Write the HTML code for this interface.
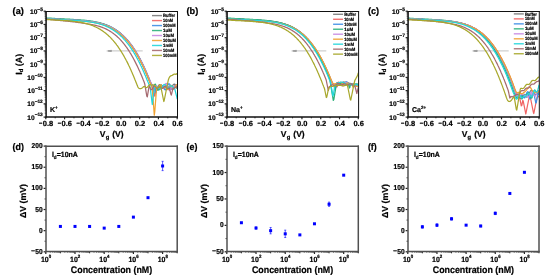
<!DOCTYPE html>
<html><head><meta charset="utf-8"><style>
html,body{margin:0;padding:0;background:#fff;}
svg{display:block;font-family:"Liberation Sans", sans-serif;will-change:transform;text-rendering:geometricPrecision;}
text{stroke:#000;stroke-width:0.2px;}
</style></head><body>
<svg width="550" height="279" viewBox="0 0 550 279" xmlns="http://www.w3.org/2000/svg">
<rect width="550" height="279" fill="#fff"/>
<defs><filter id="soft" x="0" y="0" width="550" height="279" filterUnits="userSpaceOnUse" color-interpolation-filters="sRGB"><feConvolveMatrix order="3" kernelMatrix="1 2 1 2 14 2 1 2 1" divisor="26" edgeMode="duplicate"/></filter><clipPath id="clip0"><rect x="45.8" y="11.2" width="131.40" height="105.90"/></clipPath><clipPath id="clip1"><rect x="226.8" y="11.2" width="131.50" height="105.90"/></clipPath><clipPath id="clip2"><rect x="407.8" y="11.2" width="131.20" height="105.90"/></clipPath></defs>
<g>
<line x1="108.9" y1="50.9" x2="142.7" y2="50.9" stroke="#cfcfcf" stroke-width="1.4" />
<path d="M105.9,50.9 L111.4,49.8 L111.4,52 Z" fill="#9a9a9a"/>
<line x1="107.9" y1="50.9" x2="111.9" y2="50.9" stroke="#a0a0a0" stroke-width="1.5" />
<g clip-path="url(#clip0)">
<path d="M45.8,18.5 L46.3,18.5 L46.8,18.5 L47.3,18.5 L47.8,18.6 L48.3,18.6 L48.8,18.6 L49.3,18.7 L49.8,18.7 L50.3,18.7 L50.8,18.8 L51.3,18.8 L51.8,18.8 L52.3,18.8 L52.8,18.9 L53.3,18.9 L53.8,18.9 L54.3,19.0 L54.8,19.0 L55.3,19.0 L55.8,19.0 L56.3,19.1 L56.8,19.1 L57.3,19.1 L57.8,19.2 L58.3,19.2 L58.8,19.2 L59.3,19.2 L59.8,19.3 L60.3,19.3 L60.8,19.3 L61.3,19.3 L61.8,19.4 L62.3,19.4 L62.8,19.4 L63.3,19.4 L63.8,19.5 L64.3,19.5 L64.8,19.5 L65.3,19.6 L65.8,19.6 L66.3,19.6 L66.8,19.6 L67.3,19.7 L67.8,19.7 L68.3,19.7 L68.8,19.7 L69.3,19.8 L69.8,19.8 L70.3,19.8 L70.8,19.8 L71.3,19.9 L71.8,19.9 L72.3,19.9 L72.8,20.0 L73.3,20.0 L73.8,20.0 L74.3,20.0 L74.8,20.1 L75.3,20.1 L75.8,20.1 L76.3,20.2 L76.8,20.2 L77.3,20.2 L77.8,20.3 L78.3,20.3 L78.8,20.3 L79.3,20.4 L79.8,20.4 L80.3,20.4 L80.8,20.5 L81.3,20.5 L81.8,20.5 L82.3,20.6 L82.8,20.6 L83.3,20.7 L83.8,20.7 L84.3,20.8 L84.8,20.8 L85.3,20.9 L85.8,20.9 L86.3,21.0 L86.8,21.0 L87.3,21.1 L87.8,21.1 L88.3,21.2 L88.8,21.2 L89.3,21.3 L89.8,21.4 L90.3,21.4 L90.8,21.5 L91.3,21.6 L91.8,21.6 L92.3,21.7 L92.8,21.8 L93.3,21.9 L93.8,21.9 L94.3,22.0 L94.8,22.1 L95.3,22.2 L95.8,22.3 L96.3,22.4 L96.8,22.5 L97.3,22.6 L97.8,22.7 L98.3,22.8 L98.8,22.9 L99.3,23.0 L99.8,23.1 L100.3,23.3 L100.8,23.4 L101.3,23.5 L101.8,23.7 L102.3,23.8 L102.8,24.0 L103.3,24.1 L103.8,24.3 L104.3,24.4 L104.8,24.6 L105.3,24.8 L105.8,24.9 L106.3,25.1 L106.8,25.3 L107.3,25.5 L107.8,25.7 L108.3,25.9 L108.8,26.1 L109.3,26.4 L109.8,26.6 L110.3,26.8 L110.8,27.1 L111.3,27.3 L111.8,27.6 L112.3,27.8 L112.8,28.1 L113.3,28.4 L113.8,28.6 L114.3,28.9 L114.8,29.2 L115.3,29.6 L115.8,29.9 L116.3,30.2 L116.8,30.5 L117.3,30.9 L117.8,31.2 L118.3,31.6 L118.8,32.0 L119.3,32.3 L119.8,32.7 L120.3,33.1 L120.8,33.6 L121.3,34.0 L121.8,34.4 L122.3,34.9 L122.8,35.3 L123.3,35.8 L123.8,36.2 L124.3,36.7 L124.8,37.2 L125.3,37.7 L125.8,38.3 L126.3,38.8 L126.8,39.4 L127.3,39.9 L127.8,40.5 L128.3,41.1 L128.8,41.7 L129.3,42.3 L129.8,42.9 L130.3,43.5 L130.8,44.2 L131.3,44.9 L131.8,45.5 L132.3,46.2 L132.8,46.9 L133.3,47.7 L133.8,48.4 L134.3,49.1 L134.8,49.9 L135.3,50.7 L135.8,51.5 L136.3,52.3 L136.8,53.1 L137.3,53.9 L137.8,54.8 L138.3,55.7 L138.8,56.6 L139.3,57.5 L139.8,58.4 L140.3,59.3 L140.8,60.3 L141.3,61.2 L141.8,62.2 L142.3,63.2 L142.8,64.2 L143.3,65.3 L143.8,66.3 L144.3,67.4 L144.8,68.5 L145.3,69.6 L145.8,70.7 L146.3,71.9 L146.8,73.0 L147.3,74.2 L147.8,75.4 L148.3,76.6 L148.8,77.8 L149.3,79.0 L149.8,80.2 L150.3,81.4 L150.8,82.5 L151.3,83.5 L151.8,84.4 L152.3,85.3 L152.8,86.1 L153.3,86.9 L153.8,87.7 L154.3,88.4 L154.8,88.9 L155.3,89.1 L155.8,89.1 L156.3,91.0 L156.8,90.5 L157.3,88.0 L157.8,86.7 L158.3,85.9 L158.8,85.3 L159.3,84.8 L159.8,84.6 L160.3,84.7 L160.8,85.0 L161.3,85.5 L161.8,86.1 L162.3,86.7 L162.8,87.3 L163.3,87.8 L163.8,88.0 L164.3,88.1 L164.8,88.0 L165.3,87.9 L165.8,87.6 L166.3,87.4 L166.8,87.3 L167.3,87.3 L167.8,87.4 L168.3,87.6 L168.8,87.8 L169.3,88.1 L169.8,88.2 L170.3,88.1 L170.8,87.9 L171.3,87.4 L171.8,86.8 L172.3,86.1 L172.8,85.3 L173.3,84.7 L173.8,84.3 L174.3,84.1 L174.8,84.3 L175.3,84.8 L175.8,85.5 L176.3,86.5 L176.8,87.5 L177.2,88.4" fill="none" stroke="#7a7a7a" stroke-width="1.25" stroke-linejoin="round" stroke-linecap="round" />
<path d="M45.8,18.5 L46.3,18.5 L46.8,18.6 L47.3,18.6 L47.8,18.6 L48.3,18.6 L48.8,18.7 L49.3,18.7 L49.8,18.7 L50.3,18.8 L50.8,18.8 L51.3,18.8 L51.8,18.9 L52.3,18.9 L52.8,18.9 L53.3,18.9 L53.8,19.0 L54.3,19.0 L54.8,19.0 L55.3,19.1 L55.8,19.1 L56.3,19.1 L56.8,19.1 L57.3,19.2 L57.8,19.2 L58.3,19.2 L58.8,19.2 L59.3,19.3 L59.8,19.3 L60.3,19.3 L60.8,19.3 L61.3,19.4 L61.8,19.4 L62.3,19.4 L62.8,19.5 L63.3,19.5 L63.8,19.5 L64.3,19.5 L64.8,19.6 L65.3,19.6 L65.8,19.6 L66.3,19.6 L66.8,19.7 L67.3,19.7 L67.8,19.7 L68.3,19.7 L68.8,19.8 L69.3,19.8 L69.8,19.8 L70.3,19.9 L70.8,19.9 L71.3,19.9 L71.8,19.9 L72.3,20.0 L72.8,20.0 L73.3,20.0 L73.8,20.0 L74.3,20.1 L74.8,20.1 L75.3,20.1 L75.8,20.2 L76.3,20.2 L76.8,20.2 L77.3,20.3 L77.8,20.3 L78.3,20.3 L78.8,20.4 L79.3,20.4 L79.8,20.4 L80.3,20.5 L80.8,20.5 L81.3,20.6 L81.8,20.6 L82.3,20.6 L82.8,20.7 L83.3,20.7 L83.8,20.8 L84.3,20.8 L84.8,20.9 L85.3,20.9 L85.8,21.0 L86.3,21.0 L86.8,21.1 L87.3,21.1 L87.8,21.2 L88.3,21.2 L88.8,21.3 L89.3,21.4 L89.8,21.4 L90.3,21.5 L90.8,21.6 L91.3,21.6 L91.8,21.7 L92.3,21.8 L92.8,21.9 L93.3,21.9 L93.8,22.0 L94.3,22.1 L94.8,22.2 L95.3,22.3 L95.8,22.4 L96.3,22.5 L96.8,22.6 L97.3,22.7 L97.8,22.8 L98.3,22.9 L98.8,23.1 L99.3,23.2 L99.8,23.3 L100.3,23.4 L100.8,23.6 L101.3,23.7 L101.8,23.8 L102.3,24.0 L102.8,24.1 L103.3,24.3 L103.8,24.5 L104.3,24.6 L104.8,24.8 L105.3,25.0 L105.8,25.2 L106.3,25.4 L106.8,25.6 L107.3,25.8 L107.8,26.0 L108.3,26.2 L108.8,26.4 L109.3,26.6 L109.8,26.9 L110.3,27.1 L110.8,27.4 L111.3,27.6 L111.8,27.9 L112.3,28.1 L112.8,28.4 L113.3,28.7 L113.8,29.0 L114.3,29.3 L114.8,29.6 L115.3,29.9 L115.8,30.3 L116.3,30.6 L116.8,30.9 L117.3,31.3 L117.8,31.7 L118.3,32.0 L118.8,32.4 L119.3,32.8 L119.8,33.2 L120.3,33.6 L120.8,34.1 L121.3,34.5 L121.8,34.9 L122.3,35.4 L122.8,35.9 L123.3,36.3 L123.8,36.8 L124.3,37.3 L124.8,37.9 L125.3,38.4 L125.8,38.9 L126.3,39.5 L126.8,40.0 L127.3,40.6 L127.8,41.2 L128.3,41.8 L128.8,42.4 L129.3,43.0 L129.8,43.7 L130.3,44.3 L130.8,45.0 L131.3,45.7 L131.8,46.4 L132.3,47.1 L132.8,47.8 L133.3,48.5 L133.8,49.3 L134.3,50.1 L134.8,50.8 L135.3,51.6 L135.8,52.4 L136.3,53.3 L136.8,54.1 L137.3,55.0 L137.8,55.9 L138.3,56.7 L138.8,57.6 L139.3,58.6 L139.8,59.5 L140.3,60.5 L140.8,61.4 L141.3,62.4 L141.8,63.4 L142.3,64.4 L142.8,65.5 L143.3,66.5 L143.8,67.6 L144.3,68.7 L144.8,69.8 L145.3,70.9 L145.8,72.1 L146.3,73.2 L146.8,74.4 L147.3,75.6 L147.8,76.8 L148.3,78.0 L148.8,79.2 L149.3,80.4 L149.8,81.6 L150.3,82.7 L150.8,83.7 L151.3,84.7 L151.8,85.6 L152.3,86.4 L152.8,87.0 L153.3,88.4 L153.8,91.9 L154.3,95.4 L154.8,96.1 L155.3,92.6 L155.8,89.1 L156.3,87.4 L156.8,87.1 L157.3,86.9 L157.8,86.7 L158.3,86.6 L158.8,86.6 L159.3,86.6 L159.8,86.8 L160.3,86.9 L160.8,87.1 L161.3,87.2 L161.8,87.3 L162.3,87.3 L162.8,87.2 L163.3,87.0 L163.8,86.8 L164.3,86.5 L164.8,86.2 L165.3,86.0 L165.8,85.8 L166.3,85.7 L166.8,85.8 L167.3,86.0 L167.8,86.4 L168.3,86.8 L168.8,87.3 L169.3,87.8 L169.8,88.3 L170.3,88.7 L170.8,89.0 L171.3,89.1 L171.8,89.1 L172.3,88.8 L172.8,88.4 L173.3,87.9 L173.8,87.2 L174.3,86.6 L174.8,86.0 L175.3,85.5 L175.8,85.1 L176.3,84.9 L176.8,84.8 L177.2,84.9" fill="none" stroke="#f06464" stroke-width="1.25" stroke-linejoin="round" stroke-linecap="round" />
<path d="M45.8,18.5 L46.3,18.5 L46.8,18.5 L47.3,18.6 L47.8,18.6 L48.3,18.6 L48.8,18.7 L49.3,18.7 L49.8,18.7 L50.3,18.7 L50.8,18.8 L51.3,18.8 L51.8,18.8 L52.3,18.9 L52.8,18.9 L53.3,18.9 L53.8,19.0 L54.3,19.0 L54.8,19.0 L55.3,19.0 L55.8,19.1 L56.3,19.1 L56.8,19.1 L57.3,19.1 L57.8,19.2 L58.3,19.2 L58.8,19.2 L59.3,19.3 L59.8,19.3 L60.3,19.3 L60.8,19.3 L61.3,19.4 L61.8,19.4 L62.3,19.4 L62.8,19.4 L63.3,19.5 L63.8,19.5 L64.3,19.5 L64.8,19.5 L65.3,19.6 L65.8,19.6 L66.3,19.6 L66.8,19.6 L67.3,19.7 L67.8,19.7 L68.3,19.7 L68.8,19.8 L69.3,19.8 L69.8,19.8 L70.3,19.8 L70.8,19.9 L71.3,19.9 L71.8,19.9 L72.3,19.9 L72.8,20.0 L73.3,20.0 L73.8,20.0 L74.3,20.1 L74.8,20.1 L75.3,20.1 L75.8,20.2 L76.3,20.2 L76.8,20.2 L77.3,20.2 L77.8,20.3 L78.3,20.3 L78.8,20.3 L79.3,20.4 L79.8,20.4 L80.3,20.5 L80.8,20.5 L81.3,20.5 L81.8,20.6 L82.3,20.6 L82.8,20.7 L83.3,20.7 L83.8,20.7 L84.3,20.8 L84.8,20.8 L85.3,20.9 L85.8,20.9 L86.3,21.0 L86.8,21.0 L87.3,21.1 L87.8,21.1 L88.3,21.2 L88.8,21.3 L89.3,21.3 L89.8,21.4 L90.3,21.5 L90.8,21.5 L91.3,21.6 L91.8,21.7 L92.3,21.7 L92.8,21.8 L93.3,21.9 L93.8,22.0 L94.3,22.1 L94.8,22.2 L95.3,22.2 L95.8,22.3 L96.3,22.4 L96.8,22.5 L97.3,22.6 L97.8,22.8 L98.3,22.9 L98.8,23.0 L99.3,23.1 L99.8,23.2 L100.3,23.4 L100.8,23.5 L101.3,23.6 L101.8,23.8 L102.3,23.9 L102.8,24.1 L103.3,24.2 L103.8,24.4 L104.3,24.5 L104.8,24.7 L105.3,24.9 L105.8,25.1 L106.3,25.2 L106.8,25.4 L107.3,25.6 L107.8,25.8 L108.3,26.0 L108.8,26.3 L109.3,26.5 L109.8,26.7 L110.3,27.0 L110.8,27.2 L111.3,27.5 L111.8,27.7 L112.3,28.0 L112.8,28.3 L113.3,28.5 L113.8,28.8 L114.3,29.1 L114.8,29.4 L115.3,29.7 L115.8,30.1 L116.3,30.4 L116.8,30.7 L117.3,31.1 L117.8,31.4 L118.3,31.8 L118.8,32.2 L119.3,32.6 L119.8,33.0 L120.3,33.4 L120.8,33.8 L121.3,34.2 L121.8,34.7 L122.3,35.1 L122.8,35.6 L123.3,36.1 L123.8,36.5 L124.3,37.0 L124.8,37.5 L125.3,38.1 L125.8,38.6 L126.3,39.1 L126.8,39.7 L127.3,40.3 L127.8,40.8 L128.3,41.4 L128.8,42.0 L129.3,42.7 L129.8,43.3 L130.3,43.9 L130.8,44.6 L131.3,45.3 L131.8,45.9 L132.3,46.6 L132.8,47.4 L133.3,48.1 L133.8,48.8 L134.3,49.6 L134.8,50.4 L135.3,51.2 L135.8,52.0 L136.3,52.8 L136.8,53.6 L137.3,54.5 L137.8,55.3 L138.3,56.2 L138.8,57.1 L139.3,58.0 L139.8,58.9 L140.3,59.9 L140.8,60.8 L141.3,61.8 L141.8,62.8 L142.3,63.8 L142.8,64.9 L143.3,65.9 L143.8,67.0 L144.3,68.1 L144.8,69.1 L145.3,70.3 L145.8,71.4 L146.3,72.5 L146.8,73.7 L147.3,74.9 L147.8,76.1 L148.3,77.3 L148.8,78.5 L149.3,79.7 L149.8,81.0 L150.3,82.2 L150.8,83.5 L151.3,84.7 L151.8,85.7 L152.3,86.5 L152.8,86.7 L153.3,86.4 L153.8,85.8 L154.3,86.2 L154.8,89.2 L155.3,92.2 L155.8,92.8 L156.3,89.8 L156.8,86.8 L157.3,87.6 L157.8,88.3 L158.3,88.6 L158.8,88.6 L159.3,88.2 L159.8,87.5 L160.3,86.7 L160.8,86.0 L161.3,85.4 L161.8,85.3 L162.3,85.6 L162.8,86.2 L163.3,87.1 L163.8,88.2 L164.3,89.1 L164.8,89.7 L165.3,89.9 L165.8,89.5 L166.3,88.8 L166.8,87.6 L167.3,86.4 L167.8,85.2 L168.3,84.3 L168.8,83.8 L169.3,83.8 L169.8,84.4 L170.3,85.4 L170.8,86.6 L171.3,87.8 L171.8,88.8 L172.3,89.4 L172.8,89.5 L173.3,89.2 L173.8,88.4 L174.3,87.5 L174.8,86.4 L175.3,85.5 L175.8,85.0 L176.3,84.8 L176.8,85.0 L177.2,85.5" fill="none" stroke="#3d8ee6" stroke-width="1.25" stroke-linejoin="round" stroke-linecap="round" />
<path d="M45.8,17.9 L46.3,17.9 L46.8,18.0 L47.3,18.0 L47.8,18.0 L48.3,18.1 L48.8,18.1 L49.3,18.1 L49.8,18.2 L50.3,18.2 L50.8,18.2 L51.3,18.2 L51.8,18.3 L52.3,18.3 L52.8,18.3 L53.3,18.4 L53.8,18.4 L54.3,18.4 L54.8,18.4 L55.3,18.5 L55.8,18.5 L56.3,18.5 L56.8,18.6 L57.3,18.6 L57.8,18.6 L58.3,18.6 L58.8,18.7 L59.3,18.7 L59.8,18.7 L60.3,18.7 L60.8,18.8 L61.3,18.8 L61.8,18.8 L62.3,18.8 L62.8,18.9 L63.3,18.9 L63.8,18.9 L64.3,18.9 L64.8,19.0 L65.3,19.0 L65.8,19.0 L66.3,19.1 L66.8,19.1 L67.3,19.1 L67.8,19.1 L68.3,19.2 L68.8,19.2 L69.3,19.2 L69.8,19.2 L70.3,19.3 L70.8,19.3 L71.3,19.3 L71.8,19.4 L72.3,19.4 L72.8,19.4 L73.3,19.4 L73.8,19.5 L74.3,19.5 L74.8,19.5 L75.3,19.6 L75.8,19.6 L76.3,19.6 L76.8,19.7 L77.3,19.7 L77.8,19.7 L78.3,19.8 L78.8,19.8 L79.3,19.8 L79.8,19.9 L80.3,19.9 L80.8,19.9 L81.3,20.0 L81.8,20.0 L82.3,20.1 L82.8,20.1 L83.3,20.2 L83.8,20.2 L84.3,20.2 L84.8,20.3 L85.3,20.3 L85.8,20.4 L86.3,20.4 L86.8,20.5 L87.3,20.6 L87.8,20.6 L88.3,20.7 L88.8,20.7 L89.3,20.8 L89.8,20.9 L90.3,20.9 L90.8,21.0 L91.3,21.1 L91.8,21.2 L92.3,21.2 L92.8,21.3 L93.3,21.4 L93.8,21.5 L94.3,21.6 L94.8,21.7 L95.3,21.8 L95.8,21.9 L96.3,22.0 L96.8,22.1 L97.3,22.2 L97.8,22.3 L98.3,22.4 L98.8,22.5 L99.3,22.6 L99.8,22.8 L100.3,22.9 L100.8,23.0 L101.3,23.2 L101.8,23.3 L102.3,23.5 L102.8,23.6 L103.3,23.8 L103.8,24.0 L104.3,24.1 L104.8,24.3 L105.3,24.5 L105.8,24.7 L106.3,24.9 L106.8,25.1 L107.3,25.3 L107.8,25.5 L108.3,25.7 L108.8,25.9 L109.3,26.2 L109.8,26.4 L110.3,26.7 L110.8,26.9 L111.3,27.2 L111.8,27.4 L112.3,27.7 L112.8,28.0 L113.3,28.3 L113.8,28.6 L114.3,28.9 L114.8,29.2 L115.3,29.5 L115.8,29.9 L116.3,30.2 L116.8,30.6 L117.3,30.9 L117.8,31.3 L118.3,31.7 L118.8,32.1 L119.3,32.5 L119.8,32.9 L120.3,33.3 L120.8,33.7 L121.3,34.2 L121.8,34.6 L122.3,35.1 L122.8,35.6 L123.3,36.0 L123.8,36.5 L124.3,37.0 L124.8,37.6 L125.3,38.1 L125.8,38.6 L126.3,39.2 L126.8,39.8 L127.3,40.4 L127.8,40.9 L128.3,41.6 L128.8,42.2 L129.3,42.8 L129.8,43.5 L130.3,44.1 L130.8,44.8 L131.3,45.5 L131.8,46.2 L132.3,46.9 L132.8,47.6 L133.3,48.4 L133.8,49.1 L134.3,49.9 L134.8,50.7 L135.3,51.5 L135.8,52.3 L136.3,53.2 L136.8,54.0 L137.3,54.9 L137.8,55.8 L138.3,56.7 L138.8,57.6 L139.3,58.5 L139.8,59.5 L140.3,60.4 L140.8,61.4 L141.3,62.4 L141.8,63.4 L142.3,64.5 L142.8,65.5 L143.3,66.6 L143.8,67.7 L144.3,68.8 L144.8,69.9 L145.3,71.0 L145.8,72.2 L146.3,73.3 L146.8,74.5 L147.3,75.7 L147.8,77.0 L148.3,78.2 L148.8,79.4 L149.3,80.6 L149.8,81.7 L150.3,82.7 L150.8,83.9 L151.3,85.1 L151.8,86.3 L152.3,87.4 L152.8,87.9 L153.3,87.6 L153.8,86.5 L154.3,85.2 L154.8,84.3 L155.3,84.2 L155.8,85.0 L156.3,86.4 L156.8,88.1 L157.3,89.5 L157.8,90.1 L158.3,89.8 L158.8,90.0 L159.3,89.5 L159.8,87.0 L160.3,84.8 L160.8,84.6 L161.3,85.1 L161.8,86.1 L162.3,87.2 L162.8,88.0 L163.3,88.3 L163.8,88.0 L164.3,87.4 L164.8,86.7 L165.3,86.3 L165.8,86.3 L166.3,86.7 L166.8,87.3 L167.3,87.9 L167.8,88.1 L168.3,88.0 L168.8,87.4 L169.3,86.7 L169.8,86.1 L170.3,85.8 L170.8,85.9 L171.3,86.3 L171.8,86.9 L172.3,87.4 L172.8,87.6 L173.3,87.5 L173.8,87.2 L174.3,86.8 L174.8,86.6 L175.3,86.7 L175.8,87.1 L176.3,87.7 L176.8,88.1 L177.2,88.2" fill="none" stroke="#2bb07a" stroke-width="1.25" stroke-linejoin="round" stroke-linecap="round" />
<path d="M45.8,18.5 L46.3,18.5 L46.8,18.5 L47.3,18.6 L47.8,18.6 L48.3,18.6 L48.8,18.7 L49.3,18.7 L49.8,18.7 L50.3,18.7 L50.8,18.8 L51.3,18.8 L51.8,18.8 L52.3,18.9 L52.8,18.9 L53.3,18.9 L53.8,18.9 L54.3,19.0 L54.8,19.0 L55.3,19.0 L55.8,19.1 L56.3,19.1 L56.8,19.1 L57.3,19.1 L57.8,19.2 L58.3,19.2 L58.8,19.2 L59.3,19.2 L59.8,19.3 L60.3,19.3 L60.8,19.3 L61.3,19.4 L61.8,19.4 L62.3,19.4 L62.8,19.4 L63.3,19.5 L63.8,19.5 L64.3,19.5 L64.8,19.5 L65.3,19.6 L65.8,19.6 L66.3,19.6 L66.8,19.6 L67.3,19.7 L67.8,19.7 L68.3,19.7 L68.8,19.7 L69.3,19.8 L69.8,19.8 L70.3,19.8 L70.8,19.9 L71.3,19.9 L71.8,19.9 L72.3,19.9 L72.8,20.0 L73.3,20.0 L73.8,20.0 L74.3,20.1 L74.8,20.1 L75.3,20.1 L75.8,20.1 L76.3,20.2 L76.8,20.2 L77.3,20.2 L77.8,20.3 L78.3,20.3 L78.8,20.3 L79.3,20.4 L79.8,20.4 L80.3,20.4 L80.8,20.5 L81.3,20.5 L81.8,20.6 L82.3,20.6 L82.8,20.6 L83.3,20.7 L83.8,20.7 L84.3,20.8 L84.8,20.8 L85.3,20.9 L85.8,20.9 L86.3,21.0 L86.8,21.0 L87.3,21.1 L87.8,21.1 L88.3,21.2 L88.8,21.3 L89.3,21.3 L89.8,21.4 L90.3,21.4 L90.8,21.5 L91.3,21.6 L91.8,21.7 L92.3,21.7 L92.8,21.8 L93.3,21.9 L93.8,22.0 L94.3,22.1 L94.8,22.1 L95.3,22.2 L95.8,22.3 L96.3,22.4 L96.8,22.5 L97.3,22.6 L97.8,22.7 L98.3,22.8 L98.8,23.0 L99.3,23.1 L99.8,23.2 L100.3,23.3 L100.8,23.5 L101.3,23.6 L101.8,23.7 L102.3,23.9 L102.8,24.0 L103.3,24.2 L103.8,24.3 L104.3,24.5 L104.8,24.7 L105.3,24.8 L105.8,25.0 L106.3,25.2 L106.8,25.4 L107.3,25.6 L107.8,25.8 L108.3,26.0 L108.8,26.2 L109.3,26.4 L109.8,26.7 L110.3,26.9 L110.8,27.2 L111.3,27.4 L111.8,27.7 L112.3,27.9 L112.8,28.2 L113.3,28.5 L113.8,28.8 L114.3,29.1 L114.8,29.4 L115.3,29.7 L115.8,30.0 L116.3,30.3 L116.8,30.7 L117.3,31.0 L117.8,31.4 L118.3,31.7 L118.8,32.1 L119.3,32.5 L119.8,32.9 L120.3,33.3 L120.8,33.7 L121.3,34.1 L121.8,34.6 L122.3,35.0 L122.8,35.5 L123.3,36.0 L123.8,36.4 L124.3,36.9 L124.8,37.4 L125.3,38.0 L125.8,38.5 L126.3,39.0 L126.8,39.6 L127.3,40.1 L127.8,40.7 L128.3,41.3 L128.8,41.9 L129.3,42.5 L129.8,43.2 L130.3,43.8 L130.8,44.5 L131.3,45.1 L131.8,45.8 L132.3,46.5 L132.8,47.2 L133.3,47.9 L133.8,48.7 L134.3,49.4 L134.8,50.2 L135.3,51.0 L135.8,51.8 L136.3,52.6 L136.8,53.4 L137.3,54.3 L137.8,55.1 L138.3,56.0 L138.8,56.9 L139.3,57.8 L139.8,58.8 L140.3,59.7 L140.8,60.7 L141.3,61.6 L141.8,62.6 L142.3,63.6 L142.8,64.7 L143.3,65.7 L143.8,66.8 L144.3,67.8 L144.8,68.9 L145.3,70.0 L145.8,71.2 L146.3,72.3 L146.8,73.5 L147.3,74.7 L147.8,75.8 L148.3,77.1 L148.8,78.2 L149.3,79.4 L149.8,80.5 L150.3,81.6 L150.8,82.7 L151.3,83.9 L151.8,85.0 L152.3,86.2 L152.8,87.1 L153.3,87.7 L153.8,87.8 L154.3,87.3 L154.8,86.7 L155.3,86.1 L155.8,85.8 L156.3,86.0 L156.8,86.6 L157.3,87.3 L157.8,88.0 L158.3,88.3 L158.8,88.3 L159.3,87.9 L159.8,87.3 L160.3,87.0 L160.8,89.5 L161.3,89.0 L161.8,87.1 L162.3,87.7 L162.8,88.2 L163.3,88.3 L163.8,87.9 L164.3,86.9 L164.8,85.7 L165.3,84.4 L165.8,83.6 L166.3,83.4 L166.8,84.0 L167.3,85.2 L167.8,86.8 L168.3,88.5 L168.8,89.7 L169.3,90.3 L169.8,90.3 L170.3,89.6 L170.8,88.7 L171.3,87.7 L171.8,87.0 L172.3,86.7 L172.8,86.7 L173.3,86.9 L173.8,87.1 L174.3,87.0 L174.8,86.7 L175.3,86.1 L175.8,85.4 L176.3,85.0 L176.8,84.8 L177.2,85.0" fill="none" stroke="#c88ae2" stroke-width="1.25" stroke-linejoin="round" stroke-linecap="round" />
<path d="M45.8,19.0 L46.3,19.0 L46.8,19.0 L47.3,19.1 L47.8,19.1 L48.3,19.1 L48.8,19.2 L49.3,19.2 L49.8,19.2 L50.3,19.3 L50.8,19.3 L51.3,19.3 L51.8,19.3 L52.3,19.4 L52.8,19.4 L53.3,19.4 L53.8,19.5 L54.3,19.5 L54.8,19.5 L55.3,19.5 L55.8,19.6 L56.3,19.6 L56.8,19.6 L57.3,19.7 L57.8,19.7 L58.3,19.7 L58.8,19.7 L59.3,19.8 L59.8,19.8 L60.3,19.8 L60.8,19.8 L61.3,19.9 L61.8,19.9 L62.3,19.9 L62.8,19.9 L63.3,20.0 L63.8,20.0 L64.3,20.0 L64.8,20.1 L65.3,20.1 L65.8,20.1 L66.3,20.1 L66.8,20.2 L67.3,20.2 L67.8,20.2 L68.3,20.2 L68.8,20.3 L69.3,20.3 L69.8,20.3 L70.3,20.3 L70.8,20.4 L71.3,20.4 L71.8,20.4 L72.3,20.5 L72.8,20.5 L73.3,20.5 L73.8,20.5 L74.3,20.6 L74.8,20.6 L75.3,20.6 L75.8,20.7 L76.3,20.7 L76.8,20.7 L77.3,20.8 L77.8,20.8 L78.3,20.8 L78.8,20.9 L79.3,20.9 L79.8,20.9 L80.3,21.0 L80.8,21.0 L81.3,21.0 L81.8,21.1 L82.3,21.1 L82.8,21.2 L83.3,21.2 L83.8,21.3 L84.3,21.3 L84.8,21.4 L85.3,21.4 L85.8,21.5 L86.3,21.5 L86.8,21.6 L87.3,21.6 L87.8,21.7 L88.3,21.7 L88.8,21.8 L89.3,21.9 L89.8,21.9 L90.3,22.0 L90.8,22.1 L91.3,22.1 L91.8,22.2 L92.3,22.3 L92.8,22.4 L93.3,22.4 L93.8,22.5 L94.3,22.6 L94.8,22.7 L95.3,22.8 L95.8,22.9 L96.3,23.0 L96.8,23.1 L97.3,23.2 L97.8,23.3 L98.3,23.4 L98.8,23.5 L99.3,23.6 L99.8,23.8 L100.3,23.9 L100.8,24.0 L101.3,24.2 L101.8,24.3 L102.3,24.5 L102.8,24.6 L103.3,24.8 L103.8,24.9 L104.3,25.1 L104.8,25.3 L105.3,25.4 L105.8,25.6 L106.3,25.8 L106.8,26.0 L107.3,26.2 L107.8,26.4 L108.3,26.6 L108.8,26.9 L109.3,27.1 L109.8,27.3 L110.3,27.6 L110.8,27.8 L111.3,28.1 L111.8,28.3 L112.3,28.6 L112.8,28.9 L113.3,29.1 L113.8,29.4 L114.3,29.7 L114.8,30.1 L115.3,30.4 L115.8,30.7 L116.3,31.0 L116.8,31.4 L117.3,31.7 L117.8,32.1 L118.3,32.5 L118.8,32.8 L119.3,33.2 L119.8,33.6 L120.3,34.1 L120.8,34.5 L121.3,34.9 L121.8,35.4 L122.3,35.8 L122.8,36.3 L123.3,36.7 L123.8,37.2 L124.3,37.7 L124.8,38.2 L125.3,38.8 L125.8,39.3 L126.3,39.9 L126.8,40.4 L127.3,41.0 L127.8,41.6 L128.3,42.2 L128.8,42.8 L129.3,43.4 L129.8,44.0 L130.3,44.7 L130.8,45.4 L131.3,46.0 L131.8,46.7 L132.3,47.4 L132.8,48.2 L133.3,48.9 L133.8,49.6 L134.3,50.4 L134.8,51.2 L135.3,52.0 L135.8,52.8 L136.3,53.6 L136.8,54.4 L137.3,55.3 L137.8,56.2 L138.3,57.1 L138.8,58.0 L139.3,58.9 L139.8,59.8 L140.3,60.8 L140.8,61.7 L141.3,62.7 L141.8,63.7 L142.3,64.7 L142.8,65.8 L143.3,66.8 L143.8,67.9 L144.3,69.0 L144.8,70.1 L145.3,71.2 L145.8,72.3 L146.3,73.5 L146.8,74.7 L147.3,75.9 L147.8,77.1 L148.3,78.3 L148.8,79.5 L149.3,80.8 L149.8,82.0 L150.3,83.2 L150.8,84.4 L151.3,85.5 L151.8,86.5 L152.3,89.2 L152.8,95.7 L153.3,102.2 L153.8,108.7 L154.3,115.2 L154.8,111.3 L155.3,104.8 L155.8,98.3 L156.3,91.8 L156.8,87.7 L157.3,88.1 L157.8,88.0 L158.3,87.5 L158.8,86.6 L159.3,85.7 L159.8,85.0 L160.3,84.7 L160.8,84.9 L161.3,85.5 L161.8,86.3 L162.3,87.0 L162.8,87.5 L163.3,87.6 L163.8,87.4 L164.3,87.0 L164.8,86.7 L165.3,86.8 L165.8,87.1 L166.3,87.8 L166.8,88.6 L167.3,89.3 L167.8,89.6 L168.3,89.4 L168.8,88.7 L169.3,87.7 L169.8,86.6 L170.3,85.7 L170.8,85.3 L171.3,85.5 L171.8,86.1 L172.3,87.1 L172.8,88.1 L173.3,88.7 L173.8,88.9 L174.3,88.5 L174.8,87.7 L175.3,86.7 L175.8,85.7 L176.3,85.0 L176.8,84.6 L177.2,84.6" fill="none" stroke="#f0a232" stroke-width="1.25" stroke-linejoin="round" stroke-linecap="round" />
<path d="M45.8,18.8 L46.3,18.8 L46.8,18.9 L47.3,18.9 L47.8,18.9 L48.3,19.0 L48.8,19.0 L49.3,19.0 L49.8,19.0 L50.3,19.1 L50.8,19.1 L51.3,19.1 L51.8,19.2 L52.3,19.2 L52.8,19.2 L53.3,19.2 L53.8,19.3 L54.3,19.3 L54.8,19.3 L55.3,19.4 L55.8,19.4 L56.3,19.4 L56.8,19.4 L57.3,19.5 L57.8,19.5 L58.3,19.5 L58.8,19.5 L59.3,19.6 L59.8,19.6 L60.3,19.6 L60.8,19.6 L61.3,19.7 L61.8,19.7 L62.3,19.7 L62.8,19.8 L63.3,19.8 L63.8,19.8 L64.3,19.8 L64.8,19.9 L65.3,19.9 L65.8,19.9 L66.3,19.9 L66.8,20.0 L67.3,20.0 L67.8,20.0 L68.3,20.0 L68.8,20.1 L69.3,20.1 L69.8,20.1 L70.3,20.2 L70.8,20.2 L71.3,20.2 L71.8,20.2 L72.3,20.3 L72.8,20.3 L73.3,20.3 L73.8,20.4 L74.3,20.4 L74.8,20.4 L75.3,20.5 L75.8,20.5 L76.3,20.5 L76.8,20.6 L77.3,20.6 L77.8,20.6 L78.3,20.7 L78.8,20.7 L79.3,20.7 L79.8,20.8 L80.3,20.8 L80.8,20.9 L81.3,20.9 L81.8,21.0 L82.3,21.0 L82.8,21.1 L83.3,21.1 L83.8,21.2 L84.3,21.2 L84.8,21.3 L85.3,21.3 L85.8,21.4 L86.3,21.4 L86.8,21.5 L87.3,21.6 L87.8,21.6 L88.3,21.7 L88.8,21.8 L89.3,21.8 L89.8,21.9 L90.3,22.0 L90.8,22.1 L91.3,22.1 L91.8,22.2 L92.3,22.3 L92.8,22.4 L93.3,22.5 L93.8,22.6 L94.3,22.7 L94.8,22.8 L95.3,22.9 L95.8,23.0 L96.3,23.1 L96.8,23.2 L97.3,23.3 L97.8,23.5 L98.3,23.6 L98.8,23.7 L99.3,23.9 L99.8,24.0 L100.3,24.2 L100.8,24.3 L101.3,24.5 L101.8,24.6 L102.3,24.8 L102.8,25.0 L103.3,25.1 L103.8,25.3 L104.3,25.5 L104.8,25.7 L105.3,25.9 L105.8,26.1 L106.3,26.3 L106.8,26.6 L107.3,26.8 L107.8,27.0 L108.3,27.3 L108.8,27.5 L109.3,27.8 L109.8,28.0 L110.3,28.3 L110.8,28.6 L111.3,28.8 L111.8,29.1 L112.3,29.4 L112.8,29.8 L113.3,30.1 L113.8,30.4 L114.3,30.7 L114.8,31.1 L115.3,31.4 L115.8,31.8 L116.3,32.2 L116.8,32.5 L117.3,32.9 L117.8,33.3 L118.3,33.8 L118.8,34.2 L119.3,34.6 L119.8,35.1 L120.3,35.5 L120.8,36.0 L121.3,36.4 L121.8,36.9 L122.3,37.4 L122.8,37.9 L123.3,38.5 L123.8,39.0 L124.3,39.6 L124.8,40.1 L125.3,40.7 L125.8,41.3 L126.3,41.9 L126.8,42.5 L127.3,43.1 L127.8,43.7 L128.3,44.4 L128.8,45.1 L129.3,45.7 L129.8,46.4 L130.3,47.1 L130.8,47.9 L131.3,48.6 L131.8,49.3 L132.3,50.1 L132.8,50.9 L133.3,51.7 L133.8,52.5 L134.3,53.3 L134.8,54.1 L135.3,55.0 L135.8,55.9 L136.3,56.8 L136.8,57.7 L137.3,58.6 L137.8,59.5 L138.3,60.5 L138.8,61.4 L139.3,62.4 L139.8,63.4 L140.3,64.4 L140.8,65.5 L141.3,66.5 L141.8,67.6 L142.3,68.7 L142.8,69.8 L143.3,70.9 L143.8,72.1 L144.3,73.2 L144.8,74.4 L145.3,75.6 L145.8,76.8 L146.3,78.0 L146.8,79.2 L147.3,80.4 L147.8,81.6 L148.3,82.8 L148.8,83.9 L149.3,84.9 L149.8,85.6 L150.3,88.5 L150.8,92.5 L151.3,96.5 L151.8,100.5 L152.3,104.5 L152.8,100.5 L153.3,96.5 L153.8,92.5 L154.3,88.5 L154.8,87.6 L155.3,87.7 L155.8,87.7 L156.3,87.5 L156.8,87.3 L157.3,87.2 L157.8,87.2 L158.3,87.4 L158.8,87.7 L159.3,88.2 L159.8,88.6 L160.3,88.9 L160.8,88.9 L161.3,88.6 L161.8,88.0 L162.3,87.1 L162.8,86.2 L163.3,85.3 L163.8,84.7 L164.3,84.4 L164.8,84.5 L165.3,85.0 L165.8,85.8 L166.3,86.7 L166.8,87.5 L167.3,88.1 L167.8,88.3 L168.3,88.2 L168.8,87.8 L169.3,87.2 L169.8,86.6 L170.3,86.0 L170.8,85.8 L171.3,85.7 L171.8,86.0 L172.3,86.4 L172.8,87.0 L173.3,87.5 L173.8,87.9 L174.3,88.2 L174.8,89.2 L175.3,91.2 L175.8,93.2 L176.3,95.2 L176.8,97.2 L177.2,98.8" fill="none" stroke="#22d6dc" stroke-width="1.25" stroke-linejoin="round" stroke-linecap="round" />
<path d="M45.8,19.0 L46.3,19.1 L46.8,19.1 L47.3,19.2 L47.8,19.2 L48.3,19.3 L48.8,19.3 L49.3,19.4 L49.8,19.4 L50.3,19.5 L50.8,19.5 L51.3,19.6 L51.8,19.6 L52.3,19.7 L52.8,19.7 L53.3,19.8 L53.8,19.8 L54.3,19.9 L54.8,19.9 L55.3,20.0 L55.8,20.0 L56.3,20.1 L56.8,20.1 L57.3,20.2 L57.8,20.2 L58.3,20.3 L58.8,20.3 L59.3,20.4 L59.8,20.4 L60.3,20.5 L60.8,20.5 L61.3,20.6 L61.8,20.6 L62.3,20.7 L62.8,20.7 L63.3,20.8 L63.8,20.8 L64.3,20.9 L64.8,20.9 L65.3,21.0 L65.8,21.0 L66.3,21.1 L66.8,21.1 L67.3,21.2 L67.8,21.2 L68.3,21.3 L68.8,21.3 L69.3,21.4 L69.8,21.4 L70.3,21.5 L70.8,21.5 L71.3,21.6 L71.8,21.7 L72.3,21.7 L72.8,21.8 L73.3,21.8 L73.8,21.9 L74.3,21.9 L74.8,22.0 L75.3,22.1 L75.8,22.1 L76.3,22.2 L76.8,22.3 L77.3,22.3 L77.8,22.4 L78.3,22.5 L78.8,22.5 L79.3,22.6 L79.8,22.7 L80.3,22.7 L80.8,22.8 L81.3,22.9 L81.8,23.0 L82.3,23.0 L82.8,23.1 L83.3,23.2 L83.8,23.3 L84.3,23.4 L84.8,23.5 L85.3,23.6 L85.8,23.7 L86.3,23.7 L86.8,23.8 L87.3,23.9 L87.8,23.9 L88.3,24.0 L88.8,24.1 L89.3,24.2 L89.8,24.2 L90.3,24.3 L90.8,24.4 L91.3,24.5 L91.8,24.6 L92.3,24.7 L92.8,24.8 L93.3,24.9 L93.8,25.0 L94.3,25.1 L94.8,25.2 L95.3,25.3 L95.8,25.4 L96.3,25.6 L96.8,25.7 L97.3,25.8 L97.8,26.0 L98.3,26.1 L98.8,26.2 L99.3,26.4 L99.8,26.6 L100.3,26.7 L100.8,26.9 L101.3,27.1 L101.8,27.2 L102.3,27.4 L102.8,27.6 L103.3,27.8 L103.8,28.0 L104.3,28.2 L104.8,28.5 L105.3,28.7 L105.8,28.9 L106.3,29.1 L106.8,29.4 L107.3,29.7 L107.8,29.9 L108.3,30.2 L108.8,30.5 L109.3,30.8 L109.8,31.1 L110.3,31.4 L110.8,31.7 L111.3,32.0 L111.8,32.3 L112.3,32.7 L112.8,33.0 L113.3,33.4 L113.8,33.8 L114.3,34.2 L114.8,34.5 L115.3,35.0 L115.8,35.4 L116.3,35.8 L116.8,36.2 L117.3,36.7 L117.8,37.2 L118.3,37.6 L118.8,38.1 L119.3,38.6 L119.8,39.1 L120.3,39.6 L120.8,40.2 L121.3,40.7 L121.8,41.3 L122.3,41.9 L122.8,42.5 L123.3,43.1 L123.8,43.7 L124.3,44.3 L124.8,45.0 L125.3,45.6 L125.8,46.3 L126.3,47.0 L126.8,47.7 L127.3,48.4 L127.8,49.2 L128.3,49.9 L128.8,50.7 L129.3,51.5 L129.8,52.2 L130.3,53.1 L130.8,53.9 L131.3,54.7 L131.8,55.6 L132.3,56.5 L132.8,57.4 L133.3,58.3 L133.8,59.2 L134.3,60.1 L134.8,61.1 L135.3,62.1 L135.8,63.1 L136.3,64.1 L136.8,65.1 L137.3,66.1 L137.8,67.2 L138.3,68.3 L138.8,69.4 L139.3,70.5 L139.8,71.6 L140.3,72.8 L140.8,73.9 L141.3,75.1 L141.8,76.3 L142.3,77.5 L142.8,78.7 L143.3,80.0 L143.8,81.2 L144.3,82.5 L144.8,84.2 L145.3,87.2 L145.8,90.2 L146.3,93.2 L146.8,96.2 L147.3,96.8 L147.8,93.8 L148.3,90.8 L148.8,87.8 L149.3,86.2 L149.8,87.2 L150.3,88.3 L150.8,89.2 L151.3,89.7 L151.8,89.6 L152.3,89.0 L152.8,88.1 L153.3,87.1 L153.8,86.3 L154.3,85.9 L154.8,85.9 L155.3,86.4 L155.8,87.1 L156.3,87.8 L156.8,88.2 L157.3,88.4 L157.8,88.2 L158.3,87.8 L158.8,87.3 L159.3,87.0 L159.8,86.9 L160.3,87.1 L160.8,87.4 L161.3,87.9 L161.8,88.3 L162.3,88.4 L162.8,88.2 L163.3,87.8 L163.8,87.2 L164.3,86.7 L164.8,86.3 L165.3,86.4 L165.8,86.7 L166.3,87.3 L166.8,87.9 L167.3,88.4 L167.8,88.7 L168.3,88.6 L168.8,88.2 L169.3,87.9 L169.8,89.9 L170.3,91.9 L170.8,93.9 L171.3,95.1 L171.8,93.1 L172.3,91.1 L172.8,89.1 L173.3,88.2 L173.8,88.3 L174.3,88.2 L174.8,87.9 L175.3,87.5 L175.8,87.2 L176.3,87.0 L176.8,87.0 L177.2,87.0" fill="none" stroke="#a66a70" stroke-width="1.25" stroke-linejoin="round" stroke-linecap="round" />
<path d="M45.8,19.5 L46.3,19.5 L46.8,19.5 L47.3,19.6 L47.8,19.6 L48.3,19.6 L48.8,19.6 L49.3,19.7 L49.8,19.7 L50.3,19.7 L50.8,19.8 L51.3,19.8 L51.8,19.8 L52.3,19.8 L52.8,19.9 L53.3,19.9 L53.8,19.9 L54.3,19.9 L54.8,20.0 L55.3,20.0 L55.8,20.0 L56.3,20.0 L56.8,20.1 L57.3,20.1 L57.8,20.1 L58.3,20.2 L58.8,20.2 L59.3,20.2 L59.8,20.2 L60.3,20.3 L60.8,20.3 L61.3,20.3 L61.8,20.4 L62.3,20.4 L62.8,20.4 L63.3,20.5 L63.8,20.5 L64.3,20.5 L64.8,20.6 L65.3,20.6 L65.8,20.6 L66.3,20.7 L66.8,20.7 L67.3,20.7 L67.8,20.8 L68.3,20.8 L68.8,20.9 L69.3,20.9 L69.8,21.0 L70.3,21.0 L70.8,21.1 L71.3,21.1 L71.8,21.2 L72.3,21.2 L72.8,21.3 L73.3,21.3 L73.8,21.4 L74.3,21.4 L74.8,21.5 L75.3,21.6 L75.8,21.6 L76.3,21.7 L76.8,21.8 L77.3,21.8 L77.8,21.9 L78.3,22.0 L78.8,22.1 L79.3,22.1 L79.8,22.2 L80.3,22.3 L80.8,22.4 L81.3,22.5 L81.8,22.6 L82.3,22.7 L82.8,22.8 L83.3,22.9 L83.8,23.0 L84.3,23.1 L84.8,23.2 L85.3,23.3 L85.8,23.5 L86.3,23.6 L86.8,23.7 L87.3,23.9 L87.8,24.0 L88.3,24.2 L88.8,24.3 L89.3,24.5 L89.8,24.6 L90.3,24.8 L90.8,25.0 L91.3,25.1 L91.8,25.3 L92.3,25.5 L92.8,25.7 L93.3,25.9 L93.8,26.1 L94.3,26.3 L94.8,26.6 L95.3,26.8 L95.8,27.0 L96.3,27.3 L96.8,27.5 L97.3,27.8 L97.8,28.0 L98.3,28.3 L98.8,28.6 L99.3,28.8 L99.8,29.1 L100.3,29.4 L100.8,29.8 L101.3,30.1 L101.8,30.4 L102.3,30.7 L102.8,31.1 L103.3,31.4 L103.8,31.8 L104.3,32.2 L104.8,32.5 L105.3,32.9 L105.8,33.3 L106.3,33.8 L106.8,34.2 L107.3,34.6 L107.8,35.1 L108.3,35.5 L108.8,36.0 L109.3,36.4 L109.8,36.9 L110.3,37.4 L110.8,37.9 L111.3,38.5 L111.8,39.0 L112.3,39.6 L112.8,40.1 L113.3,40.7 L113.8,41.3 L114.3,41.9 L114.8,42.5 L115.3,43.1 L115.8,43.7 L116.3,44.4 L116.8,45.1 L117.3,45.7 L117.8,46.4 L118.3,47.1 L118.8,47.9 L119.3,48.6 L119.8,49.3 L120.3,50.1 L120.8,50.9 L121.3,51.7 L121.8,52.5 L122.3,53.3 L122.8,54.1 L123.3,55.0 L123.8,55.9 L124.3,56.8 L124.8,57.7 L125.3,58.6 L125.8,59.5 L126.3,60.5 L126.8,61.4 L127.3,62.4 L127.8,63.4 L128.3,64.4 L128.8,65.5 L129.3,66.5 L129.8,67.6 L130.3,68.7 L130.8,69.8 L131.3,70.9 L131.8,72.1 L132.3,73.2 L132.8,74.4 L133.3,75.6 L133.8,76.8 L134.3,78.0 L134.8,79.3 L135.3,80.5 L135.8,81.8 L136.3,83.1 L136.8,84.3 L137.3,85.6 L137.8,86.7 L138.3,87.6 L138.8,88.2 L139.3,88.5 L139.8,88.6 L140.3,88.6 L140.8,88.6 L141.3,88.5 L141.8,88.2 L142.3,87.8 L142.8,87.4 L143.3,86.9 L143.8,86.6 L144.3,86.5 L144.8,86.7 L145.3,86.9 L145.8,87.3 L146.3,87.5 L146.8,87.5 L147.3,87.2 L147.8,86.7 L148.3,86.1 L148.8,85.5 L149.3,85.0 L149.8,84.7 L150.3,84.7 L150.8,84.8 L151.3,85.0 L151.8,85.0 L152.3,85.0 L152.8,84.9 L153.3,84.9 L153.8,85.0 L154.3,85.3 L154.8,85.8 L155.3,86.5 L155.8,87.1 L156.3,87.7 L156.8,87.9 L157.3,88.0 L157.8,87.7 L158.3,87.3 L158.8,86.9 L159.3,86.5 L159.8,86.3 L160.3,86.3 L160.8,86.5 L161.3,89.0 L161.8,91.5 L162.3,94.0 L162.8,96.5 L163.3,99.0 L163.8,101.5 L164.3,100.0 L164.8,97.5 L165.3,95.0 L165.8,92.5 L166.3,90.0 L166.8,87.5 L167.3,85.0 L167.8,82.5 L168.3,80.0 L168.8,78.6 L169.3,77.5 L169.8,76.7 L170.3,76.2 L170.8,75.9 L171.3,75.7 L171.8,75.5 L172.3,75.3 L172.8,74.9 L173.3,74.6 L173.8,74.3 L174.3,74.2 L174.8,74.2 L175.3,74.2 L175.8,74.3 L176.3,74.2 L176.8,73.9 L177.2,73.5" fill="none" stroke="#a8a82c" stroke-width="1.25" stroke-linejoin="round" stroke-linecap="round" />
</g>
<line x1="43.6" y1="11.2" x2="45.8" y2="11.2" stroke="#222" stroke-width="1.2" />
<text x="42.8" y="13.6" font-size="6.6" text-anchor="end" font-weight="bold">10<tspan font-size="4.8" dy="-3.1" stroke="#000" stroke-width="0.3">&#8722;</tspan><tspan font-size="4.8">5</tspan></text>
<line x1="44.7" y1="20.45" x2="45.8" y2="20.45" stroke="#222" stroke-width="0.7" />
<line x1="44.7" y1="18.12" x2="45.8" y2="18.12" stroke="#222" stroke-width="0.7" />
<line x1="44.7" y1="16.47" x2="45.8" y2="16.47" stroke="#222" stroke-width="0.7" />
<line x1="44.7" y1="15.18" x2="45.8" y2="15.18" stroke="#222" stroke-width="0.7" />
<line x1="44.7" y1="14.14" x2="45.8" y2="14.14" stroke="#222" stroke-width="0.7" />
<line x1="44.7" y1="13.25" x2="45.8" y2="13.25" stroke="#222" stroke-width="0.7" />
<line x1="44.7" y1="12.48" x2="45.8" y2="12.48" stroke="#222" stroke-width="0.7" />
<line x1="44.7" y1="11.81" x2="45.8" y2="11.81" stroke="#222" stroke-width="0.7" />
<line x1="43.6" y1="24.44" x2="45.8" y2="24.44" stroke="#222" stroke-width="1.2" />
<text x="42.8" y="26.84" font-size="6.6" text-anchor="end" font-weight="bold">10<tspan font-size="4.8" dy="-3.1" stroke="#000" stroke-width="0.3">&#8722;</tspan><tspan font-size="4.8">6</tspan></text>
<line x1="44.7" y1="33.69" x2="45.8" y2="33.69" stroke="#222" stroke-width="0.7" />
<line x1="44.7" y1="31.36" x2="45.8" y2="31.36" stroke="#222" stroke-width="0.7" />
<line x1="44.7" y1="29.71" x2="45.8" y2="29.71" stroke="#222" stroke-width="0.7" />
<line x1="44.7" y1="28.42" x2="45.8" y2="28.42" stroke="#222" stroke-width="0.7" />
<line x1="44.7" y1="27.37" x2="45.8" y2="27.37" stroke="#222" stroke-width="0.7" />
<line x1="44.7" y1="26.49" x2="45.8" y2="26.49" stroke="#222" stroke-width="0.7" />
<line x1="44.7" y1="25.72" x2="45.8" y2="25.72" stroke="#222" stroke-width="0.7" />
<line x1="44.7" y1="25.04" x2="45.8" y2="25.04" stroke="#222" stroke-width="0.7" />
<line x1="43.6" y1="37.67" x2="45.8" y2="37.67" stroke="#222" stroke-width="1.2" />
<text x="42.8" y="40.07" font-size="6.6" text-anchor="end" font-weight="bold">10<tspan font-size="4.8" dy="-3.1" stroke="#000" stroke-width="0.3">&#8722;</tspan><tspan font-size="4.8">7</tspan></text>
<line x1="44.7" y1="46.93" x2="45.8" y2="46.93" stroke="#222" stroke-width="0.7" />
<line x1="44.7" y1="44.6" x2="45.8" y2="44.6" stroke="#222" stroke-width="0.7" />
<line x1="44.7" y1="42.94" x2="45.8" y2="42.94" stroke="#222" stroke-width="0.7" />
<line x1="44.7" y1="41.66" x2="45.8" y2="41.66" stroke="#222" stroke-width="0.7" />
<line x1="44.7" y1="40.61" x2="45.8" y2="40.61" stroke="#222" stroke-width="0.7" />
<line x1="44.7" y1="39.73" x2="45.8" y2="39.73" stroke="#222" stroke-width="0.7" />
<line x1="44.7" y1="38.96" x2="45.8" y2="38.96" stroke="#222" stroke-width="0.7" />
<line x1="44.7" y1="38.28" x2="45.8" y2="38.28" stroke="#222" stroke-width="0.7" />
<line x1="43.6" y1="50.91" x2="45.8" y2="50.91" stroke="#222" stroke-width="1.2" />
<text x="42.8" y="53.31" font-size="6.6" text-anchor="end" font-weight="bold">10<tspan font-size="4.8" dy="-3.1" stroke="#000" stroke-width="0.3">&#8722;</tspan><tspan font-size="4.8">8</tspan></text>
<line x1="44.7" y1="60.17" x2="45.8" y2="60.17" stroke="#222" stroke-width="0.7" />
<line x1="44.7" y1="57.83" x2="45.8" y2="57.83" stroke="#222" stroke-width="0.7" />
<line x1="44.7" y1="56.18" x2="45.8" y2="56.18" stroke="#222" stroke-width="0.7" />
<line x1="44.7" y1="54.9" x2="45.8" y2="54.9" stroke="#222" stroke-width="0.7" />
<line x1="44.7" y1="53.85" x2="45.8" y2="53.85" stroke="#222" stroke-width="0.7" />
<line x1="44.7" y1="52.96" x2="45.8" y2="52.96" stroke="#222" stroke-width="0.7" />
<line x1="44.7" y1="52.2" x2="45.8" y2="52.2" stroke="#222" stroke-width="0.7" />
<line x1="44.7" y1="51.52" x2="45.8" y2="51.52" stroke="#222" stroke-width="0.7" />
<line x1="43.6" y1="64.15" x2="45.8" y2="64.15" stroke="#222" stroke-width="1.2" />
<text x="42.8" y="66.55" font-size="6.6" text-anchor="end" font-weight="bold">10<tspan font-size="4.8" dy="-3.1" stroke="#000" stroke-width="0.3">&#8722;</tspan><tspan font-size="4.8">9</tspan></text>
<line x1="44.7" y1="73.4" x2="45.8" y2="73.4" stroke="#222" stroke-width="0.7" />
<line x1="44.7" y1="71.07" x2="45.8" y2="71.07" stroke="#222" stroke-width="0.7" />
<line x1="44.7" y1="69.42" x2="45.8" y2="69.42" stroke="#222" stroke-width="0.7" />
<line x1="44.7" y1="68.13" x2="45.8" y2="68.13" stroke="#222" stroke-width="0.7" />
<line x1="44.7" y1="67.09" x2="45.8" y2="67.09" stroke="#222" stroke-width="0.7" />
<line x1="44.7" y1="66.2" x2="45.8" y2="66.2" stroke="#222" stroke-width="0.7" />
<line x1="44.7" y1="65.43" x2="45.8" y2="65.43" stroke="#222" stroke-width="0.7" />
<line x1="44.7" y1="64.76" x2="45.8" y2="64.76" stroke="#222" stroke-width="0.7" />
<line x1="43.6" y1="77.39" x2="45.8" y2="77.39" stroke="#222" stroke-width="1.2" />
<text x="42.8" y="79.79" font-size="6.6" text-anchor="end" font-weight="bold">10<tspan font-size="4.8" dy="-3.1" stroke="#000" stroke-width="0.3">&#8722;</tspan><tspan font-size="4.8">10</tspan></text>
<line x1="44.7" y1="86.64" x2="45.8" y2="86.64" stroke="#222" stroke-width="0.7" />
<line x1="44.7" y1="84.31" x2="45.8" y2="84.31" stroke="#222" stroke-width="0.7" />
<line x1="44.7" y1="82.66" x2="45.8" y2="82.66" stroke="#222" stroke-width="0.7" />
<line x1="44.7" y1="81.37" x2="45.8" y2="81.37" stroke="#222" stroke-width="0.7" />
<line x1="44.7" y1="80.32" x2="45.8" y2="80.32" stroke="#222" stroke-width="0.7" />
<line x1="44.7" y1="79.44" x2="45.8" y2="79.44" stroke="#222" stroke-width="0.7" />
<line x1="44.7" y1="78.67" x2="45.8" y2="78.67" stroke="#222" stroke-width="0.7" />
<line x1="44.7" y1="77.99" x2="45.8" y2="77.99" stroke="#222" stroke-width="0.7" />
<line x1="43.6" y1="90.62" x2="45.8" y2="90.62" stroke="#222" stroke-width="1.2" />
<text x="42.8" y="93.03" font-size="6.6" text-anchor="end" font-weight="bold">10<tspan font-size="4.8" dy="-3.1" stroke="#000" stroke-width="0.3">&#8722;</tspan><tspan font-size="4.8">11</tspan></text>
<line x1="44.7" y1="99.88" x2="45.8" y2="99.88" stroke="#222" stroke-width="0.7" />
<line x1="44.7" y1="97.55" x2="45.8" y2="97.55" stroke="#222" stroke-width="0.7" />
<line x1="44.7" y1="95.89" x2="45.8" y2="95.89" stroke="#222" stroke-width="0.7" />
<line x1="44.7" y1="94.61" x2="45.8" y2="94.61" stroke="#222" stroke-width="0.7" />
<line x1="44.7" y1="93.56" x2="45.8" y2="93.56" stroke="#222" stroke-width="0.7" />
<line x1="44.7" y1="92.68" x2="45.8" y2="92.68" stroke="#222" stroke-width="0.7" />
<line x1="44.7" y1="91.91" x2="45.8" y2="91.91" stroke="#222" stroke-width="0.7" />
<line x1="44.7" y1="91.23" x2="45.8" y2="91.23" stroke="#222" stroke-width="0.7" />
<line x1="43.6" y1="103.86" x2="45.8" y2="103.86" stroke="#222" stroke-width="1.2" />
<text x="42.8" y="106.26" font-size="6.6" text-anchor="end" font-weight="bold">10<tspan font-size="4.8" dy="-3.1" stroke="#000" stroke-width="0.3">&#8722;</tspan><tspan font-size="4.8">12</tspan></text>
<line x1="44.7" y1="113.12" x2="45.8" y2="113.12" stroke="#222" stroke-width="0.7" />
<line x1="44.7" y1="110.78" x2="45.8" y2="110.78" stroke="#222" stroke-width="0.7" />
<line x1="44.7" y1="109.13" x2="45.8" y2="109.13" stroke="#222" stroke-width="0.7" />
<line x1="44.7" y1="107.85" x2="45.8" y2="107.85" stroke="#222" stroke-width="0.7" />
<line x1="44.7" y1="106.8" x2="45.8" y2="106.8" stroke="#222" stroke-width="0.7" />
<line x1="44.7" y1="105.91" x2="45.8" y2="105.91" stroke="#222" stroke-width="0.7" />
<line x1="44.7" y1="105.15" x2="45.8" y2="105.15" stroke="#222" stroke-width="0.7" />
<line x1="44.7" y1="104.47" x2="45.8" y2="104.47" stroke="#222" stroke-width="0.7" />
<line x1="43.6" y1="117.1" x2="45.8" y2="117.1" stroke="#222" stroke-width="1.2" />
<text x="42.8" y="119.5" font-size="6.6" text-anchor="end" font-weight="bold">10<tspan font-size="4.8" dy="-3.1" stroke="#000" stroke-width="0.3">&#8722;</tspan><tspan font-size="4.8">13</tspan></text>
<line x1="45.8" y1="117.1" x2="45.8" y2="119.3" stroke="#222" stroke-width="1.2" />
<text x="46.1" y="126" font-size="7.5" text-anchor="middle" font-weight="bold" ><tspan font-size="5.6" dy="-0.7" stroke="#000" stroke-width="0.35">&#8722;</tspan><tspan dy="0.7" dx="0.4">0.8</tspan></text>
<line x1="55.19" y1="117.1" x2="55.19" y2="118.3" stroke="#222" stroke-width="1" />
<line x1="64.57" y1="117.1" x2="64.57" y2="119.3" stroke="#222" stroke-width="1.2" />
<text x="64.87" y="126" font-size="7.5" text-anchor="middle" font-weight="bold" ><tspan font-size="5.6" dy="-0.7" stroke="#000" stroke-width="0.35">&#8722;</tspan><tspan dy="0.7" dx="0.4">0.6</tspan></text>
<line x1="73.96" y1="117.1" x2="73.96" y2="118.3" stroke="#222" stroke-width="1" />
<line x1="83.34" y1="117.1" x2="83.34" y2="119.3" stroke="#222" stroke-width="1.2" />
<text x="83.64" y="126" font-size="7.5" text-anchor="middle" font-weight="bold" ><tspan font-size="5.6" dy="-0.7" stroke="#000" stroke-width="0.35">&#8722;</tspan><tspan dy="0.7" dx="0.4">0.4</tspan></text>
<line x1="92.73" y1="117.1" x2="92.73" y2="118.3" stroke="#222" stroke-width="1" />
<line x1="102.11" y1="117.1" x2="102.11" y2="119.3" stroke="#222" stroke-width="1.2" />
<text x="102.41" y="126" font-size="7.5" text-anchor="middle" font-weight="bold" ><tspan font-size="5.6" dy="-0.7" stroke="#000" stroke-width="0.35">&#8722;</tspan><tspan dy="0.7" dx="0.4">0.2</tspan></text>
<line x1="111.5" y1="117.1" x2="111.5" y2="118.3" stroke="#222" stroke-width="1" />
<line x1="120.89" y1="117.1" x2="120.89" y2="119.3" stroke="#222" stroke-width="1.2" />
<text x="121.19" y="126" font-size="7.5" text-anchor="middle" font-weight="bold" >0.0</text>
<line x1="130.27" y1="117.1" x2="130.27" y2="118.3" stroke="#222" stroke-width="1" />
<line x1="139.66" y1="117.1" x2="139.66" y2="119.3" stroke="#222" stroke-width="1.2" />
<text x="139.96" y="126" font-size="7.5" text-anchor="middle" font-weight="bold" >0.2</text>
<line x1="149.04" y1="117.1" x2="149.04" y2="118.3" stroke="#222" stroke-width="1" />
<line x1="158.43" y1="117.1" x2="158.43" y2="119.3" stroke="#222" stroke-width="1.2" />
<text x="158.73" y="126" font-size="7.5" text-anchor="middle" font-weight="bold" >0.4</text>
<line x1="167.81" y1="117.1" x2="167.81" y2="118.3" stroke="#222" stroke-width="1" />
<line x1="177.2" y1="117.1" x2="177.2" y2="119.3" stroke="#222" stroke-width="1.2" />
<text x="177.5" y="126" font-size="7.5" text-anchor="middle" font-weight="bold" >0.6</text>
<line x1="45.4" y1="11.5" x2="178" y2="11.5" stroke="#111" stroke-width="1.0" />
<line x1="45.4" y1="116.9" x2="178" y2="116.9" stroke="#111" stroke-width="1.5" />
<line x1="46.1" y1="11" x2="46.1" y2="117.6" stroke="#111" stroke-width="1.5" />
<line x1="177.5" y1="11" x2="177.5" y2="117.6" stroke="#111" stroke-width="1.0" />
<text x="111.7" y="137.1" font-size="8.5" text-anchor="middle" font-weight="bold">V<tspan font-size="5.8" dy="1.8" dx="0.2">g</tspan><tspan dy="-1.8" dx="0.7"> (V)</tspan></text>
<text transform="translate(21.6,64.3) rotate(-90)" font-size="9.0" text-anchor="middle" font-weight="bold">I<tspan font-size="5.8" dy="1.8">d</tspan><tspan dy="-1.8"> (A)</tspan></text>
<text x="12.6" y="14" font-size="9.2" text-anchor="start" font-weight="bold" >(a)</text>
<text x="50" y="111.6" font-size="7" font-weight="bold">K<tspan font-size="4.5" dy="-2.8">+</tspan></text>
<line x1="152" y1="15.6" x2="162" y2="15.6" stroke="#7a7a7a" stroke-width="1.4" stroke-opacity="0.9"/>
<text x="163.1" y="17.2" font-size="4.6" font-weight="bold" textLength="12.0" lengthAdjust="spacingAndGlyphs">Buffer</text>
<line x1="152" y1="20.58" x2="162" y2="20.58" stroke="#f06464" stroke-width="1.4" stroke-opacity="0.9"/>
<text x="163.1" y="22.18" font-size="4.6" font-weight="bold" textLength="9.9" lengthAdjust="spacingAndGlyphs">10nM</text>
<line x1="152" y1="25.56" x2="162" y2="25.56" stroke="#3d8ee6" stroke-width="1.4" stroke-opacity="0.9"/>
<text x="163.1" y="27.16" font-size="4.6" font-weight="bold" textLength="12.5" lengthAdjust="spacingAndGlyphs">100nM</text>
<line x1="152" y1="30.54" x2="162" y2="30.54" stroke="#2bb07a" stroke-width="1.4" stroke-opacity="0.9"/>
<text x="163.1" y="32.14" font-size="4.6" font-weight="bold" textLength="8.9" lengthAdjust="spacingAndGlyphs">1uM</text>
<line x1="152" y1="35.52" x2="162" y2="35.52" stroke="#c88ae2" stroke-width="1.4" stroke-opacity="0.9"/>
<text x="163.1" y="37.12" font-size="4.6" font-weight="bold" textLength="10.9" lengthAdjust="spacingAndGlyphs">10uM</text>
<line x1="152" y1="40.5" x2="162" y2="40.5" stroke="#f0a232" stroke-width="1.4" stroke-opacity="0.9"/>
<text x="163.1" y="42.1" font-size="4.6" font-weight="bold" textLength="12.7" lengthAdjust="spacingAndGlyphs">100uM</text>
<line x1="152" y1="45.48" x2="162" y2="45.48" stroke="#22d6dc" stroke-width="1.4" stroke-opacity="0.9"/>
<text x="163.1" y="47.08" font-size="4.6" font-weight="bold" textLength="9.9" lengthAdjust="spacingAndGlyphs">1mM</text>
<line x1="152" y1="50.46" x2="162" y2="50.46" stroke="#a66a70" stroke-width="1.4" stroke-opacity="0.9"/>
<text x="163.1" y="52.06" font-size="4.6" font-weight="bold" textLength="11.1" lengthAdjust="spacingAndGlyphs">10mM</text>
<line x1="152" y1="55.44" x2="162" y2="55.44" stroke="#a8a82c" stroke-width="1.4" stroke-opacity="0.9"/>
<text x="163.1" y="57.04" font-size="4.6" font-weight="bold" textLength="13.4" lengthAdjust="spacingAndGlyphs">100mM</text>
<line x1="293.8" y1="50.9" x2="326.3" y2="50.9" stroke="#cfcfcf" stroke-width="1.4" />
<path d="M290.8,50.9 L296.3,49.8 L296.3,52 Z" fill="#9a9a9a"/>
<line x1="292.8" y1="50.9" x2="296.8" y2="50.9" stroke="#a0a0a0" stroke-width="1.5" />
<g clip-path="url(#clip1)">
<path d="M226.8,18.4 L227.3,18.5 L227.8,18.5 L228.3,18.5 L228.8,18.6 L229.3,18.6 L229.8,18.6 L230.3,18.7 L230.8,18.7 L231.3,18.7 L231.8,18.7 L232.3,18.8 L232.8,18.8 L233.3,18.8 L233.8,18.9 L234.3,18.9 L234.8,18.9 L235.3,18.9 L235.8,19.0 L236.3,19.0 L236.8,19.0 L237.3,19.1 L237.8,19.1 L238.3,19.1 L238.8,19.1 L239.3,19.2 L239.8,19.2 L240.3,19.2 L240.8,19.2 L241.3,19.3 L241.8,19.3 L242.3,19.3 L242.8,19.4 L243.3,19.4 L243.8,19.4 L244.3,19.4 L244.8,19.5 L245.3,19.5 L245.8,19.5 L246.3,19.5 L246.8,19.6 L247.3,19.6 L247.8,19.6 L248.3,19.6 L248.8,19.7 L249.3,19.7 L249.8,19.7 L250.3,19.7 L250.8,19.8 L251.3,19.8 L251.8,19.8 L252.3,19.9 L252.8,19.9 L253.3,19.9 L253.8,19.9 L254.3,20.0 L254.8,20.0 L255.3,20.0 L255.8,20.1 L256.3,20.1 L256.8,20.1 L257.3,20.1 L257.8,20.2 L258.3,20.2 L258.8,20.2 L259.3,20.3 L259.8,20.3 L260.3,20.3 L260.8,20.4 L261.3,20.4 L261.8,20.4 L262.3,20.5 L262.8,20.5 L263.3,20.6 L263.8,20.6 L264.3,20.6 L264.8,20.7 L265.3,20.7 L265.8,20.8 L266.3,20.8 L266.8,20.9 L267.3,20.9 L267.8,21.0 L268.3,21.0 L268.8,21.1 L269.3,21.1 L269.8,21.2 L270.3,21.3 L270.8,21.3 L271.3,21.4 L271.8,21.4 L272.3,21.5 L272.8,21.6 L273.3,21.7 L273.8,21.7 L274.3,21.8 L274.8,21.9 L275.3,22.0 L275.8,22.1 L276.3,22.1 L276.8,22.2 L277.3,22.3 L277.8,22.4 L278.3,22.5 L278.8,22.6 L279.3,22.7 L279.8,22.8 L280.3,23.0 L280.8,23.1 L281.3,23.2 L281.8,23.3 L282.3,23.5 L282.8,23.6 L283.3,23.7 L283.8,23.9 L284.3,24.0 L284.8,24.2 L285.3,24.3 L285.8,24.5 L286.3,24.7 L286.8,24.8 L287.3,25.0 L287.8,25.2 L288.3,25.4 L288.8,25.6 L289.3,25.8 L289.8,26.0 L290.3,26.2 L290.8,26.4 L291.3,26.7 L291.8,26.9 L292.3,27.2 L292.8,27.4 L293.3,27.7 L293.8,27.9 L294.3,28.2 L294.8,28.5 L295.3,28.8 L295.8,29.1 L296.3,29.4 L296.8,29.7 L297.3,30.0 L297.8,30.3 L298.3,30.7 L298.8,31.0 L299.3,31.4 L299.8,31.7 L300.3,32.1 L300.8,32.5 L301.3,32.9 L301.8,33.3 L302.3,33.7 L302.8,34.1 L303.3,34.6 L303.8,35.0 L304.3,35.5 L304.8,36.0 L305.3,36.4 L305.8,36.9 L306.3,37.4 L306.8,38.0 L307.3,38.5 L307.8,39.0 L308.3,39.6 L308.8,40.1 L309.3,40.7 L309.8,41.3 L310.3,41.9 L310.8,42.5 L311.3,43.2 L311.8,43.8 L312.3,44.5 L312.8,45.1 L313.3,45.8 L313.8,46.5 L314.3,47.2 L314.8,47.9 L315.3,48.7 L315.8,49.4 L316.3,50.2 L316.8,51.0 L317.3,51.8 L317.8,52.6 L318.3,53.4 L318.8,54.3 L319.3,55.1 L319.8,56.0 L320.3,56.9 L320.8,57.8 L321.3,58.8 L321.8,59.7 L322.3,60.7 L322.8,61.6 L323.3,62.6 L323.8,63.6 L324.3,64.7 L324.8,65.7 L325.3,66.8 L325.8,67.8 L326.3,68.9 L326.8,70.0 L327.3,71.2 L327.8,72.3 L328.3,73.5 L328.8,74.7 L329.3,75.8 L329.8,77.1 L330.3,78.3 L330.8,79.5 L331.3,80.6 L331.8,81.7 L332.3,82.7 L332.8,83.5 L333.3,84.1 L333.8,84.6 L334.3,84.9 L334.8,85.1 L335.3,85.1 L335.8,85.0 L336.3,84.8 L336.8,84.4 L337.3,84.0 L337.8,83.7 L338.3,83.4 L338.8,83.3 L339.3,83.2 L339.8,83.3 L340.3,83.4 L340.8,83.6 L341.3,83.7 L341.8,83.7 L342.3,83.6 L342.8,83.4 L343.3,83.2 L343.8,83.0 L344.3,82.7 L344.8,82.4 L345.3,82.2 L345.8,82.2 L346.3,82.3 L346.8,82.4 L347.3,82.7 L347.8,82.9 L348.3,83.1 L348.8,83.2 L349.3,83.3 L349.8,83.3 L350.3,83.3 L350.8,83.5 L351.3,83.7 L351.8,84.2 L352.3,84.6 L352.8,84.9 L353.3,85.3 L353.8,85.6 L354.3,85.7 L354.8,85.7 L355.3,85.6 L355.8,85.6 L356.3,85.5 L356.8,85.5 L357.3,85.5 L357.8,85.7 L358.3,85.8" fill="none" stroke="#7a7a7a" stroke-width="1.25" stroke-linejoin="round" stroke-linecap="round" />
<path d="M226.8,18.5 L227.3,18.5 L227.8,18.5 L228.3,18.6 L228.8,18.6 L229.3,18.6 L229.8,18.6 L230.3,18.7 L230.8,18.7 L231.3,18.7 L231.8,18.8 L232.3,18.8 L232.8,18.8 L233.3,18.9 L233.8,18.9 L234.3,18.9 L234.8,18.9 L235.3,19.0 L235.8,19.0 L236.3,19.0 L236.8,19.1 L237.3,19.1 L237.8,19.1 L238.3,19.1 L238.8,19.2 L239.3,19.2 L239.8,19.2 L240.3,19.2 L240.8,19.3 L241.3,19.3 L241.8,19.3 L242.3,19.3 L242.8,19.4 L243.3,19.4 L243.8,19.4 L244.3,19.5 L244.8,19.5 L245.3,19.5 L245.8,19.5 L246.3,19.6 L246.8,19.6 L247.3,19.6 L247.8,19.6 L248.3,19.7 L248.8,19.7 L249.3,19.7 L249.8,19.7 L250.3,19.8 L250.8,19.8 L251.3,19.8 L251.8,19.9 L252.3,19.9 L252.8,19.9 L253.3,19.9 L253.8,20.0 L254.3,20.0 L254.8,20.0 L255.3,20.0 L255.8,20.1 L256.3,20.1 L256.8,20.1 L257.3,20.2 L257.8,20.2 L258.3,20.2 L258.8,20.3 L259.3,20.3 L259.8,20.3 L260.3,20.4 L260.8,20.4 L261.3,20.4 L261.8,20.5 L262.3,20.5 L262.8,20.6 L263.3,20.6 L263.8,20.6 L264.3,20.7 L264.8,20.7 L265.3,20.8 L265.8,20.8 L266.3,20.9 L266.8,20.9 L267.3,21.0 L267.8,21.0 L268.3,21.1 L268.8,21.1 L269.3,21.2 L269.8,21.2 L270.3,21.3 L270.8,21.4 L271.3,21.4 L271.8,21.5 L272.3,21.6 L272.8,21.6 L273.3,21.7 L273.8,21.8 L274.3,21.9 L274.8,21.9 L275.3,22.0 L275.8,22.1 L276.3,22.2 L276.8,22.3 L277.3,22.4 L277.8,22.5 L278.3,22.6 L278.8,22.7 L279.3,22.8 L279.8,22.9 L280.3,23.1 L280.8,23.2 L281.3,23.3 L281.8,23.4 L282.3,23.6 L282.8,23.7 L283.3,23.8 L283.8,24.0 L284.3,24.1 L284.8,24.3 L285.3,24.5 L285.8,24.6 L286.3,24.8 L286.8,25.0 L287.3,25.2 L287.8,25.4 L288.3,25.6 L288.8,25.8 L289.3,26.0 L289.8,26.2 L290.3,26.4 L290.8,26.6 L291.3,26.9 L291.8,27.1 L292.3,27.4 L292.8,27.6 L293.3,27.9 L293.8,28.1 L294.3,28.4 L294.8,28.7 L295.3,29.0 L295.8,29.3 L296.3,29.6 L296.8,29.9 L297.3,30.3 L297.8,30.6 L298.3,30.9 L298.8,31.3 L299.3,31.7 L299.8,32.0 L300.3,32.4 L300.8,32.8 L301.3,33.2 L301.8,33.6 L302.3,34.1 L302.8,34.5 L303.3,34.9 L303.8,35.4 L304.3,35.9 L304.8,36.3 L305.3,36.8 L305.8,37.3 L306.3,37.9 L306.8,38.4 L307.3,38.9 L307.8,39.5 L308.3,40.0 L308.8,40.6 L309.3,41.2 L309.8,41.8 L310.3,42.4 L310.8,43.0 L311.3,43.7 L311.8,44.3 L312.3,45.0 L312.8,45.7 L313.3,46.4 L313.8,47.1 L314.3,47.8 L314.8,48.5 L315.3,49.3 L315.8,50.1 L316.3,50.8 L316.8,51.6 L317.3,52.4 L317.8,53.3 L318.3,54.1 L318.8,55.0 L319.3,55.9 L319.8,56.7 L320.3,57.6 L320.8,58.6 L321.3,59.5 L321.8,60.5 L322.3,61.4 L322.8,62.4 L323.3,63.4 L323.8,64.4 L324.3,65.5 L324.8,66.5 L325.3,67.6 L325.8,68.7 L326.3,69.8 L326.8,70.9 L327.3,72.1 L327.8,73.2 L328.3,74.4 L328.8,75.6 L329.3,76.8 L329.8,78.0 L330.3,79.2 L330.8,80.4 L331.3,81.6 L331.8,82.6 L332.3,83.4 L332.8,84.0 L333.3,84.2 L333.8,84.4 L334.3,84.6 L334.8,84.8 L335.3,84.8 L335.8,84.5 L336.3,84.5 L336.8,87.0 L337.3,86.5 L337.8,84.0 L338.3,82.1 L338.8,82.5 L339.3,83.1 L339.8,83.9 L340.3,84.5 L340.8,84.9 L341.3,84.8 L341.8,84.3 L342.3,83.5 L342.8,82.7 L343.3,82.1 L343.8,81.9 L344.3,82.0 L344.8,82.4 L345.3,83.0 L345.8,83.5 L346.3,83.8 L346.8,83.9 L347.3,83.7 L347.8,83.5 L348.3,83.3 L348.8,83.3 L349.3,83.5 L349.8,83.8 L350.3,84.2 L350.8,84.5 L351.3,84.7 L351.8,84.7 L352.3,84.5 L352.8,84.0 L353.3,83.8 L353.8,83.7 L354.3,84.0 L354.8,84.4 L355.3,85.1 L355.8,85.7 L356.3,86.2 L356.8,86.2 L357.3,86.0 L357.8,85.5 L358.3,84.9" fill="none" stroke="#f06464" stroke-width="1.25" stroke-linejoin="round" stroke-linecap="round" />
<path d="M226.8,18.4 L227.3,18.5 L227.8,18.5 L228.3,18.5 L228.8,18.6 L229.3,18.6 L229.8,18.6 L230.3,18.7 L230.8,18.7 L231.3,18.7 L231.8,18.8 L232.3,18.8 L232.8,18.8 L233.3,18.8 L233.8,18.9 L234.3,18.9 L234.8,18.9 L235.3,19.0 L235.8,19.0 L236.3,19.0 L236.8,19.0 L237.3,19.1 L237.8,19.1 L238.3,19.1 L238.8,19.2 L239.3,19.2 L239.8,19.2 L240.3,19.2 L240.8,19.3 L241.3,19.3 L241.8,19.3 L242.3,19.3 L242.8,19.4 L243.3,19.4 L243.8,19.4 L244.3,19.4 L244.8,19.5 L245.3,19.5 L245.8,19.5 L246.3,19.5 L246.8,19.6 L247.3,19.6 L247.8,19.6 L248.3,19.7 L248.8,19.7 L249.3,19.7 L249.8,19.7 L250.3,19.8 L250.8,19.8 L251.3,19.8 L251.8,19.8 L252.3,19.9 L252.8,19.9 L253.3,19.9 L253.8,20.0 L254.3,20.0 L254.8,20.0 L255.3,20.0 L255.8,20.1 L256.3,20.1 L256.8,20.1 L257.3,20.2 L257.8,20.2 L258.3,20.2 L258.8,20.3 L259.3,20.3 L259.8,20.3 L260.3,20.4 L260.8,20.4 L261.3,20.4 L261.8,20.5 L262.3,20.5 L262.8,20.5 L263.3,20.6 L263.8,20.6 L264.3,20.7 L264.8,20.7 L265.3,20.8 L265.8,20.8 L266.3,20.8 L266.8,20.9 L267.3,20.9 L267.8,21.0 L268.3,21.0 L268.8,21.1 L269.3,21.2 L269.8,21.2 L270.3,21.3 L270.8,21.3 L271.3,21.4 L271.8,21.5 L272.3,21.5 L272.8,21.6 L273.3,21.7 L273.8,21.8 L274.3,21.8 L274.8,21.9 L275.3,22.0 L275.8,22.1 L276.3,22.2 L276.8,22.3 L277.3,22.4 L277.8,22.5 L278.3,22.6 L278.8,22.7 L279.3,22.8 L279.8,22.9 L280.3,23.0 L280.8,23.1 L281.3,23.2 L281.8,23.4 L282.3,23.5 L282.8,23.6 L283.3,23.8 L283.8,23.9 L284.3,24.1 L284.8,24.2 L285.3,24.4 L285.8,24.6 L286.3,24.7 L286.8,24.9 L287.3,25.1 L287.8,25.3 L288.3,25.5 L288.8,25.7 L289.3,25.9 L289.8,26.1 L290.3,26.3 L290.8,26.5 L291.3,26.8 L291.8,27.0 L292.3,27.3 L292.8,27.5 L293.3,27.8 L293.8,28.0 L294.3,28.3 L294.8,28.6 L295.3,28.9 L295.8,29.2 L296.3,29.5 L296.8,29.8 L297.3,30.1 L297.8,30.5 L298.3,30.8 L298.8,31.2 L299.3,31.5 L299.8,31.9 L300.3,32.3 L300.8,32.7 L301.3,33.1 L301.8,33.5 L302.3,33.9 L302.8,34.3 L303.3,34.8 L303.8,35.2 L304.3,35.7 L304.8,36.2 L305.3,36.6 L305.8,37.1 L306.3,37.6 L306.8,38.2 L307.3,38.7 L307.8,39.2 L308.3,39.8 L308.8,40.4 L309.3,41.0 L309.8,41.5 L310.3,42.2 L310.8,42.8 L311.3,43.4 L311.8,44.1 L312.3,44.7 L312.8,45.4 L313.3,46.1 L313.8,46.8 L314.3,47.5 L314.8,48.2 L315.3,49.0 L315.8,49.7 L316.3,50.5 L316.8,51.3 L317.3,52.1 L317.8,52.9 L318.3,53.8 L318.8,54.6 L319.3,55.5 L319.8,56.4 L320.3,57.3 L320.8,58.2 L321.3,59.1 L321.8,60.1 L322.3,61.0 L322.8,62.0 L323.3,63.0 L323.8,64.0 L324.3,65.1 L324.8,66.1 L325.3,67.2 L325.8,68.3 L326.3,69.4 L326.8,70.5 L327.3,71.6 L327.8,72.8 L328.3,73.9 L328.8,75.1 L329.3,76.3 L329.8,77.5 L330.3,78.6 L330.8,79.8 L331.3,80.9 L331.8,81.9 L332.3,83.0 L332.8,84.1 L333.3,84.9 L333.8,85.3 L334.3,86.8 L334.8,89.8 L335.3,89.2 L335.8,86.2 L336.3,83.4 L336.8,83.4 L337.3,83.7 L337.8,84.0 L338.3,84.4 L338.8,84.6 L339.3,84.4 L339.8,84.0 L340.3,83.4 L340.8,82.9 L341.3,82.7 L341.8,82.7 L342.3,82.9 L342.8,83.3 L343.3,83.7 L343.8,83.9 L344.3,83.8 L344.8,83.4 L345.3,82.8 L345.8,82.2 L346.3,81.9 L346.8,81.9 L347.3,82.2 L347.8,82.7 L348.3,83.5 L348.8,84.1 L349.3,84.6 L349.8,84.7 L350.3,84.6 L350.8,84.3 L351.3,84.1 L351.8,84.0 L352.3,83.9 L352.8,83.9 L353.3,84.2 L353.8,84.5 L354.3,84.8 L354.8,85.0 L355.3,85.2 L355.8,85.4 L356.3,85.5 L356.8,85.6 L357.3,85.6 L357.8,85.6 L358.3,85.4" fill="none" stroke="#3d8ee6" stroke-width="1.25" stroke-linejoin="round" stroke-linecap="round" />
<path d="M226.8,18.4 L227.3,18.5 L227.8,18.5 L228.3,18.5 L228.8,18.6 L229.3,18.6 L229.8,18.6 L230.3,18.7 L230.8,18.7 L231.3,18.7 L231.8,18.7 L232.3,18.8 L232.8,18.8 L233.3,18.8 L233.8,18.9 L234.3,18.9 L234.8,18.9 L235.3,19.0 L235.8,19.0 L236.3,19.0 L236.8,19.0 L237.3,19.1 L237.8,19.1 L238.3,19.1 L238.8,19.1 L239.3,19.2 L239.8,19.2 L240.3,19.2 L240.8,19.3 L241.3,19.3 L241.8,19.3 L242.3,19.3 L242.8,19.4 L243.3,19.4 L243.8,19.4 L244.3,19.4 L244.8,19.5 L245.3,19.5 L245.8,19.5 L246.3,19.5 L246.8,19.6 L247.3,19.6 L247.8,19.6 L248.3,19.6 L248.8,19.7 L249.3,19.7 L249.8,19.7 L250.3,19.8 L250.8,19.8 L251.3,19.8 L251.8,19.8 L252.3,19.9 L252.8,19.9 L253.3,19.9 L253.8,19.9 L254.3,20.0 L254.8,20.0 L255.3,20.0 L255.8,20.1 L256.3,20.1 L256.8,20.1 L257.3,20.2 L257.8,20.2 L258.3,20.2 L258.8,20.2 L259.3,20.3 L259.8,20.3 L260.3,20.3 L260.8,20.4 L261.3,20.4 L261.8,20.5 L262.3,20.5 L262.8,20.5 L263.3,20.6 L263.8,20.6 L264.3,20.7 L264.8,20.7 L265.3,20.7 L265.8,20.8 L266.3,20.8 L266.8,20.9 L267.3,20.9 L267.8,21.0 L268.3,21.0 L268.8,21.1 L269.3,21.1 L269.8,21.2 L270.3,21.3 L270.8,21.3 L271.3,21.4 L271.8,21.5 L272.3,21.5 L272.8,21.6 L273.3,21.7 L273.8,21.7 L274.3,21.8 L274.8,21.9 L275.3,22.0 L275.8,22.1 L276.3,22.2 L276.8,22.2 L277.3,22.3 L277.8,22.4 L278.3,22.5 L278.8,22.6 L279.3,22.8 L279.8,22.9 L280.3,23.0 L280.8,23.1 L281.3,23.2 L281.8,23.4 L282.3,23.5 L282.8,23.6 L283.3,23.8 L283.8,23.9 L284.3,24.1 L284.8,24.2 L285.3,24.4 L285.8,24.5 L286.3,24.7 L286.8,24.9 L287.3,25.1 L287.8,25.2 L288.3,25.4 L288.8,25.6 L289.3,25.8 L289.8,26.0 L290.3,26.3 L290.8,26.5 L291.3,26.7 L291.8,27.0 L292.3,27.2 L292.8,27.5 L293.3,27.7 L293.8,28.0 L294.3,28.3 L294.8,28.5 L295.3,28.8 L295.8,29.1 L296.3,29.4 L296.8,29.7 L297.3,30.1 L297.8,30.4 L298.3,30.7 L298.8,31.1 L299.3,31.4 L299.8,31.8 L300.3,32.2 L300.8,32.6 L301.3,33.0 L301.8,33.4 L302.3,33.8 L302.8,34.2 L303.3,34.7 L303.8,35.1 L304.3,35.6 L304.8,36.1 L305.3,36.5 L305.8,37.0 L306.3,37.5 L306.8,38.1 L307.3,38.6 L307.8,39.1 L308.3,39.7 L308.8,40.3 L309.3,40.8 L309.8,41.4 L310.3,42.0 L310.8,42.7 L311.3,43.3 L311.8,43.9 L312.3,44.6 L312.8,45.3 L313.3,45.9 L313.8,46.6 L314.3,47.4 L314.8,48.1 L315.3,48.8 L315.8,49.6 L316.3,50.4 L316.8,51.2 L317.3,52.0 L317.8,52.8 L318.3,53.6 L318.8,54.5 L319.3,55.3 L319.8,56.2 L320.3,57.1 L320.8,58.0 L321.3,58.9 L321.8,59.9 L322.3,60.8 L322.8,61.8 L323.3,62.8 L323.8,63.8 L324.3,64.9 L324.8,65.9 L325.3,67.0 L325.8,68.1 L326.3,69.1 L326.8,70.3 L327.3,71.4 L327.8,72.5 L328.3,73.7 L328.8,74.9 L329.3,76.1 L329.8,77.3 L330.3,78.5 L330.8,79.7 L331.3,80.9 L331.8,82.0 L332.3,83.0 L332.8,83.9 L333.3,84.6 L333.8,85.0 L334.3,85.3 L334.8,85.3 L335.3,85.0 L335.8,84.5 L336.3,84.0 L336.8,83.4 L337.3,82.9 L337.8,82.6 L338.3,82.5 L338.8,82.6 L339.3,82.9 L339.8,83.2 L340.3,83.5 L340.8,83.7 L341.3,83.8 L341.8,83.8 L342.3,83.7 L342.8,86.0 L343.3,85.5 L343.8,83.0 L344.3,82.7 L344.8,82.6 L345.3,82.5 L345.8,82.5 L346.3,82.6 L346.8,82.8 L347.3,83.1 L347.8,83.4 L348.3,83.8 L348.8,84.1 L349.3,84.4 L349.8,84.6 L350.3,84.6 L350.8,84.7 L351.3,84.7 L351.8,84.8 L352.3,84.8 L352.8,84.7 L353.3,84.7 L353.8,84.7 L354.3,84.6 L354.8,84.4 L355.3,84.3 L355.8,84.2 L356.3,84.1 L356.8,84.0 L357.3,84.1 L357.8,84.3 L358.3,84.7" fill="none" stroke="#c88ae2" stroke-width="1.25" stroke-linejoin="round" stroke-linecap="round" />
<path d="M226.8,18.0 L227.3,18.0 L227.8,18.1 L228.3,18.1 L228.8,18.1 L229.3,18.2 L229.8,18.2 L230.3,18.2 L230.8,18.2 L231.3,18.3 L231.8,18.3 L232.3,18.3 L232.8,18.4 L233.3,18.4 L233.8,18.4 L234.3,18.4 L234.8,18.5 L235.3,18.5 L235.8,18.5 L236.3,18.6 L236.8,18.6 L237.3,18.6 L237.8,18.6 L238.3,18.7 L238.8,18.7 L239.3,18.7 L239.8,18.7 L240.3,18.8 L240.8,18.8 L241.3,18.8 L241.8,18.9 L242.3,18.9 L242.8,18.9 L243.3,18.9 L243.8,19.0 L244.3,19.0 L244.8,19.0 L245.3,19.0 L245.8,19.1 L246.3,19.1 L246.8,19.1 L247.3,19.1 L247.8,19.2 L248.3,19.2 L248.8,19.2 L249.3,19.2 L249.8,19.3 L250.3,19.3 L250.8,19.3 L251.3,19.4 L251.8,19.4 L252.3,19.4 L252.8,19.4 L253.3,19.5 L253.8,19.5 L254.3,19.5 L254.8,19.6 L255.3,19.6 L255.8,19.6 L256.3,19.6 L256.8,19.7 L257.3,19.7 L257.8,19.7 L258.3,19.8 L258.8,19.8 L259.3,19.8 L259.8,19.9 L260.3,19.9 L260.8,19.9 L261.3,20.0 L261.8,20.0 L262.3,20.1 L262.8,20.1 L263.3,20.1 L263.8,20.2 L264.3,20.2 L264.8,20.3 L265.3,20.3 L265.8,20.4 L266.3,20.4 L266.8,20.5 L267.3,20.5 L267.8,20.6 L268.3,20.6 L268.8,20.7 L269.3,20.8 L269.8,20.8 L270.3,20.9 L270.8,20.9 L271.3,21.0 L271.8,21.1 L272.3,21.2 L272.8,21.2 L273.3,21.3 L273.8,21.4 L274.3,21.5 L274.8,21.6 L275.3,21.6 L275.8,21.7 L276.3,21.8 L276.8,21.9 L277.3,22.0 L277.8,22.1 L278.3,22.2 L278.8,22.3 L279.3,22.5 L279.8,22.6 L280.3,22.7 L280.8,22.8 L281.3,23.0 L281.8,23.1 L282.3,23.2 L282.8,23.4 L283.3,23.5 L283.8,23.7 L284.3,23.8 L284.8,24.0 L285.3,24.2 L285.8,24.3 L286.3,24.5 L286.8,24.7 L287.3,24.9 L287.8,25.1 L288.3,25.3 L288.8,25.5 L289.3,25.7 L289.8,25.9 L290.3,26.2 L290.8,26.4 L291.3,26.7 L291.8,26.9 L292.3,27.2 L292.8,27.4 L293.3,27.7 L293.8,28.0 L294.3,28.3 L294.8,28.6 L295.3,28.9 L295.8,29.2 L296.3,29.5 L296.8,29.8 L297.3,30.2 L297.8,30.5 L298.3,30.9 L298.8,31.2 L299.3,31.6 L299.8,32.0 L300.3,32.4 L300.8,32.8 L301.3,33.2 L301.8,33.6 L302.3,34.1 L302.8,34.5 L303.3,35.0 L303.8,35.5 L304.3,35.9 L304.8,36.4 L305.3,36.9 L305.8,37.5 L306.3,38.0 L306.8,38.5 L307.3,39.1 L307.8,39.6 L308.3,40.2 L308.8,40.8 L309.3,41.4 L309.8,42.0 L310.3,42.7 L310.8,43.3 L311.3,44.0 L311.8,44.6 L312.3,45.3 L312.8,46.0 L313.3,46.7 L313.8,47.4 L314.3,48.2 L314.8,48.9 L315.3,49.7 L315.8,50.5 L316.3,51.3 L316.8,52.1 L317.3,52.9 L317.8,53.8 L318.3,54.6 L318.8,55.5 L319.3,56.4 L319.8,57.3 L320.3,58.3 L320.8,59.2 L321.3,60.2 L321.8,61.1 L322.3,62.1 L322.8,63.1 L323.3,64.2 L323.8,65.2 L324.3,66.3 L324.8,67.3 L325.3,68.4 L325.8,69.5 L326.3,70.7 L326.8,71.8 L327.3,73.0 L327.8,74.2 L328.3,75.3 L328.8,76.6 L329.3,77.8 L329.8,79.3 L330.3,82.3 L330.8,85.3 L331.3,88.3 L331.8,91.3 L332.3,94.3 L332.8,97.3 L333.3,100.3 L333.8,99.7 L334.3,96.7 L334.8,93.7 L335.3,90.7 L335.8,87.7 L336.3,84.7 L336.8,82.9 L337.3,83.0 L337.8,83.0 L338.3,83.2 L338.8,83.3 L339.3,83.4 L339.8,83.4 L340.3,83.3 L340.8,83.3 L341.3,83.2 L341.8,83.2 L342.3,83.2 L342.8,83.3 L343.3,83.4 L343.8,83.7 L344.3,83.9 L344.8,84.1 L345.3,84.2 L345.8,84.3 L346.3,84.2 L346.8,84.1 L347.3,83.9 L347.8,83.6 L348.3,83.4 L348.8,85.5 L349.3,88.0 L349.8,87.5 L350.3,85.0 L350.8,83.9 L351.3,84.3 L351.8,84.7 L352.3,84.9 L352.8,84.9 L353.3,84.9 L353.8,84.8 L354.3,84.6 L354.8,84.3 L355.3,84.1 L355.8,84.0 L356.3,84.0 L356.8,83.9 L357.3,84.0 L357.8,84.2 L358.3,84.3" fill="none" stroke="#2bb07a" stroke-width="1.25" stroke-linejoin="round" stroke-linecap="round" />
<path d="M226.8,18.8 L227.3,18.8 L227.8,18.9 L228.3,18.9 L228.8,18.9 L229.3,19.0 L229.8,19.0 L230.3,19.0 L230.8,19.1 L231.3,19.1 L231.8,19.1 L232.3,19.1 L232.8,19.2 L233.3,19.2 L233.8,19.2 L234.3,19.3 L234.8,19.3 L235.3,19.3 L235.8,19.4 L236.3,19.4 L236.8,19.4 L237.3,19.4 L237.8,19.5 L238.3,19.5 L238.8,19.5 L239.3,19.5 L239.8,19.6 L240.3,19.6 L240.8,19.6 L241.3,19.7 L241.8,19.7 L242.3,19.7 L242.8,19.7 L243.3,19.8 L243.8,19.8 L244.3,19.8 L244.8,19.8 L245.3,19.9 L245.8,19.9 L246.3,19.9 L246.8,19.9 L247.3,20.0 L247.8,20.0 L248.3,20.0 L248.8,20.0 L249.3,20.1 L249.8,20.1 L250.3,20.1 L250.8,20.2 L251.3,20.2 L251.8,20.2 L252.3,20.2 L252.8,20.3 L253.3,20.3 L253.8,20.3 L254.3,20.3 L254.8,20.4 L255.3,20.4 L255.8,20.4 L256.3,20.5 L256.8,20.5 L257.3,20.5 L257.8,20.6 L258.3,20.6 L258.8,20.6 L259.3,20.6 L259.8,20.7 L260.3,20.7 L260.8,20.7 L261.3,20.8 L261.8,20.8 L262.3,20.9 L262.8,20.9 L263.3,20.9 L263.8,21.0 L264.3,21.0 L264.8,21.1 L265.3,21.1 L265.8,21.1 L266.3,21.2 L266.8,21.2 L267.3,21.3 L267.8,21.3 L268.3,21.4 L268.8,21.4 L269.3,21.5 L269.8,21.5 L270.3,21.6 L270.8,21.7 L271.3,21.7 L271.8,21.8 L272.3,21.9 L272.8,21.9 L273.3,22.0 L273.8,22.1 L274.3,22.1 L274.8,22.2 L275.3,22.3 L275.8,22.4 L276.3,22.5 L276.8,22.6 L277.3,22.6 L277.8,22.7 L278.3,22.8 L278.8,22.9 L279.3,23.0 L279.8,23.2 L280.3,23.3 L280.8,23.4 L281.3,23.5 L281.8,23.6 L282.3,23.8 L282.8,23.9 L283.3,24.0 L283.8,24.2 L284.3,24.3 L284.8,24.5 L285.3,24.6 L285.8,24.8 L286.3,24.9 L286.8,25.1 L287.3,25.3 L287.8,25.5 L288.3,25.6 L288.8,25.8 L289.3,26.0 L289.8,26.2 L290.3,26.4 L290.8,26.7 L291.3,26.9 L291.8,27.1 L292.3,27.4 L292.8,27.6 L293.3,27.9 L293.8,28.1 L294.3,28.4 L294.8,28.7 L295.3,28.9 L295.8,29.2 L296.3,29.5 L296.8,29.8 L297.3,30.1 L297.8,30.5 L298.3,30.8 L298.8,31.1 L299.3,31.5 L299.8,31.8 L300.3,32.2 L300.8,32.6 L301.3,33.0 L301.8,33.4 L302.3,33.8 L302.8,34.2 L303.3,34.6 L303.8,35.1 L304.3,35.5 L304.8,36.0 L305.3,36.5 L305.8,36.9 L306.3,37.4 L306.8,37.9 L307.3,38.5 L307.8,39.0 L308.3,39.5 L308.8,40.1 L309.3,40.7 L309.8,41.2 L310.3,41.8 L310.8,42.4 L311.3,43.1 L311.8,43.7 L312.3,44.3 L312.8,45.0 L313.3,45.7 L313.8,46.3 L314.3,47.0 L314.8,47.8 L315.3,48.5 L315.8,49.2 L316.3,50.0 L316.8,50.8 L317.3,51.6 L317.8,52.4 L318.3,53.2 L318.8,54.0 L319.3,54.9 L319.8,55.7 L320.3,56.6 L320.8,57.5 L321.3,58.4 L321.8,59.3 L322.3,60.3 L322.8,61.2 L323.3,62.2 L323.8,63.2 L324.3,64.2 L324.8,65.3 L325.3,66.3 L325.8,67.4 L326.3,68.5 L326.8,69.5 L327.3,70.7 L327.8,71.8 L328.3,72.9 L328.8,74.1 L329.3,75.3 L329.8,76.5 L330.3,77.7 L330.8,78.9 L331.3,80.1 L331.8,81.3 L332.3,82.4 L332.8,83.4 L333.3,84.1 L333.8,84.2 L334.3,84.0 L334.8,83.7 L335.3,83.5 L335.8,83.5 L336.3,83.7 L336.8,83.9 L337.3,84.0 L337.8,83.9 L338.3,83.7 L338.8,83.3 L339.3,82.9 L339.8,82.5 L340.3,82.3 L340.8,82.3 L341.3,82.5 L341.8,82.9 L342.3,83.4 L342.8,83.8 L343.3,84.1 L343.8,84.3 L344.3,84.3 L344.8,84.1 L345.3,83.9 L345.8,83.6 L346.3,83.4 L346.8,83.3 L347.3,83.2 L347.8,83.2 L348.3,83.3 L348.8,83.4 L349.3,83.6 L349.8,83.7 L350.3,83.9 L350.8,84.1 L351.3,84.2 L351.8,84.3 L352.3,84.5 L352.8,87.0 L353.3,86.5 L353.8,84.0 L354.3,83.6 L354.8,83.7 L355.3,84.2 L355.8,84.9 L356.3,85.5 L356.8,86.0 L357.3,86.3 L357.8,86.3 L358.3,86.0" fill="none" stroke="#f0a232" stroke-width="1.25" stroke-linejoin="round" stroke-linecap="round" />
<path d="M226.8,18.7 L227.3,18.8 L227.8,18.8 L228.3,18.8 L228.8,18.8 L229.3,18.9 L229.8,18.9 L230.3,18.9 L230.8,19.0 L231.3,19.0 L231.8,19.0 L232.3,19.1 L232.8,19.1 L233.3,19.1 L233.8,19.1 L234.3,19.2 L234.8,19.2 L235.3,19.2 L235.8,19.3 L236.3,19.3 L236.8,19.3 L237.3,19.3 L237.8,19.4 L238.3,19.4 L238.8,19.4 L239.3,19.4 L239.8,19.5 L240.3,19.5 L240.8,19.5 L241.3,19.5 L241.8,19.6 L242.3,19.6 L242.8,19.6 L243.3,19.7 L243.8,19.7 L244.3,19.7 L244.8,19.7 L245.3,19.8 L245.8,19.8 L246.3,19.8 L246.8,19.8 L247.3,19.9 L247.8,19.9 L248.3,19.9 L248.8,19.9 L249.3,20.0 L249.8,20.0 L250.3,20.0 L250.8,20.1 L251.3,20.1 L251.8,20.1 L252.3,20.1 L252.8,20.2 L253.3,20.2 L253.8,20.2 L254.3,20.2 L254.8,20.3 L255.3,20.3 L255.8,20.3 L256.3,20.4 L256.8,20.4 L257.3,20.4 L257.8,20.5 L258.3,20.5 L258.8,20.5 L259.3,20.6 L259.8,20.6 L260.3,20.6 L260.8,20.7 L261.3,20.7 L261.8,20.8 L262.3,20.8 L262.8,20.8 L263.3,20.9 L263.8,20.9 L264.3,21.0 L264.8,21.0 L265.3,21.1 L265.8,21.1 L266.3,21.2 L266.8,21.2 L267.3,21.3 L267.8,21.3 L268.3,21.4 L268.8,21.4 L269.3,21.5 L269.8,21.6 L270.3,21.6 L270.8,21.7 L271.3,21.8 L271.8,21.8 L272.3,21.9 L272.8,22.0 L273.3,22.1 L273.8,22.1 L274.3,22.2 L274.8,22.3 L275.3,22.4 L275.8,22.5 L276.3,22.6 L276.8,22.7 L277.3,22.8 L277.8,22.9 L278.3,23.0 L278.8,23.1 L279.3,23.3 L279.8,23.4 L280.3,23.5 L280.8,23.6 L281.3,23.8 L281.8,23.9 L282.3,24.0 L282.8,24.2 L283.3,24.3 L283.8,24.5 L284.3,24.7 L284.8,24.8 L285.3,25.0 L285.8,25.2 L286.3,25.4 L286.8,25.6 L287.3,25.8 L287.8,26.0 L288.3,26.2 L288.8,26.4 L289.3,26.6 L289.8,26.8 L290.3,27.1 L290.8,27.3 L291.3,27.6 L291.8,27.8 L292.3,28.1 L292.8,28.3 L293.3,28.6 L293.8,28.9 L294.3,29.2 L294.8,29.5 L295.3,29.8 L295.8,30.1 L296.3,30.5 L296.8,30.8 L297.3,31.1 L297.8,31.5 L298.3,31.9 L298.8,32.2 L299.3,32.6 L299.8,33.0 L300.3,33.4 L300.8,33.8 L301.3,34.3 L301.8,34.7 L302.3,35.1 L302.8,35.6 L303.3,36.1 L303.8,36.5 L304.3,37.0 L304.8,37.5 L305.3,38.1 L305.8,38.6 L306.3,39.1 L306.8,39.7 L307.3,40.2 L307.8,40.8 L308.3,41.4 L308.8,42.0 L309.3,42.6 L309.8,43.2 L310.3,43.9 L310.8,44.5 L311.3,45.2 L311.8,45.9 L312.3,46.6 L312.8,47.3 L313.3,48.0 L313.8,48.7 L314.3,49.5 L314.8,50.3 L315.3,51.0 L315.8,51.8 L316.3,52.6 L316.8,53.5 L317.3,54.3 L317.8,55.2 L318.3,56.1 L318.8,56.9 L319.3,57.8 L319.8,58.8 L320.3,59.7 L320.8,60.7 L321.3,61.6 L321.8,62.6 L322.3,63.6 L322.8,64.6 L323.3,65.7 L323.8,66.7 L324.3,67.8 L324.8,68.9 L325.3,70.0 L325.8,71.1 L326.3,72.3 L326.8,73.4 L327.3,74.6 L327.8,75.8 L328.3,77.0 L328.8,78.2 L329.3,79.4 L329.8,80.5 L330.3,81.7 L330.8,83.8 L331.3,86.8 L331.8,89.8 L332.3,92.8 L332.8,95.8 L333.3,95.2 L333.8,92.2 L334.3,89.2 L334.8,86.2 L335.3,85.1 L335.8,85.0 L336.3,84.8 L336.8,84.5 L337.3,84.1 L337.8,83.7 L338.3,83.3 L338.8,82.9 L339.3,82.6 L339.8,82.4 L340.3,82.2 L340.8,82.1 L341.3,82.1 L341.8,82.0 L342.3,82.0 L342.8,82.0 L343.3,82.1 L343.8,82.3 L344.3,82.6 L344.8,83.1 L345.3,83.5 L345.8,84.0 L346.3,84.4 L346.8,84.6 L347.3,84.7 L347.8,84.5 L348.3,84.3 L348.8,84.0 L349.3,83.8 L349.8,83.7 L350.3,83.8 L350.8,84.0 L351.3,84.4 L351.8,84.9 L352.3,85.1 L352.8,85.2 L353.3,85.1 L353.8,84.9 L354.3,84.6 L354.8,84.2 L355.3,84.1 L355.8,84.2 L356.3,84.4 L356.8,84.6 L357.3,84.9 L357.8,85.2 L358.3,85.2" fill="none" stroke="#22d6dc" stroke-width="1.25" stroke-linejoin="round" stroke-linecap="round" />
<path d="M226.8,19.1 L227.3,19.2 L227.8,19.2 L228.3,19.2 L228.8,19.3 L229.3,19.3 L229.8,19.4 L230.3,19.4 L230.8,19.5 L231.3,19.5 L231.8,19.5 L232.3,19.6 L232.8,19.6 L233.3,19.7 L233.8,19.7 L234.3,19.7 L234.8,19.8 L235.3,19.8 L235.8,19.9 L236.3,19.9 L236.8,19.9 L237.3,20.0 L237.8,20.0 L238.3,20.0 L238.8,20.1 L239.3,20.1 L239.8,20.2 L240.3,20.2 L240.8,20.2 L241.3,20.3 L241.8,20.3 L242.3,20.4 L242.8,20.4 L243.3,20.4 L243.8,20.5 L244.3,20.5 L244.8,20.6 L245.3,20.6 L245.8,20.6 L246.3,20.7 L246.8,20.7 L247.3,20.7 L247.8,20.8 L248.3,20.8 L248.8,20.9 L249.3,20.9 L249.8,20.9 L250.3,21.0 L250.8,21.0 L251.3,21.1 L251.8,21.1 L252.3,21.2 L252.8,21.2 L253.3,21.2 L253.8,21.3 L254.3,21.3 L254.8,21.4 L255.3,21.4 L255.8,21.5 L256.3,21.5 L256.8,21.6 L257.3,21.6 L257.8,21.7 L258.3,21.7 L258.8,21.8 L259.3,21.8 L259.8,21.9 L260.3,21.9 L260.8,22.0 L261.3,22.1 L261.8,22.1 L262.3,22.2 L262.8,22.2 L263.3,22.3 L263.8,22.4 L264.3,22.4 L264.8,22.5 L265.3,22.6 L265.8,22.6 L266.3,22.7 L266.8,22.8 L267.3,22.9 L267.8,22.9 L268.3,23.0 L268.8,23.1 L269.3,23.1 L269.8,23.2 L270.3,23.3 L270.8,23.3 L271.3,23.4 L271.8,23.5 L272.3,23.6 L272.8,23.7 L273.3,23.8 L273.8,23.9 L274.3,23.9 L274.8,24.0 L275.3,24.1 L275.8,24.3 L276.3,24.4 L276.8,24.5 L277.3,24.6 L277.8,24.7 L278.3,24.8 L278.8,25.0 L279.3,25.1 L279.8,25.2 L280.3,25.4 L280.8,25.5 L281.3,25.7 L281.8,25.8 L282.3,26.0 L282.8,26.2 L283.3,26.3 L283.8,26.5 L284.3,26.7 L284.8,26.9 L285.3,27.1 L285.8,27.3 L286.3,27.5 L286.8,27.7 L287.3,27.9 L287.8,28.2 L288.3,28.4 L288.8,28.7 L289.3,28.9 L289.8,29.2 L290.3,29.4 L290.8,29.7 L291.3,30.0 L291.8,30.3 L292.3,30.6 L292.8,30.9 L293.3,31.2 L293.8,31.5 L294.3,31.9 L294.8,32.2 L295.3,32.6 L295.8,32.9 L296.3,33.3 L296.8,33.7 L297.3,34.1 L297.8,34.5 L298.3,34.9 L298.8,35.3 L299.3,35.8 L299.8,36.2 L300.3,36.7 L300.8,37.2 L301.3,37.6 L301.8,38.1 L302.3,38.7 L302.8,39.2 L303.3,39.7 L303.8,40.3 L304.3,40.8 L304.8,41.4 L305.3,42.0 L305.8,42.6 L306.3,43.2 L306.8,43.8 L307.3,44.4 L307.8,45.1 L308.3,45.8 L308.8,46.4 L309.3,47.1 L309.8,47.8 L310.3,48.6 L310.8,49.3 L311.3,50.1 L311.8,50.8 L312.3,51.6 L312.8,52.4 L313.3,53.2 L313.8,54.1 L314.3,54.9 L314.8,55.8 L315.3,56.6 L315.8,57.5 L316.3,58.4 L316.8,59.4 L317.3,60.3 L317.8,61.3 L318.3,62.2 L318.8,63.2 L319.3,64.2 L319.8,65.3 L320.3,66.3 L320.8,67.4 L321.3,68.5 L321.8,69.6 L322.3,70.7 L322.8,71.8 L323.3,73.0 L323.8,74.1 L324.3,75.3 L324.8,76.5 L325.3,77.7 L325.8,78.9 L326.3,80.5 L326.8,83.0 L327.3,85.5 L327.8,88.0 L328.3,90.5 L328.8,89.0 L329.3,86.5 L329.8,86.4 L330.3,86.1 L330.8,85.7 L331.3,85.2 L331.8,84.8 L332.3,84.8 L332.8,85.0 L333.3,85.2 L333.8,85.5 L334.3,85.6 L334.8,85.6 L335.3,85.4 L335.8,85.1 L336.3,84.7 L336.8,84.3 L337.3,83.9 L337.8,83.7 L338.3,83.6 L338.8,83.7 L339.3,83.9 L339.8,84.2 L340.3,84.5 L340.8,84.8 L341.3,84.9 L341.8,84.9 L342.3,84.7 L342.8,84.5 L343.3,84.2 L343.8,84.0 L344.3,83.9 L344.8,83.9 L345.3,84.0 L345.8,84.2 L346.3,84.4 L346.8,84.6 L347.3,84.7 L347.8,84.7 L348.3,84.6 L348.8,84.3 L349.3,84.1 L349.8,83.9 L350.3,83.9 L350.8,83.9 L351.3,84.1 L351.8,84.4 L352.3,84.8 L352.8,85.2 L353.3,85.7 L353.8,86.0 L354.3,86.2 L354.8,86.3 L355.3,87.5 L355.8,89.5 L356.3,91.5 L356.8,93.5 L357.3,91.5 L357.8,89.5 L358.3,87.5" fill="none" stroke="#a66a70" stroke-width="1.25" stroke-linejoin="round" stroke-linecap="round" />
<path d="M226.8,20.0 L227.3,20.0 L227.8,20.1 L228.3,20.1 L228.8,20.1 L229.3,20.1 L229.8,20.2 L230.3,20.2 L230.8,20.2 L231.3,20.2 L231.8,20.3 L232.3,20.3 L232.8,20.3 L233.3,20.4 L233.8,20.4 L234.3,20.4 L234.8,20.4 L235.3,20.5 L235.8,20.5 L236.3,20.5 L236.8,20.5 L237.3,20.6 L237.8,20.6 L238.3,20.6 L238.8,20.6 L239.3,20.7 L239.8,20.7 L240.3,20.7 L240.8,20.7 L241.3,20.8 L241.8,20.8 L242.3,20.8 L242.8,20.9 L243.3,20.9 L243.8,20.9 L244.3,20.9 L244.8,21.0 L245.3,21.0 L245.8,21.0 L246.3,21.1 L246.8,21.1 L247.3,21.1 L247.8,21.1 L248.3,21.2 L248.8,21.2 L249.3,21.2 L249.8,21.3 L250.3,21.3 L250.8,21.3 L251.3,21.4 L251.8,21.4 L252.3,21.4 L252.8,21.5 L253.3,21.5 L253.8,21.6 L254.3,21.6 L254.8,21.6 L255.3,21.7 L255.8,21.7 L256.3,21.8 L256.8,21.8 L257.3,21.9 L257.8,21.9 L258.3,22.0 L258.8,22.0 L259.3,22.1 L259.8,22.1 L260.3,22.2 L260.8,22.3 L261.3,22.3 L261.8,22.4 L262.3,22.4 L262.8,22.5 L263.3,22.6 L263.8,22.7 L264.3,22.7 L264.8,22.8 L265.3,22.9 L265.8,23.0 L266.3,23.1 L266.8,23.1 L267.3,23.2 L267.8,23.3 L268.3,23.4 L268.8,23.5 L269.3,23.6 L269.8,23.7 L270.3,23.8 L270.8,24.0 L271.3,24.1 L271.8,24.2 L272.3,24.3 L272.8,24.5 L273.3,24.6 L273.8,24.7 L274.3,24.9 L274.8,25.0 L275.3,25.2 L275.8,25.3 L276.3,25.5 L276.8,25.7 L277.3,25.8 L277.8,26.0 L278.3,26.2 L278.8,26.4 L279.3,26.6 L279.8,26.8 L280.3,27.0 L280.8,27.2 L281.3,27.4 L281.8,27.7 L282.3,27.9 L282.8,28.2 L283.3,28.4 L283.8,28.7 L284.3,28.9 L284.8,29.2 L285.3,29.5 L285.8,29.8 L286.3,30.1 L286.8,30.4 L287.3,30.7 L287.8,31.0 L288.3,31.3 L288.8,31.7 L289.3,32.0 L289.8,32.4 L290.3,32.7 L290.8,33.1 L291.3,33.5 L291.8,33.9 L292.3,34.3 L292.8,34.7 L293.3,35.1 L293.8,35.6 L294.3,36.0 L294.8,36.5 L295.3,37.0 L295.8,37.4 L296.3,37.9 L296.8,38.4 L297.3,39.0 L297.8,39.5 L298.3,40.0 L298.8,40.6 L299.3,41.1 L299.8,41.7 L300.3,42.3 L300.8,42.9 L301.3,43.5 L301.8,44.2 L302.3,44.8 L302.8,45.5 L303.3,46.1 L303.8,46.8 L304.3,47.5 L304.8,48.2 L305.3,48.9 L305.8,49.7 L306.3,50.4 L306.8,51.2 L307.3,52.0 L307.8,52.8 L308.3,53.6 L308.8,54.4 L309.3,55.3 L309.8,56.1 L310.3,57.0 L310.8,57.9 L311.3,58.8 L311.8,59.8 L312.3,60.7 L312.8,61.7 L313.3,62.6 L313.8,63.6 L314.3,64.6 L314.8,65.7 L315.3,66.7 L315.8,67.8 L316.3,68.8 L316.8,69.9 L317.3,71.0 L317.8,72.2 L318.3,73.3 L318.8,74.5 L319.3,75.7 L319.8,76.9 L320.3,78.1 L320.8,79.3 L321.3,80.6 L321.8,81.8 L322.3,83.1 L322.8,84.4 L323.3,85.6 L323.8,86.9 L324.3,88.0 L324.8,90.0 L325.3,92.5 L325.8,95.0 L326.3,97.5 L326.8,97.0 L327.3,94.5 L327.8,92.0 L328.3,89.5 L328.8,88.0 L329.3,87.4 L329.8,86.8 L330.3,86.5 L330.8,86.4 L331.3,86.3 L331.8,86.3 L332.3,86.3 L332.8,86.3 L333.3,86.2 L333.8,86.1 L334.3,86.0 L334.8,85.8 L335.3,85.7 L335.8,85.5 L336.3,85.5 L336.8,85.4 L337.3,85.4 L337.8,85.4 L338.3,85.4 L338.8,85.4 L339.3,85.4 L339.8,85.4 L340.3,85.4 L340.8,85.5 L341.3,85.6 L341.8,85.7 L342.3,85.7 L342.8,85.8 L343.3,85.8 L343.8,85.8 L344.3,85.7 L344.8,85.6 L345.3,85.5 L345.8,85.3 L346.3,85.1 L346.8,85.0 L347.3,85.0 L347.8,87.0 L348.3,89.5 L348.8,92.0 L349.3,94.5 L349.8,97.0 L350.3,99.5 L350.8,100.0 L351.3,97.5 L351.8,95.0 L352.3,92.5 L352.8,90.0 L353.3,87.5 L353.8,85.0 L354.3,82.5 L354.8,80.5 L355.3,79.6 L355.8,78.7 L356.3,77.8 L356.8,76.9 L357.3,75.7 L357.8,74.4 L358.3,72.9" fill="none" stroke="#a8a82c" stroke-width="1.25" stroke-linejoin="round" stroke-linecap="round" />
</g>
<line x1="224.6" y1="11.2" x2="226.8" y2="11.2" stroke="#222" stroke-width="1.2" />
<text x="223.8" y="13.6" font-size="6.6" text-anchor="end" font-weight="bold">10<tspan font-size="4.8" dy="-3.1" stroke="#000" stroke-width="0.3">&#8722;</tspan><tspan font-size="4.8">5</tspan></text>
<line x1="225.7" y1="20.45" x2="226.8" y2="20.45" stroke="#222" stroke-width="0.7" />
<line x1="225.7" y1="18.12" x2="226.8" y2="18.12" stroke="#222" stroke-width="0.7" />
<line x1="225.7" y1="16.47" x2="226.8" y2="16.47" stroke="#222" stroke-width="0.7" />
<line x1="225.7" y1="15.18" x2="226.8" y2="15.18" stroke="#222" stroke-width="0.7" />
<line x1="225.7" y1="14.14" x2="226.8" y2="14.14" stroke="#222" stroke-width="0.7" />
<line x1="225.7" y1="13.25" x2="226.8" y2="13.25" stroke="#222" stroke-width="0.7" />
<line x1="225.7" y1="12.48" x2="226.8" y2="12.48" stroke="#222" stroke-width="0.7" />
<line x1="225.7" y1="11.81" x2="226.8" y2="11.81" stroke="#222" stroke-width="0.7" />
<line x1="224.6" y1="24.44" x2="226.8" y2="24.44" stroke="#222" stroke-width="1.2" />
<text x="223.8" y="26.84" font-size="6.6" text-anchor="end" font-weight="bold">10<tspan font-size="4.8" dy="-3.1" stroke="#000" stroke-width="0.3">&#8722;</tspan><tspan font-size="4.8">6</tspan></text>
<line x1="225.7" y1="33.69" x2="226.8" y2="33.69" stroke="#222" stroke-width="0.7" />
<line x1="225.7" y1="31.36" x2="226.8" y2="31.36" stroke="#222" stroke-width="0.7" />
<line x1="225.7" y1="29.71" x2="226.8" y2="29.71" stroke="#222" stroke-width="0.7" />
<line x1="225.7" y1="28.42" x2="226.8" y2="28.42" stroke="#222" stroke-width="0.7" />
<line x1="225.7" y1="27.37" x2="226.8" y2="27.37" stroke="#222" stroke-width="0.7" />
<line x1="225.7" y1="26.49" x2="226.8" y2="26.49" stroke="#222" stroke-width="0.7" />
<line x1="225.7" y1="25.72" x2="226.8" y2="25.72" stroke="#222" stroke-width="0.7" />
<line x1="225.7" y1="25.04" x2="226.8" y2="25.04" stroke="#222" stroke-width="0.7" />
<line x1="224.6" y1="37.67" x2="226.8" y2="37.67" stroke="#222" stroke-width="1.2" />
<text x="223.8" y="40.07" font-size="6.6" text-anchor="end" font-weight="bold">10<tspan font-size="4.8" dy="-3.1" stroke="#000" stroke-width="0.3">&#8722;</tspan><tspan font-size="4.8">7</tspan></text>
<line x1="225.7" y1="46.93" x2="226.8" y2="46.93" stroke="#222" stroke-width="0.7" />
<line x1="225.7" y1="44.6" x2="226.8" y2="44.6" stroke="#222" stroke-width="0.7" />
<line x1="225.7" y1="42.94" x2="226.8" y2="42.94" stroke="#222" stroke-width="0.7" />
<line x1="225.7" y1="41.66" x2="226.8" y2="41.66" stroke="#222" stroke-width="0.7" />
<line x1="225.7" y1="40.61" x2="226.8" y2="40.61" stroke="#222" stroke-width="0.7" />
<line x1="225.7" y1="39.73" x2="226.8" y2="39.73" stroke="#222" stroke-width="0.7" />
<line x1="225.7" y1="38.96" x2="226.8" y2="38.96" stroke="#222" stroke-width="0.7" />
<line x1="225.7" y1="38.28" x2="226.8" y2="38.28" stroke="#222" stroke-width="0.7" />
<line x1="224.6" y1="50.91" x2="226.8" y2="50.91" stroke="#222" stroke-width="1.2" />
<text x="223.8" y="53.31" font-size="6.6" text-anchor="end" font-weight="bold">10<tspan font-size="4.8" dy="-3.1" stroke="#000" stroke-width="0.3">&#8722;</tspan><tspan font-size="4.8">8</tspan></text>
<line x1="225.7" y1="60.17" x2="226.8" y2="60.17" stroke="#222" stroke-width="0.7" />
<line x1="225.7" y1="57.83" x2="226.8" y2="57.83" stroke="#222" stroke-width="0.7" />
<line x1="225.7" y1="56.18" x2="226.8" y2="56.18" stroke="#222" stroke-width="0.7" />
<line x1="225.7" y1="54.9" x2="226.8" y2="54.9" stroke="#222" stroke-width="0.7" />
<line x1="225.7" y1="53.85" x2="226.8" y2="53.85" stroke="#222" stroke-width="0.7" />
<line x1="225.7" y1="52.96" x2="226.8" y2="52.96" stroke="#222" stroke-width="0.7" />
<line x1="225.7" y1="52.2" x2="226.8" y2="52.2" stroke="#222" stroke-width="0.7" />
<line x1="225.7" y1="51.52" x2="226.8" y2="51.52" stroke="#222" stroke-width="0.7" />
<line x1="224.6" y1="64.15" x2="226.8" y2="64.15" stroke="#222" stroke-width="1.2" />
<text x="223.8" y="66.55" font-size="6.6" text-anchor="end" font-weight="bold">10<tspan font-size="4.8" dy="-3.1" stroke="#000" stroke-width="0.3">&#8722;</tspan><tspan font-size="4.8">9</tspan></text>
<line x1="225.7" y1="73.4" x2="226.8" y2="73.4" stroke="#222" stroke-width="0.7" />
<line x1="225.7" y1="71.07" x2="226.8" y2="71.07" stroke="#222" stroke-width="0.7" />
<line x1="225.7" y1="69.42" x2="226.8" y2="69.42" stroke="#222" stroke-width="0.7" />
<line x1="225.7" y1="68.13" x2="226.8" y2="68.13" stroke="#222" stroke-width="0.7" />
<line x1="225.7" y1="67.09" x2="226.8" y2="67.09" stroke="#222" stroke-width="0.7" />
<line x1="225.7" y1="66.2" x2="226.8" y2="66.2" stroke="#222" stroke-width="0.7" />
<line x1="225.7" y1="65.43" x2="226.8" y2="65.43" stroke="#222" stroke-width="0.7" />
<line x1="225.7" y1="64.76" x2="226.8" y2="64.76" stroke="#222" stroke-width="0.7" />
<line x1="224.6" y1="77.39" x2="226.8" y2="77.39" stroke="#222" stroke-width="1.2" />
<text x="223.8" y="79.79" font-size="6.6" text-anchor="end" font-weight="bold">10<tspan font-size="4.8" dy="-3.1" stroke="#000" stroke-width="0.3">&#8722;</tspan><tspan font-size="4.8">10</tspan></text>
<line x1="225.7" y1="86.64" x2="226.8" y2="86.64" stroke="#222" stroke-width="0.7" />
<line x1="225.7" y1="84.31" x2="226.8" y2="84.31" stroke="#222" stroke-width="0.7" />
<line x1="225.7" y1="82.66" x2="226.8" y2="82.66" stroke="#222" stroke-width="0.7" />
<line x1="225.7" y1="81.37" x2="226.8" y2="81.37" stroke="#222" stroke-width="0.7" />
<line x1="225.7" y1="80.32" x2="226.8" y2="80.32" stroke="#222" stroke-width="0.7" />
<line x1="225.7" y1="79.44" x2="226.8" y2="79.44" stroke="#222" stroke-width="0.7" />
<line x1="225.7" y1="78.67" x2="226.8" y2="78.67" stroke="#222" stroke-width="0.7" />
<line x1="225.7" y1="77.99" x2="226.8" y2="77.99" stroke="#222" stroke-width="0.7" />
<line x1="224.6" y1="90.62" x2="226.8" y2="90.62" stroke="#222" stroke-width="1.2" />
<text x="223.8" y="93.03" font-size="6.6" text-anchor="end" font-weight="bold">10<tspan font-size="4.8" dy="-3.1" stroke="#000" stroke-width="0.3">&#8722;</tspan><tspan font-size="4.8">11</tspan></text>
<line x1="225.7" y1="99.88" x2="226.8" y2="99.88" stroke="#222" stroke-width="0.7" />
<line x1="225.7" y1="97.55" x2="226.8" y2="97.55" stroke="#222" stroke-width="0.7" />
<line x1="225.7" y1="95.89" x2="226.8" y2="95.89" stroke="#222" stroke-width="0.7" />
<line x1="225.7" y1="94.61" x2="226.8" y2="94.61" stroke="#222" stroke-width="0.7" />
<line x1="225.7" y1="93.56" x2="226.8" y2="93.56" stroke="#222" stroke-width="0.7" />
<line x1="225.7" y1="92.68" x2="226.8" y2="92.68" stroke="#222" stroke-width="0.7" />
<line x1="225.7" y1="91.91" x2="226.8" y2="91.91" stroke="#222" stroke-width="0.7" />
<line x1="225.7" y1="91.23" x2="226.8" y2="91.23" stroke="#222" stroke-width="0.7" />
<line x1="224.6" y1="103.86" x2="226.8" y2="103.86" stroke="#222" stroke-width="1.2" />
<text x="223.8" y="106.26" font-size="6.6" text-anchor="end" font-weight="bold">10<tspan font-size="4.8" dy="-3.1" stroke="#000" stroke-width="0.3">&#8722;</tspan><tspan font-size="4.8">12</tspan></text>
<line x1="225.7" y1="113.12" x2="226.8" y2="113.12" stroke="#222" stroke-width="0.7" />
<line x1="225.7" y1="110.78" x2="226.8" y2="110.78" stroke="#222" stroke-width="0.7" />
<line x1="225.7" y1="109.13" x2="226.8" y2="109.13" stroke="#222" stroke-width="0.7" />
<line x1="225.7" y1="107.85" x2="226.8" y2="107.85" stroke="#222" stroke-width="0.7" />
<line x1="225.7" y1="106.8" x2="226.8" y2="106.8" stroke="#222" stroke-width="0.7" />
<line x1="225.7" y1="105.91" x2="226.8" y2="105.91" stroke="#222" stroke-width="0.7" />
<line x1="225.7" y1="105.15" x2="226.8" y2="105.15" stroke="#222" stroke-width="0.7" />
<line x1="225.7" y1="104.47" x2="226.8" y2="104.47" stroke="#222" stroke-width="0.7" />
<line x1="224.6" y1="117.1" x2="226.8" y2="117.1" stroke="#222" stroke-width="1.2" />
<text x="223.8" y="119.5" font-size="6.6" text-anchor="end" font-weight="bold">10<tspan font-size="4.8" dy="-3.1" stroke="#000" stroke-width="0.3">&#8722;</tspan><tspan font-size="4.8">13</tspan></text>
<line x1="226.8" y1="117.1" x2="226.8" y2="119.3" stroke="#222" stroke-width="1.2" />
<text x="227.1" y="126" font-size="7.5" text-anchor="middle" font-weight="bold" ><tspan font-size="5.6" dy="-0.7" stroke="#000" stroke-width="0.35">&#8722;</tspan><tspan dy="0.7" dx="0.4">0.8</tspan></text>
<line x1="236.19" y1="117.1" x2="236.19" y2="118.3" stroke="#222" stroke-width="1" />
<line x1="245.59" y1="117.1" x2="245.59" y2="119.3" stroke="#222" stroke-width="1.2" />
<text x="245.89" y="126" font-size="7.5" text-anchor="middle" font-weight="bold" ><tspan font-size="5.6" dy="-0.7" stroke="#000" stroke-width="0.35">&#8722;</tspan><tspan dy="0.7" dx="0.4">0.6</tspan></text>
<line x1="254.98" y1="117.1" x2="254.98" y2="118.3" stroke="#222" stroke-width="1" />
<line x1="264.37" y1="117.1" x2="264.37" y2="119.3" stroke="#222" stroke-width="1.2" />
<text x="264.67" y="126" font-size="7.5" text-anchor="middle" font-weight="bold" ><tspan font-size="5.6" dy="-0.7" stroke="#000" stroke-width="0.35">&#8722;</tspan><tspan dy="0.7" dx="0.4">0.4</tspan></text>
<line x1="273.76" y1="117.1" x2="273.76" y2="118.3" stroke="#222" stroke-width="1" />
<line x1="283.16" y1="117.1" x2="283.16" y2="119.3" stroke="#222" stroke-width="1.2" />
<text x="283.46" y="126" font-size="7.5" text-anchor="middle" font-weight="bold" ><tspan font-size="5.6" dy="-0.7" stroke="#000" stroke-width="0.35">&#8722;</tspan><tspan dy="0.7" dx="0.4">0.2</tspan></text>
<line x1="292.55" y1="117.1" x2="292.55" y2="118.3" stroke="#222" stroke-width="1" />
<line x1="301.94" y1="117.1" x2="301.94" y2="119.3" stroke="#222" stroke-width="1.2" />
<text x="302.24" y="126" font-size="7.5" text-anchor="middle" font-weight="bold" >0.0</text>
<line x1="311.34" y1="117.1" x2="311.34" y2="118.3" stroke="#222" stroke-width="1" />
<line x1="320.73" y1="117.1" x2="320.73" y2="119.3" stroke="#222" stroke-width="1.2" />
<text x="321.03" y="126" font-size="7.5" text-anchor="middle" font-weight="bold" >0.2</text>
<line x1="330.12" y1="117.1" x2="330.12" y2="118.3" stroke="#222" stroke-width="1" />
<line x1="339.51" y1="117.1" x2="339.51" y2="119.3" stroke="#222" stroke-width="1.2" />
<text x="339.81" y="126" font-size="7.5" text-anchor="middle" font-weight="bold" >0.4</text>
<line x1="348.91" y1="117.1" x2="348.91" y2="118.3" stroke="#222" stroke-width="1" />
<line x1="358.3" y1="117.1" x2="358.3" y2="119.3" stroke="#222" stroke-width="1.2" />
<text x="358.6" y="126" font-size="7.5" text-anchor="middle" font-weight="bold" >0.6</text>
<line x1="226.4" y1="11.5" x2="359.1" y2="11.5" stroke="#111" stroke-width="1.0" />
<line x1="226.4" y1="116.9" x2="359.1" y2="116.9" stroke="#111" stroke-width="1.5" />
<line x1="227.1" y1="11" x2="227.1" y2="117.6" stroke="#111" stroke-width="1.5" />
<line x1="358.6" y1="11" x2="358.6" y2="117.6" stroke="#111" stroke-width="1.0" />
<text x="292.75" y="137.1" font-size="8.5" text-anchor="middle" font-weight="bold">V<tspan font-size="5.8" dy="1.8" dx="0.2">g</tspan><tspan dy="-1.8" dx="0.7"> (V)</tspan></text>
<text transform="translate(203.5,64.3) rotate(-90)" font-size="9.0" text-anchor="middle" font-weight="bold">I<tspan font-size="5.8" dy="1.8">d</tspan><tspan dy="-1.8"> (A)</tspan></text>
<text x="186.5" y="14" font-size="9.2" text-anchor="start" font-weight="bold" >(b)</text>
<text x="231" y="111.6" font-size="7" font-weight="bold">Na<tspan font-size="4.5" dy="-2.8">+</tspan></text>
<line x1="333.1" y1="14.3" x2="343.1" y2="14.3" stroke="#7a7a7a" stroke-width="1.4" stroke-opacity="0.9"/>
<text x="344.2" y="15.9" font-size="4.6" font-weight="bold" textLength="12.0" lengthAdjust="spacingAndGlyphs">Buffer</text>
<line x1="333.1" y1="19.28" x2="343.1" y2="19.28" stroke="#f06464" stroke-width="1.4" stroke-opacity="0.9"/>
<text x="344.2" y="20.88" font-size="4.6" font-weight="bold" textLength="9.9" lengthAdjust="spacingAndGlyphs">10nM</text>
<line x1="333.1" y1="24.26" x2="343.1" y2="24.26" stroke="#3d8ee6" stroke-width="1.4" stroke-opacity="0.9"/>
<text x="344.2" y="25.86" font-size="4.6" font-weight="bold" textLength="12.5" lengthAdjust="spacingAndGlyphs">100nM</text>
<line x1="333.1" y1="29.24" x2="343.1" y2="29.24" stroke="#2bb07a" stroke-width="1.4" stroke-opacity="0.9"/>
<text x="344.2" y="30.84" font-size="4.6" font-weight="bold" textLength="8.9" lengthAdjust="spacingAndGlyphs">1uM</text>
<line x1="333.1" y1="34.22" x2="343.1" y2="34.22" stroke="#c88ae2" stroke-width="1.4" stroke-opacity="0.9"/>
<text x="344.2" y="35.82" font-size="4.6" font-weight="bold" textLength="10.9" lengthAdjust="spacingAndGlyphs">10uM</text>
<line x1="333.1" y1="39.2" x2="343.1" y2="39.2" stroke="#f0a232" stroke-width="1.4" stroke-opacity="0.9"/>
<text x="344.2" y="40.8" font-size="4.6" font-weight="bold" textLength="12.7" lengthAdjust="spacingAndGlyphs">100uM</text>
<line x1="333.1" y1="44.18" x2="343.1" y2="44.18" stroke="#22d6dc" stroke-width="1.4" stroke-opacity="0.9"/>
<text x="344.2" y="45.78" font-size="4.6" font-weight="bold" textLength="9.9" lengthAdjust="spacingAndGlyphs">1mM</text>
<line x1="333.1" y1="49.16" x2="343.1" y2="49.16" stroke="#a66a70" stroke-width="1.4" stroke-opacity="0.9"/>
<text x="344.2" y="50.76" font-size="4.6" font-weight="bold" textLength="11.1" lengthAdjust="spacingAndGlyphs">10mM</text>
<line x1="333.1" y1="54.14" x2="343.1" y2="54.14" stroke="#a8a82c" stroke-width="1.4" stroke-opacity="0.9"/>
<text x="344.2" y="55.74" font-size="4.6" font-weight="bold" textLength="13.4" lengthAdjust="spacingAndGlyphs">100mM</text>
<line x1="474.6" y1="50.9" x2="508.7" y2="50.9" stroke="#cfcfcf" stroke-width="1.4" />
<path d="M471.6,50.9 L477.1,49.8 L477.1,52 Z" fill="#9a9a9a"/>
<line x1="473.6" y1="50.9" x2="477.6" y2="50.9" stroke="#a0a0a0" stroke-width="1.5" />
<g clip-path="url(#clip2)">
<path d="M407.8,18.5 L408.3,18.5 L408.8,18.6 L409.3,18.6 L409.8,18.6 L410.3,18.6 L410.8,18.7 L411.3,18.7 L411.8,18.7 L412.3,18.8 L412.8,18.8 L413.3,18.8 L413.8,18.9 L414.3,18.9 L414.8,18.9 L415.3,18.9 L415.8,19.0 L416.3,19.0 L416.8,19.0 L417.3,19.1 L417.8,19.1 L418.3,19.1 L418.8,19.1 L419.3,19.2 L419.8,19.2 L420.3,19.2 L420.8,19.2 L421.3,19.3 L421.8,19.3 L422.3,19.3 L422.8,19.3 L423.3,19.4 L423.8,19.4 L424.3,19.4 L424.8,19.5 L425.3,19.5 L425.8,19.5 L426.3,19.5 L426.8,19.6 L427.3,19.6 L427.8,19.6 L428.3,19.6 L428.8,19.7 L429.3,19.7 L429.8,19.7 L430.3,19.7 L430.8,19.8 L431.3,19.8 L431.8,19.8 L432.3,19.9 L432.8,19.9 L433.3,19.9 L433.8,19.9 L434.3,20.0 L434.8,20.0 L435.3,20.0 L435.8,20.0 L436.3,20.1 L436.8,20.1 L437.3,20.1 L437.8,20.2 L438.3,20.2 L438.8,20.2 L439.3,20.3 L439.8,20.3 L440.3,20.3 L440.8,20.4 L441.3,20.4 L441.8,20.4 L442.3,20.5 L442.8,20.5 L443.3,20.6 L443.8,20.6 L444.3,20.6 L444.8,20.7 L445.3,20.7 L445.8,20.8 L446.3,20.8 L446.8,20.9 L447.3,20.9 L447.8,21.0 L448.3,21.0 L448.8,21.1 L449.3,21.1 L449.8,21.2 L450.3,21.2 L450.8,21.3 L451.3,21.4 L451.8,21.4 L452.3,21.5 L452.8,21.6 L453.3,21.6 L453.8,21.7 L454.3,21.8 L454.8,21.9 L455.3,21.9 L455.8,22.0 L456.3,22.1 L456.8,22.2 L457.3,22.3 L457.8,22.4 L458.3,22.5 L458.8,22.6 L459.3,22.7 L459.8,22.8 L460.3,22.9 L460.8,23.1 L461.3,23.2 L461.8,23.3 L462.3,23.4 L462.8,23.6 L463.3,23.7 L463.8,23.8 L464.3,24.0 L464.8,24.1 L465.3,24.3 L465.8,24.5 L466.3,24.6 L466.8,24.8 L467.3,25.0 L467.8,25.2 L468.3,25.4 L468.8,25.6 L469.3,25.8 L469.8,26.0 L470.3,26.2 L470.8,26.4 L471.3,26.6 L471.8,26.9 L472.3,27.1 L472.8,27.4 L473.3,27.6 L473.8,27.9 L474.3,28.1 L474.8,28.4 L475.3,28.7 L475.8,29.0 L476.3,29.3 L476.8,29.6 L477.3,29.9 L477.8,30.3 L478.3,30.6 L478.8,30.9 L479.3,31.3 L479.8,31.7 L480.3,32.0 L480.8,32.4 L481.3,32.8 L481.8,33.2 L482.3,33.6 L482.8,34.1 L483.3,34.5 L483.8,34.9 L484.3,35.4 L484.8,35.9 L485.3,36.3 L485.8,36.8 L486.3,37.3 L486.8,37.9 L487.3,38.4 L487.8,38.9 L488.3,39.5 L488.8,40.0 L489.3,40.6 L489.8,41.2 L490.3,41.8 L490.8,42.4 L491.3,43.0 L491.8,43.7 L492.3,44.3 L492.8,45.0 L493.3,45.7 L493.8,46.4 L494.3,47.1 L494.8,47.8 L495.3,48.5 L495.8,49.3 L496.3,50.1 L496.8,50.8 L497.3,51.6 L497.8,52.4 L498.3,53.3 L498.8,54.1 L499.3,55.0 L499.8,55.9 L500.3,56.7 L500.8,57.6 L501.3,58.6 L501.8,59.5 L502.3,60.5 L502.8,61.4 L503.3,62.4 L503.8,63.4 L504.3,64.4 L504.8,65.5 L505.3,66.5 L505.8,67.6 L506.3,68.7 L506.8,69.8 L507.3,70.9 L507.8,72.1 L508.3,73.2 L508.8,74.4 L509.3,75.6 L509.8,76.8 L510.3,78.1 L510.8,79.3 L511.3,80.6 L511.8,81.9 L512.3,83.2 L512.8,84.5 L513.3,85.8 L513.8,87.2 L514.3,88.5 L514.8,89.9 L515.3,91.1 L515.8,92.2 L516.3,93.1 L516.8,93.8 L517.3,94.6 L517.8,95.4 L518.3,96.2 L518.8,97.0 L519.3,97.7 L519.8,98.2 L520.3,98.4 L520.8,98.4 L521.3,98.0 L521.8,97.5 L522.3,96.9 L522.8,96.3 L523.3,95.8 L523.8,95.6 L524.3,95.6 L524.8,95.8 L525.3,96.2 L525.8,96.6 L526.3,96.9 L526.8,97.1 L527.3,96.9 L527.8,96.4 L528.3,95.6 L528.8,94.6 L529.3,93.5 L529.8,92.3 L530.3,91.4 L530.8,90.7 L531.3,90.3 L531.8,90.4 L532.3,90.8 L532.8,91.4 L533.3,92.2 L533.8,92.9 L534.3,93.6 L534.8,94.1 L535.3,94.3 L535.8,94.4 L536.3,94.2 L536.8,94.0 L537.3,93.8 L537.8,93.6 L538.3,93.6 L538.8,93.6 L539.0,93.7" fill="none" stroke="#7a7a7a" stroke-width="1.25" stroke-linejoin="round" stroke-linecap="round" />
<path d="M407.8,18.7 L408.3,18.7 L408.8,18.7 L409.3,18.8 L409.8,18.8 L410.3,18.8 L410.8,18.9 L411.3,18.9 L411.8,18.9 L412.3,19.0 L412.8,19.0 L413.3,19.0 L413.8,19.0 L414.3,19.1 L414.8,19.1 L415.3,19.1 L415.8,19.2 L416.3,19.2 L416.8,19.2 L417.3,19.2 L417.8,19.3 L418.3,19.3 L418.8,19.3 L419.3,19.4 L419.8,19.4 L420.3,19.4 L420.8,19.4 L421.3,19.5 L421.8,19.5 L422.3,19.5 L422.8,19.5 L423.3,19.6 L423.8,19.6 L424.3,19.6 L424.8,19.6 L425.3,19.7 L425.8,19.7 L426.3,19.7 L426.8,19.7 L427.3,19.8 L427.8,19.8 L428.3,19.8 L428.8,19.9 L429.3,19.9 L429.8,19.9 L430.3,19.9 L430.8,20.0 L431.3,20.0 L431.8,20.0 L432.3,20.0 L432.8,20.1 L433.3,20.1 L433.8,20.1 L434.3,20.2 L434.8,20.2 L435.3,20.2 L435.8,20.2 L436.3,20.3 L436.8,20.3 L437.3,20.3 L437.8,20.4 L438.3,20.4 L438.8,20.4 L439.3,20.5 L439.8,20.5 L440.3,20.5 L440.8,20.6 L441.3,20.6 L441.8,20.6 L442.3,20.7 L442.8,20.7 L443.3,20.7 L443.8,20.8 L444.3,20.8 L444.8,20.9 L445.3,20.9 L445.8,21.0 L446.3,21.0 L446.8,21.0 L447.3,21.1 L447.8,21.1 L448.3,21.2 L448.8,21.2 L449.3,21.3 L449.8,21.4 L450.3,21.4 L450.8,21.5 L451.3,21.5 L451.8,21.6 L452.3,21.7 L452.8,21.7 L453.3,21.8 L453.8,21.9 L454.3,22.0 L454.8,22.0 L455.3,22.1 L455.8,22.2 L456.3,22.3 L456.8,22.4 L457.3,22.5 L457.8,22.6 L458.3,22.7 L458.8,22.8 L459.3,22.9 L459.8,23.0 L460.3,23.1 L460.8,23.2 L461.3,23.3 L461.8,23.4 L462.3,23.6 L462.8,23.7 L463.3,23.8 L463.8,24.0 L464.3,24.1 L464.8,24.3 L465.3,24.4 L465.8,24.6 L466.3,24.8 L466.8,24.9 L467.3,25.1 L467.8,25.3 L468.3,25.5 L468.8,25.7 L469.3,25.9 L469.8,26.1 L470.3,26.3 L470.8,26.5 L471.3,26.7 L471.8,27.0 L472.3,27.2 L472.8,27.5 L473.3,27.7 L473.8,28.0 L474.3,28.2 L474.8,28.5 L475.3,28.8 L475.8,29.1 L476.3,29.4 L476.8,29.7 L477.3,30.0 L477.8,30.3 L478.3,30.7 L478.8,31.0 L479.3,31.4 L479.8,31.7 L480.3,32.1 L480.8,32.5 L481.3,32.9 L481.8,33.3 L482.3,33.7 L482.8,34.1 L483.3,34.5 L483.8,35.0 L484.3,35.4 L484.8,35.9 L485.3,36.4 L485.8,36.8 L486.3,37.3 L486.8,37.8 L487.3,38.4 L487.8,38.9 L488.3,39.4 L488.8,40.0 L489.3,40.6 L489.8,41.2 L490.3,41.7 L490.8,42.4 L491.3,43.0 L491.8,43.6 L492.3,44.3 L492.8,44.9 L493.3,45.6 L493.8,46.3 L494.3,47.0 L494.8,47.7 L495.3,48.4 L495.8,49.2 L496.3,49.9 L496.8,50.7 L497.3,51.5 L497.8,52.3 L498.3,53.1 L498.8,54.0 L499.3,54.8 L499.8,55.7 L500.3,56.6 L500.8,57.5 L501.3,58.4 L501.8,59.3 L502.3,60.3 L502.8,61.2 L503.3,62.2 L503.8,63.2 L504.3,64.2 L504.8,65.3 L505.3,66.3 L505.8,67.4 L506.3,68.5 L506.8,69.6 L507.3,70.7 L507.8,71.8 L508.3,73.0 L508.8,74.2 L509.3,75.3 L509.8,76.5 L510.3,77.8 L510.8,79.0 L511.3,80.3 L511.8,81.6 L512.3,82.9 L512.8,84.2 L513.3,85.5 L513.8,86.9 L514.3,88.2 L514.8,89.6 L515.3,91.0 L515.8,92.5 L516.3,93.9 L516.8,95.1 L517.3,95.8 L517.8,95.6 L518.3,95.1 L518.8,95.2 L519.3,95.9 L519.8,98.3 L520.3,100.8 L520.8,103.3 L521.3,105.8 L521.8,105.3 L522.3,102.8 L522.8,100.3 L523.3,101.5 L523.8,104.0 L524.3,106.5 L524.8,109.0 L525.3,111.5 L525.8,114.0 L526.3,111.5 L526.8,109.0 L527.3,106.5 L527.8,104.0 L528.3,101.5 L528.8,99.0 L529.3,96.5 L529.8,94.5 L530.3,97.0 L530.8,99.5 L531.3,102.0 L531.8,104.5 L532.3,107.0 L532.8,109.5 L533.3,112.0 L533.8,113.5 L534.3,111.0 L534.8,108.5 L535.3,106.0 L535.8,103.5 L536.3,101.0 L536.8,98.5 L537.3,96.6 L537.8,97.0 L538.3,96.9 L538.8,96.2 L539.0,95.8" fill="none" stroke="#f06464" stroke-width="1.25" stroke-linejoin="round" stroke-linecap="round" />
<path d="M407.8,18.5 L408.3,18.5 L408.8,18.6 L409.3,18.6 L409.8,18.6 L410.3,18.7 L410.8,18.7 L411.3,18.7 L411.8,18.8 L412.3,18.8 L412.8,18.8 L413.3,18.8 L413.8,18.9 L414.3,18.9 L414.8,18.9 L415.3,19.0 L415.8,19.0 L416.3,19.0 L416.8,19.0 L417.3,19.1 L417.8,19.1 L418.3,19.1 L418.8,19.2 L419.3,19.2 L419.8,19.2 L420.3,19.2 L420.8,19.3 L421.3,19.3 L421.8,19.3 L422.3,19.3 L422.8,19.4 L423.3,19.4 L423.8,19.4 L424.3,19.4 L424.8,19.5 L425.3,19.5 L425.8,19.5 L426.3,19.5 L426.8,19.6 L427.3,19.6 L427.8,19.6 L428.3,19.7 L428.8,19.7 L429.3,19.7 L429.8,19.7 L430.3,19.8 L430.8,19.8 L431.3,19.8 L431.8,19.8 L432.3,19.9 L432.8,19.9 L433.3,19.9 L433.8,20.0 L434.3,20.0 L434.8,20.0 L435.3,20.0 L435.8,20.1 L436.3,20.1 L436.8,20.1 L437.3,20.2 L437.8,20.2 L438.3,20.2 L438.8,20.3 L439.3,20.3 L439.8,20.3 L440.3,20.4 L440.8,20.4 L441.3,20.4 L441.8,20.5 L442.3,20.5 L442.8,20.5 L443.3,20.6 L443.8,20.6 L444.3,20.7 L444.8,20.7 L445.3,20.8 L445.8,20.8 L446.3,20.8 L446.8,20.9 L447.3,20.9 L447.8,21.0 L448.3,21.0 L448.8,21.1 L449.3,21.2 L449.8,21.2 L450.3,21.3 L450.8,21.3 L451.3,21.4 L451.8,21.5 L452.3,21.5 L452.8,21.6 L453.3,21.7 L453.8,21.8 L454.3,21.8 L454.8,21.9 L455.3,22.0 L455.8,22.1 L456.3,22.2 L456.8,22.3 L457.3,22.4 L457.8,22.5 L458.3,22.6 L458.8,22.7 L459.3,22.8 L459.8,22.9 L460.3,23.0 L460.8,23.1 L461.3,23.2 L461.8,23.4 L462.3,23.5 L462.8,23.6 L463.3,23.8 L463.8,23.9 L464.3,24.1 L464.8,24.2 L465.3,24.4 L465.8,24.6 L466.3,24.7 L466.8,24.9 L467.3,25.1 L467.8,25.3 L468.3,25.5 L468.8,25.7 L469.3,25.9 L469.8,26.1 L470.3,26.3 L470.8,26.5 L471.3,26.8 L471.8,27.0 L472.3,27.3 L472.8,27.5 L473.3,27.8 L473.8,28.0 L474.3,28.3 L474.8,28.6 L475.3,28.9 L475.8,29.2 L476.3,29.5 L476.8,29.8 L477.3,30.1 L477.8,30.5 L478.3,30.8 L478.8,31.2 L479.3,31.5 L479.8,31.9 L480.3,32.3 L480.8,32.7 L481.3,33.1 L481.8,33.5 L482.3,33.9 L482.8,34.3 L483.3,34.8 L483.8,35.2 L484.3,35.7 L484.8,36.2 L485.3,36.6 L485.8,37.1 L486.3,37.6 L486.8,38.2 L487.3,38.7 L487.8,39.2 L488.3,39.8 L488.8,40.4 L489.3,41.0 L489.8,41.5 L490.3,42.2 L490.8,42.8 L491.3,43.4 L491.8,44.1 L492.3,44.7 L492.8,45.4 L493.3,46.1 L493.8,46.8 L494.3,47.5 L494.8,48.2 L495.3,49.0 L495.8,49.7 L496.3,50.5 L496.8,51.3 L497.3,52.1 L497.8,52.9 L498.3,53.8 L498.8,54.6 L499.3,55.5 L499.8,56.4 L500.3,57.3 L500.8,58.2 L501.3,59.1 L501.8,60.1 L502.3,61.0 L502.8,62.0 L503.3,63.0 L503.8,64.0 L504.3,65.1 L504.8,66.1 L505.3,67.2 L505.8,68.3 L506.3,69.4 L506.8,70.5 L507.3,71.6 L507.8,72.8 L508.3,74.0 L508.8,75.1 L509.3,76.3 L509.8,77.6 L510.3,78.8 L510.8,80.1 L511.3,81.4 L511.8,82.7 L512.3,84.0 L512.8,85.3 L513.3,86.7 L513.8,88.0 L514.3,89.4 L514.8,90.7 L515.3,92.1 L515.8,93.2 L516.3,94.2 L516.8,95.1 L517.3,95.8 L517.8,96.6 L518.3,97.2 L518.8,97.5 L519.3,97.5 L519.8,97.2 L520.3,96.6 L520.8,95.9 L521.3,95.4 L521.8,95.2 L522.3,95.5 L522.8,96.2 L523.3,97.0 L523.8,97.6 L524.3,97.9 L524.8,97.7 L525.3,96.8 L525.8,95.5 L526.3,94.1 L526.8,92.8 L527.3,92.0 L527.8,91.7 L528.3,92.0 L528.8,94.0 L529.3,96.5 L529.8,99.0 L530.3,98.5 L530.8,96.0 L531.3,95.3 L531.8,94.9 L532.3,94.5 L532.8,94.2 L533.3,93.9 L533.8,93.7 L534.3,95.5 L534.8,98.0 L535.3,100.5 L535.8,103.0 L536.3,102.5 L536.8,100.0 L537.3,97.5 L537.8,95.0 L538.3,92.7 L538.8,94.0 L539.0,94.6" fill="none" stroke="#3d8ee6" stroke-width="1.25" stroke-linejoin="round" stroke-linecap="round" />
<path d="M407.8,18.1 L408.3,18.1 L408.8,18.2 L409.3,18.2 L409.8,18.2 L410.3,18.3 L410.8,18.3 L411.3,18.3 L411.8,18.3 L412.3,18.4 L412.8,18.4 L413.3,18.4 L413.8,18.5 L414.3,18.5 L414.8,18.5 L415.3,18.5 L415.8,18.6 L416.3,18.6 L416.8,18.6 L417.3,18.7 L417.8,18.7 L418.3,18.7 L418.8,18.7 L419.3,18.8 L419.8,18.8 L420.3,18.8 L420.8,18.8 L421.3,18.9 L421.8,18.9 L422.3,18.9 L422.8,18.9 L423.3,19.0 L423.8,19.0 L424.3,19.0 L424.8,19.1 L425.3,19.1 L425.8,19.1 L426.3,19.1 L426.8,19.2 L427.3,19.2 L427.8,19.2 L428.3,19.2 L428.8,19.3 L429.3,19.3 L429.8,19.3 L430.3,19.3 L430.8,19.4 L431.3,19.4 L431.8,19.4 L432.3,19.5 L432.8,19.5 L433.3,19.5 L433.8,19.5 L434.3,19.6 L434.8,19.6 L435.3,19.6 L435.8,19.7 L436.3,19.7 L436.8,19.7 L437.3,19.8 L437.8,19.8 L438.3,19.8 L438.8,19.9 L439.3,19.9 L439.8,19.9 L440.3,20.0 L440.8,20.0 L441.3,20.0 L441.8,20.1 L442.3,20.1 L442.8,20.2 L443.3,20.2 L443.8,20.3 L444.3,20.3 L444.8,20.4 L445.3,20.4 L445.8,20.5 L446.3,20.5 L446.8,20.6 L447.3,20.6 L447.8,20.7 L448.3,20.7 L448.8,20.8 L449.3,20.9 L449.8,20.9 L450.3,21.0 L450.8,21.1 L451.3,21.1 L451.8,21.2 L452.3,21.3 L452.8,21.4 L453.3,21.4 L453.8,21.5 L454.3,21.6 L454.8,21.7 L455.3,21.8 L455.8,21.9 L456.3,22.0 L456.8,22.1 L457.3,22.2 L457.8,22.3 L458.3,22.4 L458.8,22.5 L459.3,22.6 L459.8,22.8 L460.3,22.9 L460.8,23.0 L461.3,23.2 L461.8,23.3 L462.3,23.5 L462.8,23.6 L463.3,23.8 L463.8,23.9 L464.3,24.1 L464.8,24.3 L465.3,24.4 L465.8,24.6 L466.3,24.8 L466.8,25.0 L467.3,25.2 L467.8,25.4 L468.3,25.6 L468.8,25.9 L469.3,26.1 L469.8,26.3 L470.3,26.6 L470.8,26.8 L471.3,27.1 L471.8,27.3 L472.3,27.6 L472.8,27.9 L473.3,28.1 L473.8,28.4 L474.3,28.7 L474.8,29.1 L475.3,29.4 L475.8,29.7 L476.3,30.0 L476.8,30.4 L477.3,30.7 L477.8,31.1 L478.3,31.5 L478.8,31.8 L479.3,32.2 L479.8,32.6 L480.3,33.1 L480.8,33.5 L481.3,33.9 L481.8,34.4 L482.3,34.8 L482.8,35.3 L483.3,35.7 L483.8,36.2 L484.3,36.7 L484.8,37.2 L485.3,37.8 L485.8,38.3 L486.3,38.9 L486.8,39.4 L487.3,40.0 L487.8,40.6 L488.3,41.2 L488.8,41.8 L489.3,42.4 L489.8,43.0 L490.3,43.7 L490.8,44.4 L491.3,45.0 L491.8,45.7 L492.3,46.4 L492.8,47.2 L493.3,47.9 L493.8,48.6 L494.3,49.4 L494.8,50.2 L495.3,51.0 L495.8,51.8 L496.3,52.6 L496.8,53.4 L497.3,54.3 L497.8,55.2 L498.3,56.1 L498.8,57.0 L499.3,57.9 L499.8,58.8 L500.3,59.8 L500.8,60.7 L501.3,61.7 L501.8,62.7 L502.3,63.7 L502.8,64.8 L503.3,65.8 L503.8,66.9 L504.3,68.0 L504.8,69.1 L505.3,70.2 L505.8,71.4 L506.3,72.5 L506.8,73.7 L507.3,74.9 L507.8,76.1 L508.3,77.3 L508.8,78.6 L509.3,79.8 L509.8,81.1 L510.3,82.4 L510.8,83.7 L511.3,85.1 L511.8,86.4 L512.3,87.8 L512.8,89.2 L513.3,90.6 L513.8,91.9 L514.3,93.1 L514.8,94.1 L515.3,95.1 L515.8,96.1 L516.3,97.1 L516.8,97.9 L517.3,98.2 L517.8,98.2 L518.3,97.8 L518.8,97.2 L519.3,96.7 L519.8,96.5 L520.3,96.4 L520.8,96.5 L521.3,96.5 L521.8,99.0 L522.3,98.5 L522.8,96.0 L523.3,94.9 L523.8,94.5 L524.3,94.3 L524.8,94.5 L525.3,94.8 L525.8,95.0 L526.3,95.1 L526.8,94.7 L527.3,94.1 L527.8,93.4 L528.3,92.8 L528.8,92.8 L529.3,93.4 L529.8,94.6 L530.3,96.1 L530.8,97.4 L531.3,98.2 L531.8,98.0 L532.3,96.8 L532.8,95.0 L533.3,93.0 L533.8,91.3 L534.3,90.3 L534.8,90.1 L535.3,90.8 L535.8,91.8 L536.3,92.8 L536.8,93.2 L537.3,93.1 L537.8,92.4 L538.3,91.4 L538.8,90.7 L539.0,90.6" fill="none" stroke="#2bb07a" stroke-width="1.25" stroke-linejoin="round" stroke-linecap="round" />
<path d="M407.8,18.5 L408.3,18.5 L408.8,18.6 L409.3,18.6 L409.8,18.6 L410.3,18.6 L410.8,18.7 L411.3,18.7 L411.8,18.7 L412.3,18.8 L412.8,18.8 L413.3,18.8 L413.8,18.9 L414.3,18.9 L414.8,18.9 L415.3,18.9 L415.8,19.0 L416.3,19.0 L416.8,19.0 L417.3,19.1 L417.8,19.1 L418.3,19.1 L418.8,19.1 L419.3,19.2 L419.8,19.2 L420.3,19.2 L420.8,19.2 L421.3,19.3 L421.8,19.3 L422.3,19.3 L422.8,19.3 L423.3,19.4 L423.8,19.4 L424.3,19.4 L424.8,19.5 L425.3,19.5 L425.8,19.5 L426.3,19.5 L426.8,19.6 L427.3,19.6 L427.8,19.6 L428.3,19.6 L428.8,19.7 L429.3,19.7 L429.8,19.7 L430.3,19.7 L430.8,19.8 L431.3,19.8 L431.8,19.8 L432.3,19.9 L432.8,19.9 L433.3,19.9 L433.8,19.9 L434.3,20.0 L434.8,20.0 L435.3,20.0 L435.8,20.0 L436.3,20.1 L436.8,20.1 L437.3,20.1 L437.8,20.2 L438.3,20.2 L438.8,20.2 L439.3,20.3 L439.8,20.3 L440.3,20.3 L440.8,20.4 L441.3,20.4 L441.8,20.4 L442.3,20.5 L442.8,20.5 L443.3,20.6 L443.8,20.6 L444.3,20.6 L444.8,20.7 L445.3,20.7 L445.8,20.8 L446.3,20.8 L446.8,20.9 L447.3,20.9 L447.8,21.0 L448.3,21.0 L448.8,21.1 L449.3,21.1 L449.8,21.2 L450.3,21.2 L450.8,21.3 L451.3,21.4 L451.8,21.4 L452.3,21.5 L452.8,21.6 L453.3,21.6 L453.8,21.7 L454.3,21.8 L454.8,21.9 L455.3,21.9 L455.8,22.0 L456.3,22.1 L456.8,22.2 L457.3,22.3 L457.8,22.4 L458.3,22.5 L458.8,22.6 L459.3,22.7 L459.8,22.8 L460.3,22.9 L460.8,23.1 L461.3,23.2 L461.8,23.3 L462.3,23.4 L462.8,23.6 L463.3,23.7 L463.8,23.8 L464.3,24.0 L464.8,24.1 L465.3,24.3 L465.8,24.5 L466.3,24.6 L466.8,24.8 L467.3,25.0 L467.8,25.2 L468.3,25.4 L468.8,25.6 L469.3,25.8 L469.8,26.0 L470.3,26.2 L470.8,26.4 L471.3,26.6 L471.8,26.9 L472.3,27.1 L472.8,27.4 L473.3,27.6 L473.8,27.9 L474.3,28.1 L474.8,28.4 L475.3,28.7 L475.8,29.0 L476.3,29.3 L476.8,29.6 L477.3,29.9 L477.8,30.3 L478.3,30.6 L478.8,30.9 L479.3,31.3 L479.8,31.7 L480.3,32.0 L480.8,32.4 L481.3,32.8 L481.8,33.2 L482.3,33.6 L482.8,34.1 L483.3,34.5 L483.8,34.9 L484.3,35.4 L484.8,35.9 L485.3,36.3 L485.8,36.8 L486.3,37.3 L486.8,37.9 L487.3,38.4 L487.8,38.9 L488.3,39.5 L488.8,40.0 L489.3,40.6 L489.8,41.2 L490.3,41.8 L490.8,42.4 L491.3,43.0 L491.8,43.7 L492.3,44.3 L492.8,45.0 L493.3,45.7 L493.8,46.4 L494.3,47.1 L494.8,47.8 L495.3,48.5 L495.8,49.3 L496.3,50.1 L496.8,50.8 L497.3,51.6 L497.8,52.4 L498.3,53.3 L498.8,54.1 L499.3,55.0 L499.8,55.9 L500.3,56.7 L500.8,57.6 L501.3,58.6 L501.8,59.5 L502.3,60.5 L502.8,61.4 L503.3,62.4 L503.8,63.4 L504.3,64.4 L504.8,65.5 L505.3,66.5 L505.8,67.6 L506.3,68.7 L506.8,69.8 L507.3,70.9 L507.8,72.1 L508.3,73.2 L508.8,74.4 L509.3,75.6 L509.8,76.8 L510.3,78.1 L510.8,79.3 L511.3,80.6 L511.8,81.9 L512.3,83.2 L512.8,84.5 L513.3,85.8 L513.8,87.2 L514.3,88.6 L514.8,89.9 L515.3,91.3 L515.8,92.7 L516.3,93.9 L516.8,94.9 L517.3,95.7 L517.8,96.2 L518.3,96.4 L518.8,96.4 L519.3,96.1 L519.8,95.7 L520.3,95.2 L520.8,94.7 L521.3,94.3 L521.8,94.1 L522.3,94.1 L522.8,94.2 L523.3,94.5 L523.8,94.8 L524.3,95.1 L524.8,95.3 L525.3,95.5 L525.8,95.7 L526.3,95.9 L526.8,96.2 L527.3,96.5 L527.8,96.8 L528.3,96.8 L528.8,96.6 L529.3,95.9 L529.8,94.9 L530.3,93.7 L530.8,92.5 L531.3,91.6 L531.8,93.5 L532.3,96.0 L532.8,93.5 L533.3,93.1 L533.8,94.4 L534.3,95.5 L534.8,96.1 L535.3,96.1 L535.8,95.4 L536.3,94.3 L536.8,93.0 L537.3,91.9 L537.8,91.1 L538.3,90.9 L538.8,91.3 L539.0,91.6" fill="none" stroke="#c88ae2" stroke-width="1.25" stroke-linejoin="round" stroke-linecap="round" />
<path d="M407.8,18.9 L408.3,18.9 L408.8,18.9 L409.3,18.9 L409.8,19.0 L410.3,19.0 L410.8,19.0 L411.3,19.1 L411.8,19.1 L412.3,19.1 L412.8,19.2 L413.3,19.2 L413.8,19.2 L414.3,19.2 L414.8,19.3 L415.3,19.3 L415.8,19.3 L416.3,19.4 L416.8,19.4 L417.3,19.4 L417.8,19.4 L418.3,19.5 L418.8,19.5 L419.3,19.5 L419.8,19.6 L420.3,19.6 L420.8,19.6 L421.3,19.6 L421.8,19.7 L422.3,19.7 L422.8,19.7 L423.3,19.7 L423.8,19.8 L424.3,19.8 L424.8,19.8 L425.3,19.8 L425.8,19.9 L426.3,19.9 L426.8,19.9 L427.3,20.0 L427.8,20.0 L428.3,20.0 L428.8,20.0 L429.3,20.1 L429.8,20.1 L430.3,20.1 L430.8,20.1 L431.3,20.2 L431.8,20.2 L432.3,20.2 L432.8,20.2 L433.3,20.3 L433.8,20.3 L434.3,20.3 L434.8,20.4 L435.3,20.4 L435.8,20.4 L436.3,20.4 L436.8,20.5 L437.3,20.5 L437.8,20.5 L438.3,20.6 L438.8,20.6 L439.3,20.6 L439.8,20.7 L440.3,20.7 L440.8,20.7 L441.3,20.8 L441.8,20.8 L442.3,20.8 L442.8,20.9 L443.3,20.9 L443.8,20.9 L444.3,21.0 L444.8,21.0 L445.3,21.1 L445.8,21.1 L446.3,21.2 L446.8,21.2 L447.3,21.3 L447.8,21.3 L448.3,21.4 L448.8,21.4 L449.3,21.5 L449.8,21.5 L450.3,21.6 L450.8,21.6 L451.3,21.7 L451.8,21.8 L452.3,21.8 L452.8,21.9 L453.3,22.0 L453.8,22.0 L454.3,22.1 L454.8,22.2 L455.3,22.3 L455.8,22.3 L456.3,22.4 L456.8,22.5 L457.3,22.6 L457.8,22.7 L458.3,22.8 L458.8,22.9 L459.3,23.0 L459.8,23.1 L460.3,23.2 L460.8,23.3 L461.3,23.4 L461.8,23.5 L462.3,23.7 L462.8,23.8 L463.3,23.9 L463.8,24.1 L464.3,24.2 L464.8,24.4 L465.3,24.5 L465.8,24.7 L466.3,24.8 L466.8,25.0 L467.3,25.2 L467.8,25.3 L468.3,25.5 L468.8,25.7 L469.3,25.9 L469.8,26.1 L470.3,26.3 L470.8,26.5 L471.3,26.8 L471.8,27.0 L472.3,27.2 L472.8,27.5 L473.3,27.7 L473.8,28.0 L474.3,28.2 L474.8,28.5 L475.3,28.8 L475.8,29.0 L476.3,29.3 L476.8,29.6 L477.3,30.0 L477.8,30.3 L478.3,30.6 L478.8,30.9 L479.3,31.3 L479.8,31.6 L480.3,32.0 L480.8,32.4 L481.3,32.7 L481.8,33.1 L482.3,33.5 L482.8,34.0 L483.3,34.4 L483.8,34.8 L484.3,35.3 L484.8,35.7 L485.3,36.2 L485.8,36.6 L486.3,37.1 L486.8,37.6 L487.3,38.1 L487.8,38.7 L488.3,39.2 L488.8,39.8 L489.3,40.3 L489.8,40.9 L490.3,41.5 L490.8,42.1 L491.3,42.7 L491.8,43.3 L492.3,43.9 L492.8,44.6 L493.3,45.3 L493.8,45.9 L494.3,46.6 L494.8,47.3 L495.3,48.1 L495.8,48.8 L496.3,49.5 L496.8,50.3 L497.3,51.1 L497.8,51.9 L498.3,52.7 L498.8,53.5 L499.3,54.3 L499.8,55.2 L500.3,56.1 L500.8,57.0 L501.3,57.9 L501.8,58.8 L502.3,59.7 L502.8,60.7 L503.3,61.6 L503.8,62.6 L504.3,63.6 L504.8,64.6 L505.3,65.7 L505.8,66.7 L506.3,67.8 L506.8,68.9 L507.3,70.0 L507.8,71.1 L508.3,72.3 L508.8,73.4 L509.3,74.6 L509.8,75.8 L510.3,77.0 L510.8,78.2 L511.3,79.5 L511.8,80.7 L512.3,82.0 L512.8,83.3 L513.3,84.6 L513.8,86.0 L514.3,87.3 L514.8,88.7 L515.3,90.0 L515.8,91.2 L516.3,92.3 L516.8,92.9 L517.3,92.9 L517.8,92.7 L518.3,92.4 L518.8,92.3 L519.3,92.4 L519.8,92.7 L520.3,93.0 L520.8,93.4 L521.3,93.7 L521.8,93.9 L522.3,93.8 L522.8,93.5 L523.3,93.0 L523.8,92.6 L524.3,92.2 L524.8,91.8 L525.3,91.4 L525.8,90.9 L526.3,90.4 L526.8,89.7 L527.3,88.9 L527.8,88.0 L528.3,87.4 L528.8,87.1 L529.3,87.0 L529.8,87.0 L530.3,87.4 L530.8,88.0 L531.3,88.9 L531.8,89.8 L532.3,90.6 L532.8,91.4 L533.3,91.9 L533.8,92.2 L534.3,92.4 L534.8,92.4 L535.3,92.3 L535.8,92.2 L536.3,92.1 L536.8,92.0 L537.3,92.0 L537.8,91.9 L538.3,91.7 L538.8,91.4 L539.0,91.3" fill="none" stroke="#f0a232" stroke-width="1.25" stroke-linejoin="round" stroke-linecap="round" />
<path d="M407.8,18.8 L408.3,18.9 L408.8,18.9 L409.3,18.9 L409.8,19.0 L410.3,19.0 L410.8,19.0 L411.3,19.1 L411.8,19.1 L412.3,19.1 L412.8,19.1 L413.3,19.2 L413.8,19.2 L414.3,19.2 L414.8,19.3 L415.3,19.3 L415.8,19.3 L416.3,19.3 L416.8,19.4 L417.3,19.4 L417.8,19.4 L418.3,19.4 L418.8,19.5 L419.3,19.5 L419.8,19.5 L420.3,19.5 L420.8,19.6 L421.3,19.6 L421.8,19.6 L422.3,19.7 L422.8,19.7 L423.3,19.7 L423.8,19.7 L424.3,19.8 L424.8,19.8 L425.3,19.8 L425.8,19.8 L426.3,19.9 L426.8,19.9 L427.3,19.9 L427.8,19.9 L428.3,20.0 L428.8,20.0 L429.3,20.0 L429.8,20.1 L430.3,20.1 L430.8,20.1 L431.3,20.1 L431.8,20.2 L432.3,20.2 L432.8,20.2 L433.3,20.2 L433.8,20.3 L434.3,20.3 L434.8,20.3 L435.3,20.4 L435.8,20.4 L436.3,20.4 L436.8,20.5 L437.3,20.5 L437.8,20.5 L438.3,20.6 L438.8,20.6 L439.3,20.6 L439.8,20.7 L440.3,20.7 L440.8,20.8 L441.3,20.8 L441.8,20.8 L442.3,20.9 L442.8,20.9 L443.3,21.0 L443.8,21.0 L444.3,21.1 L444.8,21.1 L445.3,21.2 L445.8,21.2 L446.3,21.3 L446.8,21.3 L447.3,21.4 L447.8,21.4 L448.3,21.5 L448.8,21.6 L449.3,21.6 L449.8,21.7 L450.3,21.8 L450.8,21.8 L451.3,21.9 L451.8,22.0 L452.3,22.1 L452.8,22.1 L453.3,22.2 L453.8,22.3 L454.3,22.4 L454.8,22.5 L455.3,22.6 L455.8,22.7 L456.3,22.8 L456.8,22.9 L457.3,23.0 L457.8,23.1 L458.3,23.3 L458.8,23.4 L459.3,23.5 L459.8,23.6 L460.3,23.8 L460.8,23.9 L461.3,24.0 L461.8,24.2 L462.3,24.3 L462.8,24.5 L463.3,24.7 L463.8,24.8 L464.3,25.0 L464.8,25.2 L465.3,25.4 L465.8,25.6 L466.3,25.8 L466.8,26.0 L467.3,26.2 L467.8,26.4 L468.3,26.6 L468.8,26.8 L469.3,27.1 L469.8,27.3 L470.3,27.6 L470.8,27.8 L471.3,28.1 L471.8,28.3 L472.3,28.6 L472.8,28.9 L473.3,29.2 L473.8,29.5 L474.3,29.8 L474.8,30.1 L475.3,30.5 L475.8,30.8 L476.3,31.1 L476.8,31.5 L477.3,31.9 L477.8,32.2 L478.3,32.6 L478.8,33.0 L479.3,33.4 L479.8,33.8 L480.3,34.3 L480.8,34.7 L481.3,35.1 L481.8,35.6 L482.3,36.1 L482.8,36.5 L483.3,37.0 L483.8,37.5 L484.3,38.1 L484.8,38.6 L485.3,39.1 L485.8,39.7 L486.3,40.2 L486.8,40.8 L487.3,41.4 L487.8,42.0 L488.3,42.6 L488.8,43.2 L489.3,43.9 L489.8,44.5 L490.3,45.2 L490.8,45.9 L491.3,46.6 L491.8,47.3 L492.3,48.0 L492.8,48.7 L493.3,49.5 L493.8,50.3 L494.3,51.0 L494.8,51.8 L495.3,52.6 L495.8,53.5 L496.3,54.3 L496.8,55.2 L497.3,56.1 L497.8,56.9 L498.3,57.8 L498.8,58.8 L499.3,59.7 L499.8,60.7 L500.3,61.6 L500.8,62.6 L501.3,63.6 L501.8,64.6 L502.3,65.7 L502.8,66.7 L503.3,67.8 L503.8,68.9 L504.3,70.0 L504.8,71.1 L505.3,72.3 L505.8,73.4 L506.3,74.6 L506.8,75.8 L507.3,77.0 L507.8,78.3 L508.3,79.5 L508.8,80.8 L509.3,82.1 L509.8,83.4 L510.3,84.7 L510.8,86.1 L511.3,87.4 L511.8,88.8 L512.3,90.1 L512.8,91.4 L513.3,92.6 L513.8,93.6 L514.3,94.7 L514.8,96.0 L515.3,97.3 L515.8,98.5 L516.3,99.1 L516.8,99.1 L517.3,98.3 L517.8,97.0 L518.3,95.8 L518.8,95.0 L519.3,94.8 L519.8,95.2 L520.3,95.9 L520.8,96.8 L521.3,97.5 L521.8,97.9 L522.3,97.8 L522.8,97.5 L523.3,97.0 L523.8,96.5 L524.3,96.2 L524.8,96.2 L525.3,96.2 L525.8,96.2 L526.3,96.0 L526.8,95.6 L527.3,94.8 L527.8,94.1 L528.3,93.5 L528.8,93.3 L529.3,93.7 L529.8,94.5 L530.3,95.6 L530.8,96.5 L531.3,96.9 L531.8,96.8 L532.3,95.9 L532.8,94.5 L533.3,92.8 L533.8,91.4 L534.3,90.4 L534.8,90.2 L535.3,90.6 L535.8,91.5 L536.3,92.0 L536.8,91.9 L537.3,91.3 L537.8,89.9 L538.3,88.0 L538.8,85.9 L539.0,85.1" fill="none" stroke="#22d6dc" stroke-width="1.25" stroke-linejoin="round" stroke-linecap="round" />
<path d="M407.8,19.2 L408.3,19.2 L408.8,19.3 L409.3,19.3 L409.8,19.4 L410.3,19.4 L410.8,19.4 L411.3,19.5 L411.8,19.5 L412.3,19.6 L412.8,19.6 L413.3,19.6 L413.8,19.7 L414.3,19.7 L414.8,19.8 L415.3,19.8 L415.8,19.8 L416.3,19.9 L416.8,19.9 L417.3,20.0 L417.8,20.0 L418.3,20.0 L418.8,20.1 L419.3,20.1 L419.8,20.1 L420.3,20.2 L420.8,20.2 L421.3,20.3 L421.8,20.3 L422.3,20.3 L422.8,20.4 L423.3,20.4 L423.8,20.5 L424.3,20.5 L424.8,20.5 L425.3,20.6 L425.8,20.6 L426.3,20.7 L426.8,20.7 L427.3,20.7 L427.8,20.8 L428.3,20.8 L428.8,20.9 L429.3,20.9 L429.8,20.9 L430.3,21.0 L430.8,21.0 L431.3,21.1 L431.8,21.1 L432.3,21.2 L432.8,21.2 L433.3,21.3 L433.8,21.3 L434.3,21.3 L434.8,21.4 L435.3,21.4 L435.8,21.5 L436.3,21.5 L436.8,21.6 L437.3,21.7 L437.8,21.7 L438.3,21.8 L438.8,21.8 L439.3,21.9 L439.8,21.9 L440.3,22.0 L440.8,22.1 L441.3,22.1 L441.8,22.2 L442.3,22.3 L442.8,22.3 L443.3,22.4 L443.8,22.5 L444.3,22.5 L444.8,22.6 L445.3,22.7 L445.8,22.8 L446.3,22.9 L446.8,22.9 L447.3,23.0 L447.8,23.1 L448.3,23.2 L448.8,23.3 L449.3,23.3 L449.8,23.4 L450.3,23.5 L450.8,23.6 L451.3,23.7 L451.8,23.8 L452.3,23.9 L452.8,24.0 L453.3,24.1 L453.8,24.2 L454.3,24.3 L454.8,24.4 L455.3,24.5 L455.8,24.6 L456.3,24.7 L456.8,24.9 L457.3,25.0 L457.8,25.1 L458.3,25.3 L458.8,25.4 L459.3,25.6 L459.8,25.7 L460.3,25.9 L460.8,26.1 L461.3,26.2 L461.8,26.4 L462.3,26.6 L462.8,26.8 L463.3,27.0 L463.8,27.2 L464.3,27.4 L464.8,27.6 L465.3,27.8 L465.8,28.1 L466.3,28.3 L466.8,28.6 L467.3,28.8 L467.8,29.1 L468.3,29.3 L468.8,29.6 L469.3,29.9 L469.8,30.2 L470.3,30.5 L470.8,30.8 L471.3,31.1 L471.8,31.4 L472.3,31.8 L472.8,32.1 L473.3,32.5 L473.8,32.8 L474.3,33.2 L474.8,33.6 L475.3,34.0 L475.8,34.4 L476.3,34.8 L476.8,35.2 L477.3,35.7 L477.8,36.1 L478.3,36.6 L478.8,37.1 L479.3,37.5 L479.8,38.0 L480.3,38.6 L480.8,39.1 L481.3,39.6 L481.8,40.2 L482.3,40.7 L482.8,41.3 L483.3,41.9 L483.8,42.5 L484.3,43.1 L484.8,43.7 L485.3,44.3 L485.8,45.0 L486.3,45.7 L486.8,46.3 L487.3,47.0 L487.8,47.7 L488.3,48.5 L488.8,49.2 L489.3,50.0 L489.8,50.7 L490.3,51.5 L490.8,52.3 L491.3,53.1 L491.8,54.0 L492.3,54.8 L492.8,55.7 L493.3,56.5 L493.8,57.4 L494.3,58.3 L494.8,59.3 L495.3,60.2 L495.8,61.2 L496.3,62.1 L496.8,63.1 L497.3,64.1 L497.8,65.2 L498.3,66.2 L498.8,67.3 L499.3,68.4 L499.8,69.5 L500.3,70.6 L500.8,71.7 L501.3,72.9 L501.8,74.0 L502.3,75.2 L502.8,76.4 L503.3,77.6 L503.8,78.9 L504.3,80.1 L504.8,81.4 L505.3,82.7 L505.8,84.0 L506.3,85.3 L506.8,86.7 L507.3,88.0 L507.8,89.4 L508.3,90.8 L508.8,93.0 L509.3,95.5 L509.8,98.0 L510.3,97.5 L510.8,96.4 L511.3,96.7 L511.8,96.8 L512.3,96.8 L512.8,96.6 L513.3,96.4 L513.8,96.2 L514.3,95.9 L514.8,95.6 L515.3,95.2 L515.8,94.8 L516.3,94.5 L516.8,94.4 L517.3,94.4 L517.8,94.4 L518.3,94.2 L518.8,93.9 L519.3,93.3 L519.8,92.6 L520.3,91.8 L520.8,91.2 L521.3,90.8 L521.8,90.6 L522.3,90.6 L522.8,90.7 L523.3,90.7 L523.8,90.6 L524.3,90.2 L524.8,89.6 L525.3,89.0 L525.8,88.5 L526.3,88.2 L526.8,88.0 L527.3,88.1 L527.8,88.1 L528.3,88.1 L528.8,87.8 L529.3,87.3 L529.8,86.5 L530.3,85.7 L530.8,85.0 L531.3,84.5 L531.8,84.2 L532.3,84.1 L532.8,84.2 L533.3,84.2 L533.8,84.1 L534.3,83.8 L534.8,83.3 L535.3,82.8 L535.8,82.3 L536.3,81.9 L536.8,81.7 L537.3,81.5 L537.8,81.4 L538.3,81.2 L538.8,80.8 L539.0,80.6" fill="none" stroke="#a66a70" stroke-width="1.25" stroke-linejoin="round" stroke-linecap="round" />
<path d="M407.8,19.7 L408.3,19.8 L408.8,19.8 L409.3,19.8 L409.8,19.8 L410.3,19.9 L410.8,19.9 L411.3,19.9 L411.8,19.9 L412.3,20.0 L412.8,20.0 L413.3,20.0 L413.8,20.0 L414.3,20.1 L414.8,20.1 L415.3,20.1 L415.8,20.1 L416.3,20.2 L416.8,20.2 L417.3,20.2 L417.8,20.3 L418.3,20.3 L418.8,20.3 L419.3,20.3 L419.8,20.4 L420.3,20.4 L420.8,20.4 L421.3,20.4 L421.8,20.5 L422.3,20.5 L422.8,20.5 L423.3,20.6 L423.8,20.6 L424.3,20.6 L424.8,20.6 L425.3,20.7 L425.8,20.7 L426.3,20.7 L426.8,20.8 L427.3,20.8 L427.8,20.8 L428.3,20.9 L428.8,20.9 L429.3,20.9 L429.8,21.0 L430.3,21.0 L430.8,21.0 L431.3,21.1 L431.8,21.1 L432.3,21.1 L432.8,21.2 L433.3,21.2 L433.8,21.3 L434.3,21.3 L434.8,21.4 L435.3,21.4 L435.8,21.4 L436.3,21.5 L436.8,21.5 L437.3,21.6 L437.8,21.6 L438.3,21.7 L438.8,21.8 L439.3,21.8 L439.8,21.9 L440.3,21.9 L440.8,22.0 L441.3,22.1 L441.8,22.1 L442.3,22.2 L442.8,22.3 L443.3,22.4 L443.8,22.4 L444.3,22.5 L444.8,22.6 L445.3,22.7 L445.8,22.8 L446.3,22.9 L446.8,23.0 L447.3,23.1 L447.8,23.2 L448.3,23.3 L448.8,23.4 L449.3,23.5 L449.8,23.6 L450.3,23.7 L450.8,23.8 L451.3,24.0 L451.8,24.1 L452.3,24.2 L452.8,24.4 L453.3,24.5 L453.8,24.7 L454.3,24.8 L454.8,25.0 L455.3,25.2 L455.8,25.3 L456.3,25.5 L456.8,25.7 L457.3,25.9 L457.8,26.1 L458.3,26.3 L458.8,26.5 L459.3,26.7 L459.8,26.9 L460.3,27.1 L460.8,27.4 L461.3,27.6 L461.8,27.9 L462.3,28.1 L462.8,28.4 L463.3,28.6 L463.8,28.9 L464.3,29.2 L464.8,29.5 L465.3,29.8 L465.8,30.1 L466.3,30.4 L466.8,30.7 L467.3,31.1 L467.8,31.4 L468.3,31.8 L468.8,32.1 L469.3,32.5 L469.8,32.9 L470.3,33.3 L470.8,33.7 L471.3,34.1 L471.8,34.5 L472.3,34.9 L472.8,35.4 L473.3,35.8 L473.8,36.3 L474.3,36.8 L474.8,37.2 L475.3,37.7 L475.8,38.2 L476.3,38.8 L476.8,39.3 L477.3,39.8 L477.8,40.4 L478.3,41.0 L478.8,41.6 L479.3,42.1 L479.8,42.8 L480.3,43.4 L480.8,44.0 L481.3,44.7 L481.8,45.3 L482.3,46.0 L482.8,46.7 L483.3,47.4 L483.8,48.1 L484.3,48.8 L484.8,49.6 L485.3,50.3 L485.8,51.1 L486.3,51.9 L486.8,52.7 L487.3,53.5 L487.8,54.4 L488.3,55.2 L488.8,56.1 L489.3,57.0 L489.8,57.9 L490.3,58.8 L490.8,59.7 L491.3,60.7 L491.8,61.6 L492.3,62.6 L492.8,63.6 L493.3,64.6 L493.8,65.7 L494.3,66.7 L494.8,67.8 L495.3,68.9 L495.8,70.0 L496.3,71.1 L496.8,72.2 L497.3,73.4 L497.8,74.6 L498.3,75.7 L498.8,76.9 L499.3,78.2 L499.8,79.4 L500.3,80.7 L500.8,82.0 L501.3,83.3 L501.8,84.6 L502.3,85.9 L502.8,87.3 L503.3,88.6 L503.8,90.0 L504.3,91.4 L504.8,92.9 L505.3,94.3 L505.8,95.7 L506.3,97.2 L506.8,98.5 L507.3,99.7 L507.8,100.6 L508.3,101.1 L508.8,101.3 L509.3,101.4 L509.8,101.5 L510.3,101.2 L510.8,100.8 L511.3,100.3 L511.8,99.6 L512.3,98.8 L512.8,98.2 L513.3,97.6 L513.8,97.1 L514.3,97.4 L514.8,100.4 L515.3,103.4 L515.8,106.4 L516.3,109.4 L516.8,110.0 L517.3,107.0 L517.8,104.0 L518.3,101.0 L518.8,98.0 L519.3,95.0 L519.8,92.0 L520.3,89.0 L520.8,88.3 L521.3,88.3 L521.8,88.4 L522.3,88.5 L522.8,88.5 L523.3,88.3 L523.8,87.9 L524.3,87.3 L524.8,86.6 L525.3,85.8 L525.8,85.2 L526.3,84.7 L526.8,84.4 L527.3,84.4 L527.8,84.4 L528.3,84.5 L528.8,84.4 L529.3,84.2 L529.8,83.7 L530.3,83.0 L530.8,82.3 L531.3,81.5 L531.8,80.9 L532.3,80.5 L532.8,80.4 L533.3,80.4 L533.8,80.5 L534.3,80.6 L534.8,80.6 L535.3,80.5 L535.8,80.1 L536.3,79.5 L536.8,78.9 L537.3,78.3 L537.8,77.7 L538.3,77.4 L538.8,77.2 L539.0,77.2" fill="none" stroke="#a8a82c" stroke-width="1.25" stroke-linejoin="round" stroke-linecap="round" />
</g>
<line x1="405.6" y1="11.2" x2="407.8" y2="11.2" stroke="#222" stroke-width="1.2" />
<text x="404.8" y="13.6" font-size="6.6" text-anchor="end" font-weight="bold">10<tspan font-size="4.8" dy="-3.1" stroke="#000" stroke-width="0.3">&#8722;</tspan><tspan font-size="4.8">5</tspan></text>
<line x1="406.7" y1="20.45" x2="407.8" y2="20.45" stroke="#222" stroke-width="0.7" />
<line x1="406.7" y1="18.12" x2="407.8" y2="18.12" stroke="#222" stroke-width="0.7" />
<line x1="406.7" y1="16.47" x2="407.8" y2="16.47" stroke="#222" stroke-width="0.7" />
<line x1="406.7" y1="15.18" x2="407.8" y2="15.18" stroke="#222" stroke-width="0.7" />
<line x1="406.7" y1="14.14" x2="407.8" y2="14.14" stroke="#222" stroke-width="0.7" />
<line x1="406.7" y1="13.25" x2="407.8" y2="13.25" stroke="#222" stroke-width="0.7" />
<line x1="406.7" y1="12.48" x2="407.8" y2="12.48" stroke="#222" stroke-width="0.7" />
<line x1="406.7" y1="11.81" x2="407.8" y2="11.81" stroke="#222" stroke-width="0.7" />
<line x1="405.6" y1="24.44" x2="407.8" y2="24.44" stroke="#222" stroke-width="1.2" />
<text x="404.8" y="26.84" font-size="6.6" text-anchor="end" font-weight="bold">10<tspan font-size="4.8" dy="-3.1" stroke="#000" stroke-width="0.3">&#8722;</tspan><tspan font-size="4.8">6</tspan></text>
<line x1="406.7" y1="33.69" x2="407.8" y2="33.69" stroke="#222" stroke-width="0.7" />
<line x1="406.7" y1="31.36" x2="407.8" y2="31.36" stroke="#222" stroke-width="0.7" />
<line x1="406.7" y1="29.71" x2="407.8" y2="29.71" stroke="#222" stroke-width="0.7" />
<line x1="406.7" y1="28.42" x2="407.8" y2="28.42" stroke="#222" stroke-width="0.7" />
<line x1="406.7" y1="27.37" x2="407.8" y2="27.37" stroke="#222" stroke-width="0.7" />
<line x1="406.7" y1="26.49" x2="407.8" y2="26.49" stroke="#222" stroke-width="0.7" />
<line x1="406.7" y1="25.72" x2="407.8" y2="25.72" stroke="#222" stroke-width="0.7" />
<line x1="406.7" y1="25.04" x2="407.8" y2="25.04" stroke="#222" stroke-width="0.7" />
<line x1="405.6" y1="37.67" x2="407.8" y2="37.67" stroke="#222" stroke-width="1.2" />
<text x="404.8" y="40.07" font-size="6.6" text-anchor="end" font-weight="bold">10<tspan font-size="4.8" dy="-3.1" stroke="#000" stroke-width="0.3">&#8722;</tspan><tspan font-size="4.8">7</tspan></text>
<line x1="406.7" y1="46.93" x2="407.8" y2="46.93" stroke="#222" stroke-width="0.7" />
<line x1="406.7" y1="44.6" x2="407.8" y2="44.6" stroke="#222" stroke-width="0.7" />
<line x1="406.7" y1="42.94" x2="407.8" y2="42.94" stroke="#222" stroke-width="0.7" />
<line x1="406.7" y1="41.66" x2="407.8" y2="41.66" stroke="#222" stroke-width="0.7" />
<line x1="406.7" y1="40.61" x2="407.8" y2="40.61" stroke="#222" stroke-width="0.7" />
<line x1="406.7" y1="39.73" x2="407.8" y2="39.73" stroke="#222" stroke-width="0.7" />
<line x1="406.7" y1="38.96" x2="407.8" y2="38.96" stroke="#222" stroke-width="0.7" />
<line x1="406.7" y1="38.28" x2="407.8" y2="38.28" stroke="#222" stroke-width="0.7" />
<line x1="405.6" y1="50.91" x2="407.8" y2="50.91" stroke="#222" stroke-width="1.2" />
<text x="404.8" y="53.31" font-size="6.6" text-anchor="end" font-weight="bold">10<tspan font-size="4.8" dy="-3.1" stroke="#000" stroke-width="0.3">&#8722;</tspan><tspan font-size="4.8">8</tspan></text>
<line x1="406.7" y1="60.17" x2="407.8" y2="60.17" stroke="#222" stroke-width="0.7" />
<line x1="406.7" y1="57.83" x2="407.8" y2="57.83" stroke="#222" stroke-width="0.7" />
<line x1="406.7" y1="56.18" x2="407.8" y2="56.18" stroke="#222" stroke-width="0.7" />
<line x1="406.7" y1="54.9" x2="407.8" y2="54.9" stroke="#222" stroke-width="0.7" />
<line x1="406.7" y1="53.85" x2="407.8" y2="53.85" stroke="#222" stroke-width="0.7" />
<line x1="406.7" y1="52.96" x2="407.8" y2="52.96" stroke="#222" stroke-width="0.7" />
<line x1="406.7" y1="52.2" x2="407.8" y2="52.2" stroke="#222" stroke-width="0.7" />
<line x1="406.7" y1="51.52" x2="407.8" y2="51.52" stroke="#222" stroke-width="0.7" />
<line x1="405.6" y1="64.15" x2="407.8" y2="64.15" stroke="#222" stroke-width="1.2" />
<text x="404.8" y="66.55" font-size="6.6" text-anchor="end" font-weight="bold">10<tspan font-size="4.8" dy="-3.1" stroke="#000" stroke-width="0.3">&#8722;</tspan><tspan font-size="4.8">9</tspan></text>
<line x1="406.7" y1="73.4" x2="407.8" y2="73.4" stroke="#222" stroke-width="0.7" />
<line x1="406.7" y1="71.07" x2="407.8" y2="71.07" stroke="#222" stroke-width="0.7" />
<line x1="406.7" y1="69.42" x2="407.8" y2="69.42" stroke="#222" stroke-width="0.7" />
<line x1="406.7" y1="68.13" x2="407.8" y2="68.13" stroke="#222" stroke-width="0.7" />
<line x1="406.7" y1="67.09" x2="407.8" y2="67.09" stroke="#222" stroke-width="0.7" />
<line x1="406.7" y1="66.2" x2="407.8" y2="66.2" stroke="#222" stroke-width="0.7" />
<line x1="406.7" y1="65.43" x2="407.8" y2="65.43" stroke="#222" stroke-width="0.7" />
<line x1="406.7" y1="64.76" x2="407.8" y2="64.76" stroke="#222" stroke-width="0.7" />
<line x1="405.6" y1="77.39" x2="407.8" y2="77.39" stroke="#222" stroke-width="1.2" />
<text x="404.8" y="79.79" font-size="6.6" text-anchor="end" font-weight="bold">10<tspan font-size="4.8" dy="-3.1" stroke="#000" stroke-width="0.3">&#8722;</tspan><tspan font-size="4.8">10</tspan></text>
<line x1="406.7" y1="86.64" x2="407.8" y2="86.64" stroke="#222" stroke-width="0.7" />
<line x1="406.7" y1="84.31" x2="407.8" y2="84.31" stroke="#222" stroke-width="0.7" />
<line x1="406.7" y1="82.66" x2="407.8" y2="82.66" stroke="#222" stroke-width="0.7" />
<line x1="406.7" y1="81.37" x2="407.8" y2="81.37" stroke="#222" stroke-width="0.7" />
<line x1="406.7" y1="80.32" x2="407.8" y2="80.32" stroke="#222" stroke-width="0.7" />
<line x1="406.7" y1="79.44" x2="407.8" y2="79.44" stroke="#222" stroke-width="0.7" />
<line x1="406.7" y1="78.67" x2="407.8" y2="78.67" stroke="#222" stroke-width="0.7" />
<line x1="406.7" y1="77.99" x2="407.8" y2="77.99" stroke="#222" stroke-width="0.7" />
<line x1="405.6" y1="90.62" x2="407.8" y2="90.62" stroke="#222" stroke-width="1.2" />
<text x="404.8" y="93.03" font-size="6.6" text-anchor="end" font-weight="bold">10<tspan font-size="4.8" dy="-3.1" stroke="#000" stroke-width="0.3">&#8722;</tspan><tspan font-size="4.8">11</tspan></text>
<line x1="406.7" y1="99.88" x2="407.8" y2="99.88" stroke="#222" stroke-width="0.7" />
<line x1="406.7" y1="97.55" x2="407.8" y2="97.55" stroke="#222" stroke-width="0.7" />
<line x1="406.7" y1="95.89" x2="407.8" y2="95.89" stroke="#222" stroke-width="0.7" />
<line x1="406.7" y1="94.61" x2="407.8" y2="94.61" stroke="#222" stroke-width="0.7" />
<line x1="406.7" y1="93.56" x2="407.8" y2="93.56" stroke="#222" stroke-width="0.7" />
<line x1="406.7" y1="92.68" x2="407.8" y2="92.68" stroke="#222" stroke-width="0.7" />
<line x1="406.7" y1="91.91" x2="407.8" y2="91.91" stroke="#222" stroke-width="0.7" />
<line x1="406.7" y1="91.23" x2="407.8" y2="91.23" stroke="#222" stroke-width="0.7" />
<line x1="405.6" y1="103.86" x2="407.8" y2="103.86" stroke="#222" stroke-width="1.2" />
<text x="404.8" y="106.26" font-size="6.6" text-anchor="end" font-weight="bold">10<tspan font-size="4.8" dy="-3.1" stroke="#000" stroke-width="0.3">&#8722;</tspan><tspan font-size="4.8">12</tspan></text>
<line x1="406.7" y1="113.12" x2="407.8" y2="113.12" stroke="#222" stroke-width="0.7" />
<line x1="406.7" y1="110.78" x2="407.8" y2="110.78" stroke="#222" stroke-width="0.7" />
<line x1="406.7" y1="109.13" x2="407.8" y2="109.13" stroke="#222" stroke-width="0.7" />
<line x1="406.7" y1="107.85" x2="407.8" y2="107.85" stroke="#222" stroke-width="0.7" />
<line x1="406.7" y1="106.8" x2="407.8" y2="106.8" stroke="#222" stroke-width="0.7" />
<line x1="406.7" y1="105.91" x2="407.8" y2="105.91" stroke="#222" stroke-width="0.7" />
<line x1="406.7" y1="105.15" x2="407.8" y2="105.15" stroke="#222" stroke-width="0.7" />
<line x1="406.7" y1="104.47" x2="407.8" y2="104.47" stroke="#222" stroke-width="0.7" />
<line x1="405.6" y1="117.1" x2="407.8" y2="117.1" stroke="#222" stroke-width="1.2" />
<text x="404.8" y="119.5" font-size="6.6" text-anchor="end" font-weight="bold">10<tspan font-size="4.8" dy="-3.1" stroke="#000" stroke-width="0.3">&#8722;</tspan><tspan font-size="4.8">13</tspan></text>
<line x1="407.8" y1="117.1" x2="407.8" y2="119.3" stroke="#222" stroke-width="1.2" />
<text x="408.1" y="126" font-size="7.5" text-anchor="middle" font-weight="bold" ><tspan font-size="5.6" dy="-0.7" stroke="#000" stroke-width="0.35">&#8722;</tspan><tspan dy="0.7" dx="0.4">0.8</tspan></text>
<line x1="417.17" y1="117.1" x2="417.17" y2="118.3" stroke="#222" stroke-width="1" />
<line x1="426.54" y1="117.1" x2="426.54" y2="119.3" stroke="#222" stroke-width="1.2" />
<text x="426.84" y="126" font-size="7.5" text-anchor="middle" font-weight="bold" ><tspan font-size="5.6" dy="-0.7" stroke="#000" stroke-width="0.35">&#8722;</tspan><tspan dy="0.7" dx="0.4">0.6</tspan></text>
<line x1="435.91" y1="117.1" x2="435.91" y2="118.3" stroke="#222" stroke-width="1" />
<line x1="445.29" y1="117.1" x2="445.29" y2="119.3" stroke="#222" stroke-width="1.2" />
<text x="445.59" y="126" font-size="7.5" text-anchor="middle" font-weight="bold" ><tspan font-size="5.6" dy="-0.7" stroke="#000" stroke-width="0.35">&#8722;</tspan><tspan dy="0.7" dx="0.4">0.4</tspan></text>
<line x1="454.66" y1="117.1" x2="454.66" y2="118.3" stroke="#222" stroke-width="1" />
<line x1="464.03" y1="117.1" x2="464.03" y2="119.3" stroke="#222" stroke-width="1.2" />
<text x="464.33" y="126" font-size="7.5" text-anchor="middle" font-weight="bold" ><tspan font-size="5.6" dy="-0.7" stroke="#000" stroke-width="0.35">&#8722;</tspan><tspan dy="0.7" dx="0.4">0.2</tspan></text>
<line x1="473.4" y1="117.1" x2="473.4" y2="118.3" stroke="#222" stroke-width="1" />
<line x1="482.77" y1="117.1" x2="482.77" y2="119.3" stroke="#222" stroke-width="1.2" />
<text x="483.07" y="126" font-size="7.5" text-anchor="middle" font-weight="bold" >0.0</text>
<line x1="492.14" y1="117.1" x2="492.14" y2="118.3" stroke="#222" stroke-width="1" />
<line x1="501.51" y1="117.1" x2="501.51" y2="119.3" stroke="#222" stroke-width="1.2" />
<text x="501.81" y="126" font-size="7.5" text-anchor="middle" font-weight="bold" >0.2</text>
<line x1="510.89" y1="117.1" x2="510.89" y2="118.3" stroke="#222" stroke-width="1" />
<line x1="520.26" y1="117.1" x2="520.26" y2="119.3" stroke="#222" stroke-width="1.2" />
<text x="520.56" y="126" font-size="7.5" text-anchor="middle" font-weight="bold" >0.4</text>
<line x1="529.63" y1="117.1" x2="529.63" y2="118.3" stroke="#222" stroke-width="1" />
<line x1="539" y1="117.1" x2="539" y2="119.3" stroke="#222" stroke-width="1.2" />
<text x="539.3" y="126" font-size="7.5" text-anchor="middle" font-weight="bold" >0.6</text>
<line x1="407.4" y1="11.5" x2="539.8" y2="11.5" stroke="#111" stroke-width="1.0" />
<line x1="407.4" y1="116.9" x2="539.8" y2="116.9" stroke="#111" stroke-width="1.5" />
<line x1="408.1" y1="11" x2="408.1" y2="117.6" stroke="#111" stroke-width="1.5" />
<line x1="539.3" y1="11" x2="539.3" y2="117.6" stroke="#111" stroke-width="1.0" />
<text x="473.6" y="137.1" font-size="8.5" text-anchor="middle" font-weight="bold">V<tspan font-size="5.8" dy="1.8" dx="0.2">g</tspan><tspan dy="-1.8" dx="0.7"> (V)</tspan></text>
<text transform="translate(384.5,64.3) rotate(-90)" font-size="9.0" text-anchor="middle" font-weight="bold">I<tspan font-size="5.8" dy="1.8">d</tspan><tspan dy="-1.8"> (A)</tspan></text>
<text x="367.9" y="14" font-size="9.2" text-anchor="start" font-weight="bold" >(c)</text>
<text x="412" y="111.6" font-size="7" font-weight="bold">Ca<tspan font-size="4.5" dy="-2.8">2+</tspan></text>
<line x1="513.8" y1="13.9" x2="523.8" y2="13.9" stroke="#7a7a7a" stroke-width="1.4" stroke-opacity="0.9"/>
<text x="524.9" y="15.5" font-size="4.6" font-weight="bold" textLength="12.0" lengthAdjust="spacingAndGlyphs">Buffer</text>
<line x1="513.8" y1="18.88" x2="523.8" y2="18.88" stroke="#f06464" stroke-width="1.4" stroke-opacity="0.9"/>
<text x="524.9" y="20.48" font-size="4.6" font-weight="bold" textLength="9.9" lengthAdjust="spacingAndGlyphs">10nM</text>
<line x1="513.8" y1="23.86" x2="523.8" y2="23.86" stroke="#3d8ee6" stroke-width="1.4" stroke-opacity="0.9"/>
<text x="524.9" y="25.46" font-size="4.6" font-weight="bold" textLength="12.5" lengthAdjust="spacingAndGlyphs">100nM</text>
<line x1="513.8" y1="28.84" x2="523.8" y2="28.84" stroke="#2bb07a" stroke-width="1.4" stroke-opacity="0.9"/>
<text x="524.9" y="30.44" font-size="4.6" font-weight="bold" textLength="8.9" lengthAdjust="spacingAndGlyphs">1uM</text>
<line x1="513.8" y1="33.82" x2="523.8" y2="33.82" stroke="#c88ae2" stroke-width="1.4" stroke-opacity="0.9"/>
<text x="524.9" y="35.42" font-size="4.6" font-weight="bold" textLength="10.9" lengthAdjust="spacingAndGlyphs">10uM</text>
<line x1="513.8" y1="38.8" x2="523.8" y2="38.8" stroke="#f0a232" stroke-width="1.4" stroke-opacity="0.9"/>
<text x="524.9" y="40.4" font-size="4.6" font-weight="bold" textLength="12.7" lengthAdjust="spacingAndGlyphs">100uM</text>
<line x1="513.8" y1="43.78" x2="523.8" y2="43.78" stroke="#22d6dc" stroke-width="1.4" stroke-opacity="0.9"/>
<text x="524.9" y="45.38" font-size="4.6" font-weight="bold" textLength="9.9" lengthAdjust="spacingAndGlyphs">1mM</text>
<line x1="513.8" y1="48.76" x2="523.8" y2="48.76" stroke="#a66a70" stroke-width="1.4" stroke-opacity="0.9"/>
<text x="524.9" y="50.36" font-size="4.6" font-weight="bold" textLength="11.1" lengthAdjust="spacingAndGlyphs">10mM</text>
<line x1="513.8" y1="53.74" x2="523.8" y2="53.74" stroke="#a8a82c" stroke-width="1.4" stroke-opacity="0.9"/>
<text x="524.9" y="55.34" font-size="4.6" font-weight="bold" textLength="13.4" lengthAdjust="spacingAndGlyphs">100mM</text>
<line x1="43.6" y1="146.1" x2="45.8" y2="146.1" stroke="#222" stroke-width="1.2" />
<text transform="translate(42.6,148.1) scale(1,1.08)" font-size="6.6" text-anchor="end" font-weight="bold" >200</text>
<line x1="44.6" y1="156.67" x2="45.8" y2="156.67" stroke="#222" stroke-width="1" />
<line x1="43.6" y1="167.24" x2="45.8" y2="167.24" stroke="#222" stroke-width="1.2" />
<text transform="translate(42.6,169.24) scale(1,1.08)" font-size="6.6" text-anchor="end" font-weight="bold" >150</text>
<line x1="44.6" y1="177.81" x2="45.8" y2="177.81" stroke="#222" stroke-width="1" />
<line x1="43.6" y1="188.38" x2="45.8" y2="188.38" stroke="#222" stroke-width="1.2" />
<text transform="translate(42.6,190.38) scale(1,1.08)" font-size="6.6" text-anchor="end" font-weight="bold" >100</text>
<line x1="44.6" y1="198.95" x2="45.8" y2="198.95" stroke="#222" stroke-width="1" />
<line x1="43.6" y1="209.52" x2="45.8" y2="209.52" stroke="#222" stroke-width="1.2" />
<text transform="translate(42.6,211.52) scale(1,1.08)" font-size="6.6" text-anchor="end" font-weight="bold" >50</text>
<line x1="44.6" y1="220.09" x2="45.8" y2="220.09" stroke="#222" stroke-width="1" />
<line x1="43.6" y1="230.66" x2="45.8" y2="230.66" stroke="#222" stroke-width="1.2" />
<text transform="translate(42.6,232.66) scale(1,1.08)" font-size="6.6" text-anchor="end" font-weight="bold" >0</text>
<line x1="44.6" y1="241.23" x2="45.8" y2="241.23" stroke="#222" stroke-width="1" />
<line x1="43.6" y1="251.8" x2="45.8" y2="251.8" stroke="#222" stroke-width="1.2" />
<text transform="translate(42.6,253.8) scale(1,1.08)" font-size="6.6" text-anchor="end" font-weight="bold" ><tspan font-size="6.2" dy="-0.6" stroke="#000" stroke-width="0.35">&#8722;</tspan><tspan dy="0.6" dx="0.3">50</tspan></text>
<line x1="45.8" y1="251.8" x2="45.8" y2="254" stroke="#222" stroke-width="1.2" />
<text transform="translate(46,261.7) scale(1,1.08)" font-size="7" text-anchor="middle" font-weight="bold" >10<tspan font-size="4.4" dy="-3">0</tspan></text>
<line x1="50.2" y1="251.8" x2="50.2" y2="252.7" stroke="#222" stroke-width="0.7" />
<line x1="52.77" y1="251.8" x2="52.77" y2="252.7" stroke="#222" stroke-width="0.7" />
<line x1="54.59" y1="251.8" x2="54.59" y2="252.7" stroke="#222" stroke-width="0.7" />
<line x1="56" y1="251.8" x2="56" y2="252.7" stroke="#222" stroke-width="0.7" />
<line x1="57.16" y1="251.8" x2="57.16" y2="252.7" stroke="#222" stroke-width="0.7" />
<line x1="58.14" y1="251.8" x2="58.14" y2="252.7" stroke="#222" stroke-width="0.7" />
<line x1="58.99" y1="251.8" x2="58.99" y2="252.7" stroke="#222" stroke-width="0.7" />
<line x1="59.73" y1="251.8" x2="59.73" y2="252.7" stroke="#222" stroke-width="0.7" />
<line x1="60.4" y1="251.8" x2="60.4" y2="253.3" stroke="#222" stroke-width="1" />
<line x1="64.8" y1="251.8" x2="64.8" y2="252.7" stroke="#222" stroke-width="0.7" />
<line x1="67.37" y1="251.8" x2="67.37" y2="252.7" stroke="#222" stroke-width="0.7" />
<line x1="69.19" y1="251.8" x2="69.19" y2="252.7" stroke="#222" stroke-width="0.7" />
<line x1="70.6" y1="251.8" x2="70.6" y2="252.7" stroke="#222" stroke-width="0.7" />
<line x1="71.76" y1="251.8" x2="71.76" y2="252.7" stroke="#222" stroke-width="0.7" />
<line x1="72.74" y1="251.8" x2="72.74" y2="252.7" stroke="#222" stroke-width="0.7" />
<line x1="73.59" y1="251.8" x2="73.59" y2="252.7" stroke="#222" stroke-width="0.7" />
<line x1="74.33" y1="251.8" x2="74.33" y2="252.7" stroke="#222" stroke-width="0.7" />
<line x1="75" y1="251.8" x2="75" y2="254" stroke="#222" stroke-width="1.2" />
<text transform="translate(75.2,261.7) scale(1,1.08)" font-size="7" text-anchor="middle" font-weight="bold" >10<tspan font-size="4.4" dy="-3">2</tspan></text>
<line x1="79.4" y1="251.8" x2="79.4" y2="252.7" stroke="#222" stroke-width="0.7" />
<line x1="81.97" y1="251.8" x2="81.97" y2="252.7" stroke="#222" stroke-width="0.7" />
<line x1="83.79" y1="251.8" x2="83.79" y2="252.7" stroke="#222" stroke-width="0.7" />
<line x1="85.2" y1="251.8" x2="85.2" y2="252.7" stroke="#222" stroke-width="0.7" />
<line x1="86.36" y1="251.8" x2="86.36" y2="252.7" stroke="#222" stroke-width="0.7" />
<line x1="87.34" y1="251.8" x2="87.34" y2="252.7" stroke="#222" stroke-width="0.7" />
<line x1="88.19" y1="251.8" x2="88.19" y2="252.7" stroke="#222" stroke-width="0.7" />
<line x1="88.93" y1="251.8" x2="88.93" y2="252.7" stroke="#222" stroke-width="0.7" />
<line x1="89.6" y1="251.8" x2="89.6" y2="253.3" stroke="#222" stroke-width="1" />
<line x1="94" y1="251.8" x2="94" y2="252.7" stroke="#222" stroke-width="0.7" />
<line x1="96.57" y1="251.8" x2="96.57" y2="252.7" stroke="#222" stroke-width="0.7" />
<line x1="98.39" y1="251.8" x2="98.39" y2="252.7" stroke="#222" stroke-width="0.7" />
<line x1="99.8" y1="251.8" x2="99.8" y2="252.7" stroke="#222" stroke-width="0.7" />
<line x1="100.96" y1="251.8" x2="100.96" y2="252.7" stroke="#222" stroke-width="0.7" />
<line x1="101.94" y1="251.8" x2="101.94" y2="252.7" stroke="#222" stroke-width="0.7" />
<line x1="102.79" y1="251.8" x2="102.79" y2="252.7" stroke="#222" stroke-width="0.7" />
<line x1="103.53" y1="251.8" x2="103.53" y2="252.7" stroke="#222" stroke-width="0.7" />
<line x1="104.2" y1="251.8" x2="104.2" y2="254" stroke="#222" stroke-width="1.2" />
<text transform="translate(104.4,261.7) scale(1,1.08)" font-size="7" text-anchor="middle" font-weight="bold" >10<tspan font-size="4.4" dy="-3">4</tspan></text>
<line x1="108.6" y1="251.8" x2="108.6" y2="252.7" stroke="#222" stroke-width="0.7" />
<line x1="111.17" y1="251.8" x2="111.17" y2="252.7" stroke="#222" stroke-width="0.7" />
<line x1="112.99" y1="251.8" x2="112.99" y2="252.7" stroke="#222" stroke-width="0.7" />
<line x1="114.4" y1="251.8" x2="114.4" y2="252.7" stroke="#222" stroke-width="0.7" />
<line x1="115.56" y1="251.8" x2="115.56" y2="252.7" stroke="#222" stroke-width="0.7" />
<line x1="116.54" y1="251.8" x2="116.54" y2="252.7" stroke="#222" stroke-width="0.7" />
<line x1="117.39" y1="251.8" x2="117.39" y2="252.7" stroke="#222" stroke-width="0.7" />
<line x1="118.13" y1="251.8" x2="118.13" y2="252.7" stroke="#222" stroke-width="0.7" />
<line x1="118.8" y1="251.8" x2="118.8" y2="253.3" stroke="#222" stroke-width="1" />
<line x1="123.2" y1="251.8" x2="123.2" y2="252.7" stroke="#222" stroke-width="0.7" />
<line x1="125.77" y1="251.8" x2="125.77" y2="252.7" stroke="#222" stroke-width="0.7" />
<line x1="127.59" y1="251.8" x2="127.59" y2="252.7" stroke="#222" stroke-width="0.7" />
<line x1="129" y1="251.8" x2="129" y2="252.7" stroke="#222" stroke-width="0.7" />
<line x1="130.16" y1="251.8" x2="130.16" y2="252.7" stroke="#222" stroke-width="0.7" />
<line x1="131.14" y1="251.8" x2="131.14" y2="252.7" stroke="#222" stroke-width="0.7" />
<line x1="131.99" y1="251.8" x2="131.99" y2="252.7" stroke="#222" stroke-width="0.7" />
<line x1="132.73" y1="251.8" x2="132.73" y2="252.7" stroke="#222" stroke-width="0.7" />
<line x1="133.4" y1="251.8" x2="133.4" y2="254" stroke="#222" stroke-width="1.2" />
<text transform="translate(133.6,261.7) scale(1,1.08)" font-size="7" text-anchor="middle" font-weight="bold" >10<tspan font-size="4.4" dy="-3">6</tspan></text>
<line x1="137.8" y1="251.8" x2="137.8" y2="252.7" stroke="#222" stroke-width="0.7" />
<line x1="140.37" y1="251.8" x2="140.37" y2="252.7" stroke="#222" stroke-width="0.7" />
<line x1="142.19" y1="251.8" x2="142.19" y2="252.7" stroke="#222" stroke-width="0.7" />
<line x1="143.6" y1="251.8" x2="143.6" y2="252.7" stroke="#222" stroke-width="0.7" />
<line x1="144.76" y1="251.8" x2="144.76" y2="252.7" stroke="#222" stroke-width="0.7" />
<line x1="145.74" y1="251.8" x2="145.74" y2="252.7" stroke="#222" stroke-width="0.7" />
<line x1="146.59" y1="251.8" x2="146.59" y2="252.7" stroke="#222" stroke-width="0.7" />
<line x1="147.33" y1="251.8" x2="147.33" y2="252.7" stroke="#222" stroke-width="0.7" />
<line x1="148" y1="251.8" x2="148" y2="253.3" stroke="#222" stroke-width="1" />
<line x1="152.4" y1="251.8" x2="152.4" y2="252.7" stroke="#222" stroke-width="0.7" />
<line x1="154.97" y1="251.8" x2="154.97" y2="252.7" stroke="#222" stroke-width="0.7" />
<line x1="156.79" y1="251.8" x2="156.79" y2="252.7" stroke="#222" stroke-width="0.7" />
<line x1="158.2" y1="251.8" x2="158.2" y2="252.7" stroke="#222" stroke-width="0.7" />
<line x1="159.36" y1="251.8" x2="159.36" y2="252.7" stroke="#222" stroke-width="0.7" />
<line x1="160.34" y1="251.8" x2="160.34" y2="252.7" stroke="#222" stroke-width="0.7" />
<line x1="161.19" y1="251.8" x2="161.19" y2="252.7" stroke="#222" stroke-width="0.7" />
<line x1="161.93" y1="251.8" x2="161.93" y2="252.7" stroke="#222" stroke-width="0.7" />
<line x1="162.6" y1="251.8" x2="162.6" y2="254" stroke="#222" stroke-width="1.2" />
<text transform="translate(162.8,261.7) scale(1,1.08)" font-size="7" text-anchor="middle" font-weight="bold" >10<tspan font-size="4.4" dy="-3">8</tspan></text>
<line x1="167" y1="251.8" x2="167" y2="252.7" stroke="#222" stroke-width="0.7" />
<line x1="169.57" y1="251.8" x2="169.57" y2="252.7" stroke="#222" stroke-width="0.7" />
<line x1="171.39" y1="251.8" x2="171.39" y2="252.7" stroke="#222" stroke-width="0.7" />
<line x1="172.8" y1="251.8" x2="172.8" y2="252.7" stroke="#222" stroke-width="0.7" />
<line x1="173.96" y1="251.8" x2="173.96" y2="252.7" stroke="#222" stroke-width="0.7" />
<line x1="174.94" y1="251.8" x2="174.94" y2="252.7" stroke="#222" stroke-width="0.7" />
<line x1="175.79" y1="251.8" x2="175.79" y2="252.7" stroke="#222" stroke-width="0.7" />
<line x1="176.53" y1="251.8" x2="176.53" y2="252.7" stroke="#222" stroke-width="0.7" />
<line x1="177.2" y1="251.8" x2="177.2" y2="253.3" stroke="#222" stroke-width="1" />
<line x1="45.3" y1="146.2" x2="177.9" y2="146.2" stroke="#505050" stroke-width="1.5" />
<line x1="45.3" y1="251.5" x2="177.9" y2="251.5" stroke="#505050" stroke-width="1.3" />
<line x1="46" y1="145.5" x2="46" y2="252.2" stroke="#505050" stroke-width="1.5" />
<line x1="177.2" y1="145.5" x2="177.2" y2="252.2" stroke="#505050" stroke-width="1.5" />
<text transform="translate(111.5,273.2) scale(1,1.08)" font-size="8.9" text-anchor="middle" font-weight="bold" >Concentration (nM)</text>
<text transform="translate(25.9,201) rotate(-90)" font-size="8.7" text-anchor="middle" font-weight="bold">&#916;V (mV)</text>
<text transform="translate(12.6,149.9) scale(1,1.08)" font-size="8.9" text-anchor="start" font-weight="bold" >(d)</text>
<text transform="translate(51.9,157) scale(1,1.08)" font-size="7" text-anchor="start" font-weight="bold" >I<tspan font-size="4.6" dy="1.5">d</tspan><tspan dy="-1.5">=10nA</tspan></text>
<line x1="224.6" y1="146.1" x2="226.8" y2="146.1" stroke="#222" stroke-width="1.2" />
<text transform="translate(223.6,148.1) scale(1,1.08)" font-size="6.6" text-anchor="end" font-weight="bold" >150</text>
<line x1="225.6" y1="159.31" x2="226.8" y2="159.31" stroke="#222" stroke-width="1" />
<line x1="224.6" y1="172.53" x2="226.8" y2="172.53" stroke="#222" stroke-width="1.2" />
<text transform="translate(223.6,174.53) scale(1,1.08)" font-size="6.6" text-anchor="end" font-weight="bold" >100</text>
<line x1="225.6" y1="185.74" x2="226.8" y2="185.74" stroke="#222" stroke-width="1" />
<line x1="224.6" y1="198.95" x2="226.8" y2="198.95" stroke="#222" stroke-width="1.2" />
<text transform="translate(223.6,200.95) scale(1,1.08)" font-size="6.6" text-anchor="end" font-weight="bold" >50</text>
<line x1="225.6" y1="212.16" x2="226.8" y2="212.16" stroke="#222" stroke-width="1" />
<line x1="224.6" y1="225.38" x2="226.8" y2="225.38" stroke="#222" stroke-width="1.2" />
<text transform="translate(223.6,227.38) scale(1,1.08)" font-size="6.6" text-anchor="end" font-weight="bold" >0</text>
<line x1="225.6" y1="238.59" x2="226.8" y2="238.59" stroke="#222" stroke-width="1" />
<line x1="224.6" y1="251.8" x2="226.8" y2="251.8" stroke="#222" stroke-width="1.2" />
<text transform="translate(223.6,253.8) scale(1,1.08)" font-size="6.6" text-anchor="end" font-weight="bold" ><tspan font-size="6.2" dy="-0.6" stroke="#000" stroke-width="0.35">&#8722;</tspan><tspan dy="0.6" dx="0.3">50</tspan></text>
<line x1="226.8" y1="251.8" x2="226.8" y2="254" stroke="#222" stroke-width="1.2" />
<text transform="translate(227,261.7) scale(1,1.08)" font-size="7" text-anchor="middle" font-weight="bold" >10<tspan font-size="4.4" dy="-3">0</tspan></text>
<line x1="231.2" y1="251.8" x2="231.2" y2="252.7" stroke="#222" stroke-width="0.7" />
<line x1="233.77" y1="251.8" x2="233.77" y2="252.7" stroke="#222" stroke-width="0.7" />
<line x1="235.6" y1="251.8" x2="235.6" y2="252.7" stroke="#222" stroke-width="0.7" />
<line x1="237.01" y1="251.8" x2="237.01" y2="252.7" stroke="#222" stroke-width="0.7" />
<line x1="238.17" y1="251.8" x2="238.17" y2="252.7" stroke="#222" stroke-width="0.7" />
<line x1="239.15" y1="251.8" x2="239.15" y2="252.7" stroke="#222" stroke-width="0.7" />
<line x1="240" y1="251.8" x2="240" y2="252.7" stroke="#222" stroke-width="0.7" />
<line x1="240.74" y1="251.8" x2="240.74" y2="252.7" stroke="#222" stroke-width="0.7" />
<line x1="241.41" y1="251.8" x2="241.41" y2="253.3" stroke="#222" stroke-width="1" />
<line x1="245.81" y1="251.8" x2="245.81" y2="252.7" stroke="#222" stroke-width="0.7" />
<line x1="248.38" y1="251.8" x2="248.38" y2="252.7" stroke="#222" stroke-width="0.7" />
<line x1="250.21" y1="251.8" x2="250.21" y2="252.7" stroke="#222" stroke-width="0.7" />
<line x1="251.62" y1="251.8" x2="251.62" y2="252.7" stroke="#222" stroke-width="0.7" />
<line x1="252.78" y1="251.8" x2="252.78" y2="252.7" stroke="#222" stroke-width="0.7" />
<line x1="253.76" y1="251.8" x2="253.76" y2="252.7" stroke="#222" stroke-width="0.7" />
<line x1="254.61" y1="251.8" x2="254.61" y2="252.7" stroke="#222" stroke-width="0.7" />
<line x1="255.35" y1="251.8" x2="255.35" y2="252.7" stroke="#222" stroke-width="0.7" />
<line x1="256.02" y1="251.8" x2="256.02" y2="254" stroke="#222" stroke-width="1.2" />
<text transform="translate(256.22,261.7) scale(1,1.08)" font-size="7" text-anchor="middle" font-weight="bold" >10<tspan font-size="4.4" dy="-3">2</tspan></text>
<line x1="260.42" y1="251.8" x2="260.42" y2="252.7" stroke="#222" stroke-width="0.7" />
<line x1="262.99" y1="251.8" x2="262.99" y2="252.7" stroke="#222" stroke-width="0.7" />
<line x1="264.82" y1="251.8" x2="264.82" y2="252.7" stroke="#222" stroke-width="0.7" />
<line x1="266.23" y1="251.8" x2="266.23" y2="252.7" stroke="#222" stroke-width="0.7" />
<line x1="267.39" y1="251.8" x2="267.39" y2="252.7" stroke="#222" stroke-width="0.7" />
<line x1="268.37" y1="251.8" x2="268.37" y2="252.7" stroke="#222" stroke-width="0.7" />
<line x1="269.22" y1="251.8" x2="269.22" y2="252.7" stroke="#222" stroke-width="0.7" />
<line x1="269.96" y1="251.8" x2="269.96" y2="252.7" stroke="#222" stroke-width="0.7" />
<line x1="270.63" y1="251.8" x2="270.63" y2="253.3" stroke="#222" stroke-width="1" />
<line x1="275.03" y1="251.8" x2="275.03" y2="252.7" stroke="#222" stroke-width="0.7" />
<line x1="277.6" y1="251.8" x2="277.6" y2="252.7" stroke="#222" stroke-width="0.7" />
<line x1="279.43" y1="251.8" x2="279.43" y2="252.7" stroke="#222" stroke-width="0.7" />
<line x1="280.85" y1="251.8" x2="280.85" y2="252.7" stroke="#222" stroke-width="0.7" />
<line x1="282" y1="251.8" x2="282" y2="252.7" stroke="#222" stroke-width="0.7" />
<line x1="282.98" y1="251.8" x2="282.98" y2="252.7" stroke="#222" stroke-width="0.7" />
<line x1="283.83" y1="251.8" x2="283.83" y2="252.7" stroke="#222" stroke-width="0.7" />
<line x1="284.58" y1="251.8" x2="284.58" y2="252.7" stroke="#222" stroke-width="0.7" />
<line x1="285.24" y1="251.8" x2="285.24" y2="254" stroke="#222" stroke-width="1.2" />
<text transform="translate(285.44,261.7) scale(1,1.08)" font-size="7" text-anchor="middle" font-weight="bold" >10<tspan font-size="4.4" dy="-3">4</tspan></text>
<line x1="289.64" y1="251.8" x2="289.64" y2="252.7" stroke="#222" stroke-width="0.7" />
<line x1="292.22" y1="251.8" x2="292.22" y2="252.7" stroke="#222" stroke-width="0.7" />
<line x1="294.04" y1="251.8" x2="294.04" y2="252.7" stroke="#222" stroke-width="0.7" />
<line x1="295.46" y1="251.8" x2="295.46" y2="252.7" stroke="#222" stroke-width="0.7" />
<line x1="296.61" y1="251.8" x2="296.61" y2="252.7" stroke="#222" stroke-width="0.7" />
<line x1="297.59" y1="251.8" x2="297.59" y2="252.7" stroke="#222" stroke-width="0.7" />
<line x1="298.44" y1="251.8" x2="298.44" y2="252.7" stroke="#222" stroke-width="0.7" />
<line x1="299.19" y1="251.8" x2="299.19" y2="252.7" stroke="#222" stroke-width="0.7" />
<line x1="299.86" y1="251.8" x2="299.86" y2="253.3" stroke="#222" stroke-width="1" />
<line x1="304.25" y1="251.8" x2="304.25" y2="252.7" stroke="#222" stroke-width="0.7" />
<line x1="306.83" y1="251.8" x2="306.83" y2="252.7" stroke="#222" stroke-width="0.7" />
<line x1="308.65" y1="251.8" x2="308.65" y2="252.7" stroke="#222" stroke-width="0.7" />
<line x1="310.07" y1="251.8" x2="310.07" y2="252.7" stroke="#222" stroke-width="0.7" />
<line x1="311.23" y1="251.8" x2="311.23" y2="252.7" stroke="#222" stroke-width="0.7" />
<line x1="312.2" y1="251.8" x2="312.2" y2="252.7" stroke="#222" stroke-width="0.7" />
<line x1="313.05" y1="251.8" x2="313.05" y2="252.7" stroke="#222" stroke-width="0.7" />
<line x1="313.8" y1="251.8" x2="313.8" y2="252.7" stroke="#222" stroke-width="0.7" />
<line x1="314.47" y1="251.8" x2="314.47" y2="254" stroke="#222" stroke-width="1.2" />
<text transform="translate(314.67,261.7) scale(1,1.08)" font-size="7" text-anchor="middle" font-weight="bold" >10<tspan font-size="4.4" dy="-3">6</tspan></text>
<line x1="318.87" y1="251.8" x2="318.87" y2="252.7" stroke="#222" stroke-width="0.7" />
<line x1="321.44" y1="251.8" x2="321.44" y2="252.7" stroke="#222" stroke-width="0.7" />
<line x1="323.26" y1="251.8" x2="323.26" y2="252.7" stroke="#222" stroke-width="0.7" />
<line x1="324.68" y1="251.8" x2="324.68" y2="252.7" stroke="#222" stroke-width="0.7" />
<line x1="325.84" y1="251.8" x2="325.84" y2="252.7" stroke="#222" stroke-width="0.7" />
<line x1="326.81" y1="251.8" x2="326.81" y2="252.7" stroke="#222" stroke-width="0.7" />
<line x1="327.66" y1="251.8" x2="327.66" y2="252.7" stroke="#222" stroke-width="0.7" />
<line x1="328.41" y1="251.8" x2="328.41" y2="252.7" stroke="#222" stroke-width="0.7" />
<line x1="329.08" y1="251.8" x2="329.08" y2="253.3" stroke="#222" stroke-width="1" />
<line x1="333.48" y1="251.8" x2="333.48" y2="252.7" stroke="#222" stroke-width="0.7" />
<line x1="336.05" y1="251.8" x2="336.05" y2="252.7" stroke="#222" stroke-width="0.7" />
<line x1="337.87" y1="251.8" x2="337.87" y2="252.7" stroke="#222" stroke-width="0.7" />
<line x1="339.29" y1="251.8" x2="339.29" y2="252.7" stroke="#222" stroke-width="0.7" />
<line x1="340.45" y1="251.8" x2="340.45" y2="252.7" stroke="#222" stroke-width="0.7" />
<line x1="341.43" y1="251.8" x2="341.43" y2="252.7" stroke="#222" stroke-width="0.7" />
<line x1="342.27" y1="251.8" x2="342.27" y2="252.7" stroke="#222" stroke-width="0.7" />
<line x1="343.02" y1="251.8" x2="343.02" y2="252.7" stroke="#222" stroke-width="0.7" />
<line x1="343.69" y1="251.8" x2="343.69" y2="254" stroke="#222" stroke-width="1.2" />
<text transform="translate(343.89,261.7) scale(1,1.08)" font-size="7" text-anchor="middle" font-weight="bold" >10<tspan font-size="4.4" dy="-3">8</tspan></text>
<line x1="348.09" y1="251.8" x2="348.09" y2="252.7" stroke="#222" stroke-width="0.7" />
<line x1="350.66" y1="251.8" x2="350.66" y2="252.7" stroke="#222" stroke-width="0.7" />
<line x1="352.49" y1="251.8" x2="352.49" y2="252.7" stroke="#222" stroke-width="0.7" />
<line x1="353.9" y1="251.8" x2="353.9" y2="252.7" stroke="#222" stroke-width="0.7" />
<line x1="355.06" y1="251.8" x2="355.06" y2="252.7" stroke="#222" stroke-width="0.7" />
<line x1="356.04" y1="251.8" x2="356.04" y2="252.7" stroke="#222" stroke-width="0.7" />
<line x1="356.88" y1="251.8" x2="356.88" y2="252.7" stroke="#222" stroke-width="0.7" />
<line x1="357.63" y1="251.8" x2="357.63" y2="252.7" stroke="#222" stroke-width="0.7" />
<line x1="358.3" y1="251.8" x2="358.3" y2="253.3" stroke="#222" stroke-width="1" />
<line x1="226.3" y1="146.2" x2="359" y2="146.2" stroke="#505050" stroke-width="1.5" />
<line x1="226.3" y1="251.5" x2="359" y2="251.5" stroke="#505050" stroke-width="1.3" />
<line x1="227" y1="145.5" x2="227" y2="252.2" stroke="#505050" stroke-width="1.5" />
<line x1="358.3" y1="145.5" x2="358.3" y2="252.2" stroke="#505050" stroke-width="1.5" />
<text transform="translate(292.55,273.2) scale(1,1.08)" font-size="8.9" text-anchor="middle" font-weight="bold" >Concentration (nM)</text>
<text transform="translate(206.9,201) rotate(-90)" font-size="8.7" text-anchor="middle" font-weight="bold">&#916;V (mV)</text>
<text transform="translate(186.5,149.9) scale(1,1.08)" font-size="8.9" text-anchor="start" font-weight="bold" >(e)</text>
<text transform="translate(232.9,157) scale(1,1.08)" font-size="7" text-anchor="start" font-weight="bold" >I<tspan font-size="4.6" dy="1.5">d</tspan><tspan dy="-1.5">=10nA</tspan></text>
<line x1="405.6" y1="146.1" x2="407.8" y2="146.1" stroke="#222" stroke-width="1.2" />
<text transform="translate(404.6,148.1) scale(1,1.08)" font-size="6.6" text-anchor="end" font-weight="bold" >200</text>
<line x1="406.6" y1="156.67" x2="407.8" y2="156.67" stroke="#222" stroke-width="1" />
<line x1="405.6" y1="167.24" x2="407.8" y2="167.24" stroke="#222" stroke-width="1.2" />
<text transform="translate(404.6,169.24) scale(1,1.08)" font-size="6.6" text-anchor="end" font-weight="bold" >150</text>
<line x1="406.6" y1="177.81" x2="407.8" y2="177.81" stroke="#222" stroke-width="1" />
<line x1="405.6" y1="188.38" x2="407.8" y2="188.38" stroke="#222" stroke-width="1.2" />
<text transform="translate(404.6,190.38) scale(1,1.08)" font-size="6.6" text-anchor="end" font-weight="bold" >100</text>
<line x1="406.6" y1="198.95" x2="407.8" y2="198.95" stroke="#222" stroke-width="1" />
<line x1="405.6" y1="209.52" x2="407.8" y2="209.52" stroke="#222" stroke-width="1.2" />
<text transform="translate(404.6,211.52) scale(1,1.08)" font-size="6.6" text-anchor="end" font-weight="bold" >50</text>
<line x1="406.6" y1="220.09" x2="407.8" y2="220.09" stroke="#222" stroke-width="1" />
<line x1="405.6" y1="230.66" x2="407.8" y2="230.66" stroke="#222" stroke-width="1.2" />
<text transform="translate(404.6,232.66) scale(1,1.08)" font-size="6.6" text-anchor="end" font-weight="bold" >0</text>
<line x1="406.6" y1="241.23" x2="407.8" y2="241.23" stroke="#222" stroke-width="1" />
<line x1="405.6" y1="251.8" x2="407.8" y2="251.8" stroke="#222" stroke-width="1.2" />
<text transform="translate(404.6,253.8) scale(1,1.08)" font-size="6.6" text-anchor="end" font-weight="bold" ><tspan font-size="6.2" dy="-0.6" stroke="#000" stroke-width="0.35">&#8722;</tspan><tspan dy="0.6" dx="0.3">50</tspan></text>
<line x1="407.8" y1="251.8" x2="407.8" y2="254" stroke="#222" stroke-width="1.2" />
<text transform="translate(408,261.7) scale(1,1.08)" font-size="7" text-anchor="middle" font-weight="bold" >10<tspan font-size="4.4" dy="-3">0</tspan></text>
<line x1="412.19" y1="251.8" x2="412.19" y2="252.7" stroke="#222" stroke-width="0.7" />
<line x1="414.76" y1="251.8" x2="414.76" y2="252.7" stroke="#222" stroke-width="0.7" />
<line x1="416.58" y1="251.8" x2="416.58" y2="252.7" stroke="#222" stroke-width="0.7" />
<line x1="417.99" y1="251.8" x2="417.99" y2="252.7" stroke="#222" stroke-width="0.7" />
<line x1="419.14" y1="251.8" x2="419.14" y2="252.7" stroke="#222" stroke-width="0.7" />
<line x1="420.12" y1="251.8" x2="420.12" y2="252.7" stroke="#222" stroke-width="0.7" />
<line x1="420.97" y1="251.8" x2="420.97" y2="252.7" stroke="#222" stroke-width="0.7" />
<line x1="421.71" y1="251.8" x2="421.71" y2="252.7" stroke="#222" stroke-width="0.7" />
<line x1="422.38" y1="251.8" x2="422.38" y2="253.3" stroke="#222" stroke-width="1" />
<line x1="426.77" y1="251.8" x2="426.77" y2="252.7" stroke="#222" stroke-width="0.7" />
<line x1="429.33" y1="251.8" x2="429.33" y2="252.7" stroke="#222" stroke-width="0.7" />
<line x1="431.15" y1="251.8" x2="431.15" y2="252.7" stroke="#222" stroke-width="0.7" />
<line x1="432.57" y1="251.8" x2="432.57" y2="252.7" stroke="#222" stroke-width="0.7" />
<line x1="433.72" y1="251.8" x2="433.72" y2="252.7" stroke="#222" stroke-width="0.7" />
<line x1="434.7" y1="251.8" x2="434.7" y2="252.7" stroke="#222" stroke-width="0.7" />
<line x1="435.54" y1="251.8" x2="435.54" y2="252.7" stroke="#222" stroke-width="0.7" />
<line x1="436.29" y1="251.8" x2="436.29" y2="252.7" stroke="#222" stroke-width="0.7" />
<line x1="436.96" y1="251.8" x2="436.96" y2="254" stroke="#222" stroke-width="1.2" />
<text transform="translate(437.16,261.7) scale(1,1.08)" font-size="7" text-anchor="middle" font-weight="bold" >10<tspan font-size="4.4" dy="-3">2</tspan></text>
<line x1="441.34" y1="251.8" x2="441.34" y2="252.7" stroke="#222" stroke-width="0.7" />
<line x1="443.91" y1="251.8" x2="443.91" y2="252.7" stroke="#222" stroke-width="0.7" />
<line x1="445.73" y1="251.8" x2="445.73" y2="252.7" stroke="#222" stroke-width="0.7" />
<line x1="447.14" y1="251.8" x2="447.14" y2="252.7" stroke="#222" stroke-width="0.7" />
<line x1="448.3" y1="251.8" x2="448.3" y2="252.7" stroke="#222" stroke-width="0.7" />
<line x1="449.28" y1="251.8" x2="449.28" y2="252.7" stroke="#222" stroke-width="0.7" />
<line x1="450.12" y1="251.8" x2="450.12" y2="252.7" stroke="#222" stroke-width="0.7" />
<line x1="450.87" y1="251.8" x2="450.87" y2="252.7" stroke="#222" stroke-width="0.7" />
<line x1="451.53" y1="251.8" x2="451.53" y2="253.3" stroke="#222" stroke-width="1" />
<line x1="455.92" y1="251.8" x2="455.92" y2="252.7" stroke="#222" stroke-width="0.7" />
<line x1="458.49" y1="251.8" x2="458.49" y2="252.7" stroke="#222" stroke-width="0.7" />
<line x1="460.31" y1="251.8" x2="460.31" y2="252.7" stroke="#222" stroke-width="0.7" />
<line x1="461.72" y1="251.8" x2="461.72" y2="252.7" stroke="#222" stroke-width="0.7" />
<line x1="462.88" y1="251.8" x2="462.88" y2="252.7" stroke="#222" stroke-width="0.7" />
<line x1="463.85" y1="251.8" x2="463.85" y2="252.7" stroke="#222" stroke-width="0.7" />
<line x1="464.7" y1="251.8" x2="464.7" y2="252.7" stroke="#222" stroke-width="0.7" />
<line x1="465.44" y1="251.8" x2="465.44" y2="252.7" stroke="#222" stroke-width="0.7" />
<line x1="466.11" y1="251.8" x2="466.11" y2="254" stroke="#222" stroke-width="1.2" />
<text transform="translate(466.31,261.7) scale(1,1.08)" font-size="7" text-anchor="middle" font-weight="bold" >10<tspan font-size="4.4" dy="-3">4</tspan></text>
<line x1="470.5" y1="251.8" x2="470.5" y2="252.7" stroke="#222" stroke-width="0.7" />
<line x1="473.07" y1="251.8" x2="473.07" y2="252.7" stroke="#222" stroke-width="0.7" />
<line x1="474.89" y1="251.8" x2="474.89" y2="252.7" stroke="#222" stroke-width="0.7" />
<line x1="476.3" y1="251.8" x2="476.3" y2="252.7" stroke="#222" stroke-width="0.7" />
<line x1="477.45" y1="251.8" x2="477.45" y2="252.7" stroke="#222" stroke-width="0.7" />
<line x1="478.43" y1="251.8" x2="478.43" y2="252.7" stroke="#222" stroke-width="0.7" />
<line x1="479.28" y1="251.8" x2="479.28" y2="252.7" stroke="#222" stroke-width="0.7" />
<line x1="480.02" y1="251.8" x2="480.02" y2="252.7" stroke="#222" stroke-width="0.7" />
<line x1="480.69" y1="251.8" x2="480.69" y2="253.3" stroke="#222" stroke-width="1" />
<line x1="485.08" y1="251.8" x2="485.08" y2="252.7" stroke="#222" stroke-width="0.7" />
<line x1="487.64" y1="251.8" x2="487.64" y2="252.7" stroke="#222" stroke-width="0.7" />
<line x1="489.47" y1="251.8" x2="489.47" y2="252.7" stroke="#222" stroke-width="0.7" />
<line x1="490.88" y1="251.8" x2="490.88" y2="252.7" stroke="#222" stroke-width="0.7" />
<line x1="492.03" y1="251.8" x2="492.03" y2="252.7" stroke="#222" stroke-width="0.7" />
<line x1="493.01" y1="251.8" x2="493.01" y2="252.7" stroke="#222" stroke-width="0.7" />
<line x1="493.85" y1="251.8" x2="493.85" y2="252.7" stroke="#222" stroke-width="0.7" />
<line x1="494.6" y1="251.8" x2="494.6" y2="252.7" stroke="#222" stroke-width="0.7" />
<line x1="495.27" y1="251.8" x2="495.27" y2="254" stroke="#222" stroke-width="1.2" />
<text transform="translate(495.47,261.7) scale(1,1.08)" font-size="7" text-anchor="middle" font-weight="bold" >10<tspan font-size="4.4" dy="-3">6</tspan></text>
<line x1="499.66" y1="251.8" x2="499.66" y2="252.7" stroke="#222" stroke-width="0.7" />
<line x1="502.22" y1="251.8" x2="502.22" y2="252.7" stroke="#222" stroke-width="0.7" />
<line x1="504.04" y1="251.8" x2="504.04" y2="252.7" stroke="#222" stroke-width="0.7" />
<line x1="505.46" y1="251.8" x2="505.46" y2="252.7" stroke="#222" stroke-width="0.7" />
<line x1="506.61" y1="251.8" x2="506.61" y2="252.7" stroke="#222" stroke-width="0.7" />
<line x1="507.59" y1="251.8" x2="507.59" y2="252.7" stroke="#222" stroke-width="0.7" />
<line x1="508.43" y1="251.8" x2="508.43" y2="252.7" stroke="#222" stroke-width="0.7" />
<line x1="509.18" y1="251.8" x2="509.18" y2="252.7" stroke="#222" stroke-width="0.7" />
<line x1="509.84" y1="251.8" x2="509.84" y2="253.3" stroke="#222" stroke-width="1" />
<line x1="514.23" y1="251.8" x2="514.23" y2="252.7" stroke="#222" stroke-width="0.7" />
<line x1="516.8" y1="251.8" x2="516.8" y2="252.7" stroke="#222" stroke-width="0.7" />
<line x1="518.62" y1="251.8" x2="518.62" y2="252.7" stroke="#222" stroke-width="0.7" />
<line x1="520.03" y1="251.8" x2="520.03" y2="252.7" stroke="#222" stroke-width="0.7" />
<line x1="521.19" y1="251.8" x2="521.19" y2="252.7" stroke="#222" stroke-width="0.7" />
<line x1="522.16" y1="251.8" x2="522.16" y2="252.7" stroke="#222" stroke-width="0.7" />
<line x1="523.01" y1="251.8" x2="523.01" y2="252.7" stroke="#222" stroke-width="0.7" />
<line x1="523.76" y1="251.8" x2="523.76" y2="252.7" stroke="#222" stroke-width="0.7" />
<line x1="524.42" y1="251.8" x2="524.42" y2="254" stroke="#222" stroke-width="1.2" />
<text transform="translate(524.62,261.7) scale(1,1.08)" font-size="7" text-anchor="middle" font-weight="bold" >10<tspan font-size="4.4" dy="-3">8</tspan></text>
<line x1="528.81" y1="251.8" x2="528.81" y2="252.7" stroke="#222" stroke-width="0.7" />
<line x1="531.38" y1="251.8" x2="531.38" y2="252.7" stroke="#222" stroke-width="0.7" />
<line x1="533.2" y1="251.8" x2="533.2" y2="252.7" stroke="#222" stroke-width="0.7" />
<line x1="534.61" y1="251.8" x2="534.61" y2="252.7" stroke="#222" stroke-width="0.7" />
<line x1="535.77" y1="251.8" x2="535.77" y2="252.7" stroke="#222" stroke-width="0.7" />
<line x1="536.74" y1="251.8" x2="536.74" y2="252.7" stroke="#222" stroke-width="0.7" />
<line x1="537.59" y1="251.8" x2="537.59" y2="252.7" stroke="#222" stroke-width="0.7" />
<line x1="538.33" y1="251.8" x2="538.33" y2="252.7" stroke="#222" stroke-width="0.7" />
<line x1="539" y1="251.8" x2="539" y2="253.3" stroke="#222" stroke-width="1" />
<line x1="407.3" y1="146.2" x2="539.7" y2="146.2" stroke="#505050" stroke-width="1.5" />
<line x1="407.3" y1="251.5" x2="539.7" y2="251.5" stroke="#505050" stroke-width="1.3" />
<line x1="408" y1="145.5" x2="408" y2="252.2" stroke="#505050" stroke-width="1.5" />
<line x1="539" y1="145.5" x2="539" y2="252.2" stroke="#505050" stroke-width="1.5" />
<text transform="translate(473.4,273.2) scale(1,1.08)" font-size="8.9" text-anchor="middle" font-weight="bold" >Concentration (nM)</text>
<text transform="translate(387.9,201) rotate(-90)" font-size="8.7" text-anchor="middle" font-weight="bold">&#916;V (mV)</text>
<text transform="translate(367.9,149.9) scale(1,1.08)" font-size="8.9" text-anchor="start" font-weight="bold" >(f)</text>
<text transform="translate(413.9,157) scale(1,1.08)" font-size="7" text-anchor="start" font-weight="bold" >I<tspan font-size="4.6" dy="1.5">d</tspan><tspan dy="-1.5">=10nA</tspan></text>
<rect x="58.9" y="224.93" width="3" height="3" fill="#0000ff"/>
<rect x="73.5" y="224.93" width="3" height="3" fill="#0000ff"/>
<line x1="89.6" y1="225.59" x2="89.6" y2="227.28" stroke="#1a1aff" stroke-width="0.7" />
<line x1="88.6" y1="225.59" x2="90.6" y2="225.59" stroke="#1a1aff" stroke-width="0.7" />
<line x1="88.6" y1="227.28" x2="90.6" y2="227.28" stroke="#1a1aff" stroke-width="0.7" />
<rect x="88.1" y="224.93" width="3" height="3" fill="#0000ff"/>
<rect x="102.7" y="226.62" width="3" height="3" fill="#0000ff"/>
<rect x="117.3" y="224.93" width="3" height="3" fill="#0000ff"/>
<rect x="131.9" y="215.63" width="3" height="3" fill="#0000ff"/>
<rect x="146.5" y="196.18" width="3" height="3" fill="#0000ff"/>
<line x1="162.6" y1="161.32" x2="162.6" y2="170.62" stroke="#1a1aff" stroke-width="0.7" />
<line x1="161.6" y1="161.32" x2="163.6" y2="161.32" stroke="#1a1aff" stroke-width="0.7" />
<line x1="161.6" y1="170.62" x2="163.6" y2="170.62" stroke="#1a1aff" stroke-width="0.7" />
<rect x="161.1" y="164.47" width="3" height="3" fill="#0000ff"/>
<rect x="239.91" y="221.23" width="3" height="3" fill="#0000ff"/>
<line x1="256.02" y1="226.96" x2="256.02" y2="229.07" stroke="#1a1aff" stroke-width="0.7" />
<line x1="255.02" y1="226.96" x2="257.02" y2="226.96" stroke="#1a1aff" stroke-width="0.7" />
<line x1="255.02" y1="229.07" x2="257.02" y2="229.07" stroke="#1a1aff" stroke-width="0.7" />
<rect x="254.52" y="226.52" width="3" height="3" fill="#0000ff"/>
<line x1="270.63" y1="227.49" x2="270.63" y2="233.83" stroke="#1a1aff" stroke-width="0.7" />
<line x1="269.63" y1="227.49" x2="271.63" y2="227.49" stroke="#1a1aff" stroke-width="0.7" />
<line x1="269.63" y1="233.83" x2="271.63" y2="233.83" stroke="#1a1aff" stroke-width="0.7" />
<rect x="269.13" y="229.16" width="3" height="3" fill="#0000ff"/>
<line x1="285.24" y1="230.13" x2="285.24" y2="237.53" stroke="#1a1aff" stroke-width="0.7" />
<line x1="284.24" y1="230.13" x2="286.24" y2="230.13" stroke="#1a1aff" stroke-width="0.7" />
<line x1="284.24" y1="237.53" x2="286.24" y2="237.53" stroke="#1a1aff" stroke-width="0.7" />
<rect x="283.74" y="232.33" width="3" height="3" fill="#0000ff"/>
<rect x="298.36" y="233.39" width="3" height="3" fill="#0000ff"/>
<rect x="312.97" y="222.29" width="3" height="3" fill="#0000ff"/>
<line x1="329.08" y1="202.12" x2="329.08" y2="206.35" stroke="#1a1aff" stroke-width="0.7" />
<line x1="328.08" y1="202.12" x2="330.08" y2="202.12" stroke="#1a1aff" stroke-width="0.7" />
<line x1="328.08" y1="206.35" x2="330.08" y2="206.35" stroke="#1a1aff" stroke-width="0.7" />
<rect x="327.58" y="202.74" width="3" height="3" fill="#0000ff"/>
<rect x="342.19" y="173.67" width="3" height="3" fill="#0000ff"/>
<line x1="422.38" y1="225.59" x2="422.38" y2="228.12" stroke="#1a1aff" stroke-width="0.7" />
<line x1="421.38" y1="225.59" x2="423.38" y2="225.59" stroke="#1a1aff" stroke-width="0.7" />
<line x1="421.38" y1="228.12" x2="423.38" y2="228.12" stroke="#1a1aff" stroke-width="0.7" />
<rect x="420.88" y="225.35" width="3" height="3" fill="#0000ff"/>
<line x1="436.96" y1="223.9" x2="436.96" y2="226.43" stroke="#1a1aff" stroke-width="0.7" />
<line x1="435.96" y1="223.9" x2="437.96" y2="223.9" stroke="#1a1aff" stroke-width="0.7" />
<line x1="435.96" y1="226.43" x2="437.96" y2="226.43" stroke="#1a1aff" stroke-width="0.7" />
<rect x="435.46" y="223.66" width="3" height="3" fill="#0000ff"/>
<line x1="451.53" y1="217.55" x2="451.53" y2="220.09" stroke="#1a1aff" stroke-width="0.7" />
<line x1="450.53" y1="217.55" x2="452.53" y2="217.55" stroke="#1a1aff" stroke-width="0.7" />
<line x1="450.53" y1="220.09" x2="452.53" y2="220.09" stroke="#1a1aff" stroke-width="0.7" />
<rect x="450.03" y="217.32" width="3" height="3" fill="#0000ff"/>
<rect x="464.61" y="223.66" width="3" height="3" fill="#0000ff"/>
<line x1="480.69" y1="225.16" x2="480.69" y2="226.85" stroke="#1a1aff" stroke-width="0.7" />
<line x1="479.69" y1="225.16" x2="481.69" y2="225.16" stroke="#1a1aff" stroke-width="0.7" />
<line x1="479.69" y1="226.85" x2="481.69" y2="226.85" stroke="#1a1aff" stroke-width="0.7" />
<rect x="479.19" y="224.51" width="3" height="3" fill="#0000ff"/>
<line x1="495.27" y1="212.06" x2="495.27" y2="214.59" stroke="#1a1aff" stroke-width="0.7" />
<line x1="494.27" y1="212.06" x2="496.27" y2="212.06" stroke="#1a1aff" stroke-width="0.7" />
<line x1="494.27" y1="214.59" x2="496.27" y2="214.59" stroke="#1a1aff" stroke-width="0.7" />
<rect x="493.77" y="211.83" width="3" height="3" fill="#0000ff"/>
<rect x="508.34" y="191.95" width="3" height="3" fill="#0000ff"/>
<rect x="522.92" y="170.81" width="3" height="3" fill="#0000ff"/>
</g>
</svg>
</body></html>
